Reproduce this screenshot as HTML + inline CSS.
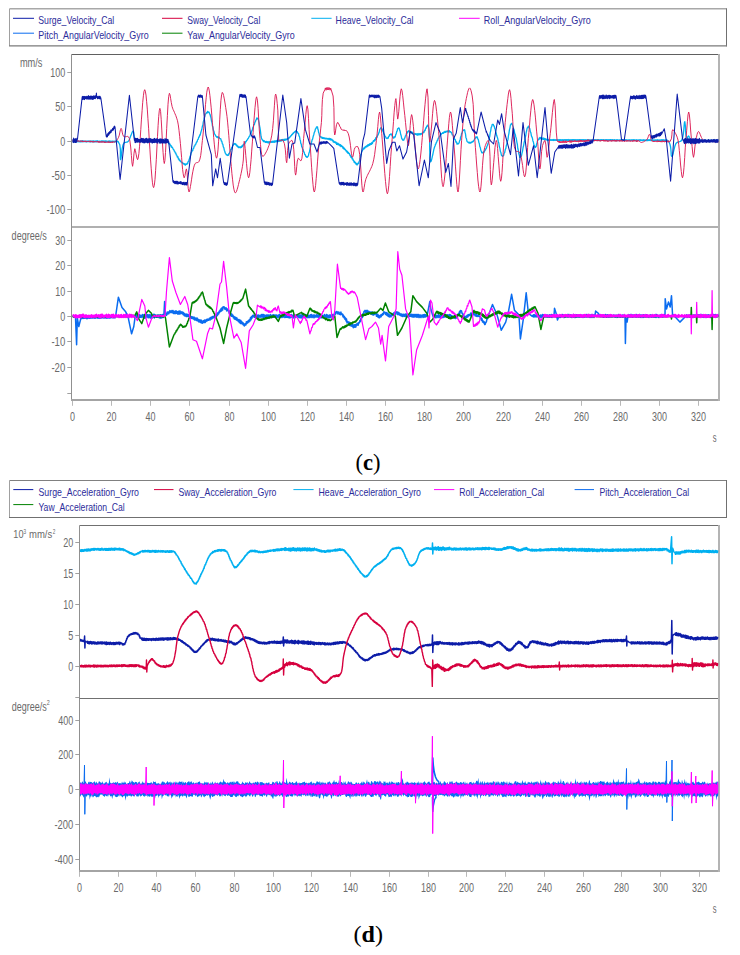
<!DOCTYPE html>
<html><head><meta charset="utf-8"><style>
html,body{margin:0;padding:0;background:#fff;width:740px;height:955px;overflow:hidden}
svg{display:block;font-family:"Liberation Sans", sans-serif}
</style></head><body>
<svg width="740" height="955" viewBox="0 0 740 955">
<line x1="9.5" y1="8.8" x2="726.5" y2="8.8" stroke="#a8a8a8" stroke-width="1.4"/>
<line x1="9.5" y1="8.8" x2="9.5" y2="45.8" stroke="#a0a0a0" stroke-width="1"/>
<line x1="726.5" y1="8.3" x2="726.5" y2="46.3" stroke="#707070" stroke-width="1"/>
<line x1="9.0" y1="45.8" x2="727.0" y2="45.8" stroke="#7a7a7a" stroke-width="1.3"/>
<line x1="13" y1="18.3" x2="34" y2="18.3" stroke="#0c1ca8" stroke-width="1"/>
<text x="38.3" y="24.3" font-size="11.5" text-anchor="start" fill="#2b2b9a" textLength="76" lengthAdjust="spacingAndGlyphs">Surge_Velocity_Cal</text>
<line x1="13" y1="33.2" x2="34" y2="33.2" stroke="#0a6cf0" stroke-width="1"/>
<text x="38.3" y="39.2" font-size="11.5" text-anchor="start" fill="#2b2b9a" textLength="110.3" lengthAdjust="spacingAndGlyphs">Pitch_AngularVelocity_Gyro</text>
<line x1="162" y1="18.3" x2="182.5" y2="18.3" stroke="#d6003e" stroke-width="1"/>
<text x="187.3" y="24.3" font-size="11.5" text-anchor="start" fill="#2b2b9a" textLength="73" lengthAdjust="spacingAndGlyphs">Sway_Velocity_Cal</text>
<line x1="162" y1="33.2" x2="182.5" y2="33.2" stroke="#008200" stroke-width="1"/>
<text x="187.3" y="39.2" font-size="11.5" text-anchor="start" fill="#2b2b9a" textLength="107.4" lengthAdjust="spacingAndGlyphs">Yaw_AngularVelocity_Gyro</text>
<line x1="311.3" y1="18.3" x2="331.6" y2="18.3" stroke="#00b0f0" stroke-width="1"/>
<text x="335.6" y="24.3" font-size="11.5" text-anchor="start" fill="#2b2b9a" textLength="77.9" lengthAdjust="spacingAndGlyphs">Heave_Velocity_Cal</text>
<line x1="459" y1="18.3" x2="479.7" y2="18.3" stroke="#ff00ff" stroke-width="1"/>
<text x="483.8" y="24.3" font-size="11.5" text-anchor="start" fill="#2b2b9a" textLength="107" lengthAdjust="spacingAndGlyphs">Roll_AngularVelocity_Gyro</text>
<line x1="9.5" y1="480.5" x2="726.5" y2="480.5" stroke="#808080" stroke-width="1"/>
<line x1="9.5" y1="480.5" x2="9.5" y2="517.5" stroke="#a0a0a0" stroke-width="1"/>
<line x1="726.5" y1="480.0" x2="726.5" y2="518.0" stroke="#707070" stroke-width="1"/>
<line x1="9.0" y1="517.5" x2="727.0" y2="517.5" stroke="#707070" stroke-width="1"/>
<line x1="13.3" y1="489.6" x2="33.3" y2="489.6" stroke="#0c1ca8" stroke-width="1"/>
<text x="38.5" y="495.6" font-size="11.5" text-anchor="start" fill="#2b2b9a" textLength="100.5" lengthAdjust="spacingAndGlyphs">Surge_Acceleration_Gyro</text>
<line x1="13.3" y1="504.6" x2="33.3" y2="504.6" stroke="#008200" stroke-width="1"/>
<text x="38.5" y="510.6" font-size="11.5" text-anchor="start" fill="#2b2b9a" textLength="86.3" lengthAdjust="spacingAndGlyphs">Yaw_Acceleration_Cal</text>
<line x1="154" y1="489.6" x2="173.5" y2="489.6" stroke="#d6003e" stroke-width="1"/>
<text x="178.4" y="495.6" font-size="11.5" text-anchor="start" fill="#2b2b9a" textLength="98" lengthAdjust="spacingAndGlyphs">Sway_Acceleration_Gyro</text>
<line x1="293.4" y1="489.6" x2="313.6" y2="489.6" stroke="#00b0f0" stroke-width="1"/>
<text x="318.5" y="495.6" font-size="11.5" text-anchor="start" fill="#2b2b9a" textLength="102.5" lengthAdjust="spacingAndGlyphs">Heave_Acceleration_Gyro</text>
<line x1="434" y1="489.6" x2="454.3" y2="489.6" stroke="#ff00ff" stroke-width="1"/>
<text x="459.2" y="495.6" font-size="11.5" text-anchor="start" fill="#2b2b9a" textLength="85.1" lengthAdjust="spacingAndGlyphs">Roll_Acceleration_Cal</text>
<line x1="574.6" y1="489.6" x2="594" y2="489.6" stroke="#0a6cf0" stroke-width="1"/>
<text x="599.5" y="495.6" font-size="11.5" text-anchor="start" fill="#2b2b9a" textLength="89.7" lengthAdjust="spacingAndGlyphs">Pitch_Acceleration_Cal</text>
<line x1="71.5" y1="54.5" x2="718" y2="54.5" stroke="#606060" stroke-width="1"/>
<line x1="719" y1="54.0" x2="719" y2="401" stroke="#b4b4b4" stroke-width="2"/>
<line x1="71.5" y1="54.5" x2="71.5" y2="400" stroke="#909090" stroke-width="1"/>
<line x1="71.0" y1="400" x2="718" y2="400" stroke="#a4a4a4" stroke-width="2"/>
<line x1="71.5" y1="227" x2="718" y2="227" stroke="#969696" stroke-width="1.5"/>
<line x1="67.3" y1="72.5" x2="71.0" y2="72.5" stroke="#a0a0a0" stroke-width="1"/>
<text x="65.2" y="77.0" font-size="12.3" text-anchor="end" fill="#6a6a6a" textLength="15.0" lengthAdjust="spacingAndGlyphs">100</text>
<line x1="67.3" y1="106.5" x2="71.0" y2="106.5" stroke="#a0a0a0" stroke-width="1"/>
<text x="65.2" y="111.0" font-size="12.3" text-anchor="end" fill="#6a6a6a" textLength="10.0" lengthAdjust="spacingAndGlyphs">50</text>
<line x1="67.3" y1="141.5" x2="71.0" y2="141.5" stroke="#a0a0a0" stroke-width="1"/>
<text x="65.2" y="146.0" font-size="12.3" text-anchor="end" fill="#6a6a6a" textLength="5.0" lengthAdjust="spacingAndGlyphs">0</text>
<line x1="67.3" y1="175.5" x2="71.0" y2="175.5" stroke="#a0a0a0" stroke-width="1"/>
<text x="65.2" y="180.0" font-size="12.3" text-anchor="end" fill="#6a6a6a" textLength="13.8" lengthAdjust="spacingAndGlyphs">-50</text>
<line x1="67.3" y1="209.5" x2="71.0" y2="209.5" stroke="#a0a0a0" stroke-width="1"/>
<text x="65.2" y="214.0" font-size="12.3" text-anchor="end" fill="#6a6a6a" textLength="18.8" lengthAdjust="spacingAndGlyphs">-100</text>
<line x1="67.3" y1="240.5" x2="71.0" y2="240.5" stroke="#a0a0a0" stroke-width="1"/>
<text x="65.2" y="245.0" font-size="12.3" text-anchor="end" fill="#6a6a6a" textLength="10.0" lengthAdjust="spacingAndGlyphs">30</text>
<line x1="67.3" y1="265.5" x2="71.0" y2="265.5" stroke="#a0a0a0" stroke-width="1"/>
<text x="65.2" y="270.0" font-size="12.3" text-anchor="end" fill="#6a6a6a" textLength="10.0" lengthAdjust="spacingAndGlyphs">20</text>
<line x1="67.3" y1="291.5" x2="71.0" y2="291.5" stroke="#a0a0a0" stroke-width="1"/>
<text x="65.2" y="296.0" font-size="12.3" text-anchor="end" fill="#6a6a6a" textLength="10.0" lengthAdjust="spacingAndGlyphs">10</text>
<line x1="67.3" y1="316.5" x2="71.0" y2="316.5" stroke="#a0a0a0" stroke-width="1"/>
<text x="65.2" y="321.0" font-size="12.3" text-anchor="end" fill="#6a6a6a" textLength="5.0" lengthAdjust="spacingAndGlyphs">0</text>
<line x1="67.3" y1="341.5" x2="71.0" y2="341.5" stroke="#a0a0a0" stroke-width="1"/>
<text x="65.2" y="346.0" font-size="12.3" text-anchor="end" fill="#6a6a6a" textLength="13.8" lengthAdjust="spacingAndGlyphs">-10</text>
<line x1="67.3" y1="367.5" x2="71.0" y2="367.5" stroke="#a0a0a0" stroke-width="1"/>
<text x="65.2" y="372.0" font-size="12.3" text-anchor="end" fill="#6a6a6a" textLength="13.8" lengthAdjust="spacingAndGlyphs">-20</text>
<line x1="67.3" y1="393.5" x2="71.0" y2="393.5" stroke="#a0a0a0" stroke-width="1"/>
<line x1="72.5" y1="401" x2="72.5" y2="405.8" stroke="#b8b8b8" stroke-width="1"/>
<text x="72.5" y="420.5" font-size="12.3" text-anchor="middle" fill="#6a6a6a" textLength="5.0" lengthAdjust="spacingAndGlyphs">0</text>
<line x1="111.5" y1="401" x2="111.5" y2="405.8" stroke="#b8b8b8" stroke-width="1"/>
<text x="111.5" y="420.5" font-size="12.3" text-anchor="middle" fill="#6a6a6a" textLength="10.0" lengthAdjust="spacingAndGlyphs">20</text>
<line x1="150.5" y1="401" x2="150.5" y2="405.8" stroke="#b8b8b8" stroke-width="1"/>
<text x="150.5" y="420.5" font-size="12.3" text-anchor="middle" fill="#6a6a6a" textLength="10.0" lengthAdjust="spacingAndGlyphs">40</text>
<line x1="189.5" y1="401" x2="189.5" y2="405.8" stroke="#b8b8b8" stroke-width="1"/>
<text x="189.5" y="420.5" font-size="12.3" text-anchor="middle" fill="#6a6a6a" textLength="10.0" lengthAdjust="spacingAndGlyphs">60</text>
<line x1="229.5" y1="401" x2="229.5" y2="405.8" stroke="#b8b8b8" stroke-width="1"/>
<text x="229.5" y="420.5" font-size="12.3" text-anchor="middle" fill="#6a6a6a" textLength="10.0" lengthAdjust="spacingAndGlyphs">80</text>
<line x1="268.5" y1="401" x2="268.5" y2="405.8" stroke="#b8b8b8" stroke-width="1"/>
<text x="268.5" y="420.5" font-size="12.3" text-anchor="middle" fill="#6a6a6a" textLength="15.0" lengthAdjust="spacingAndGlyphs">100</text>
<line x1="307.5" y1="401" x2="307.5" y2="405.8" stroke="#b8b8b8" stroke-width="1"/>
<text x="307.5" y="420.5" font-size="12.3" text-anchor="middle" fill="#6a6a6a" textLength="15.0" lengthAdjust="spacingAndGlyphs">120</text>
<line x1="346.5" y1="401" x2="346.5" y2="405.8" stroke="#b8b8b8" stroke-width="1"/>
<text x="346.5" y="420.5" font-size="12.3" text-anchor="middle" fill="#6a6a6a" textLength="15.0" lengthAdjust="spacingAndGlyphs">140</text>
<line x1="385.5" y1="401" x2="385.5" y2="405.8" stroke="#b8b8b8" stroke-width="1"/>
<text x="385.5" y="420.5" font-size="12.3" text-anchor="middle" fill="#6a6a6a" textLength="15.0" lengthAdjust="spacingAndGlyphs">160</text>
<line x1="424.5" y1="401" x2="424.5" y2="405.8" stroke="#b8b8b8" stroke-width="1"/>
<text x="424.5" y="420.5" font-size="12.3" text-anchor="middle" fill="#6a6a6a" textLength="15.0" lengthAdjust="spacingAndGlyphs">180</text>
<line x1="463.5" y1="401" x2="463.5" y2="405.8" stroke="#b8b8b8" stroke-width="1"/>
<text x="463.5" y="420.5" font-size="12.3" text-anchor="middle" fill="#6a6a6a" textLength="15.0" lengthAdjust="spacingAndGlyphs">200</text>
<line x1="503.5" y1="401" x2="503.5" y2="405.8" stroke="#b8b8b8" stroke-width="1"/>
<text x="503.5" y="420.5" font-size="12.3" text-anchor="middle" fill="#6a6a6a" textLength="15.0" lengthAdjust="spacingAndGlyphs">220</text>
<line x1="542.5" y1="401" x2="542.5" y2="405.8" stroke="#b8b8b8" stroke-width="1"/>
<text x="542.5" y="420.5" font-size="12.3" text-anchor="middle" fill="#6a6a6a" textLength="15.0" lengthAdjust="spacingAndGlyphs">240</text>
<line x1="581.5" y1="401" x2="581.5" y2="405.8" stroke="#b8b8b8" stroke-width="1"/>
<text x="581.5" y="420.5" font-size="12.3" text-anchor="middle" fill="#6a6a6a" textLength="15.0" lengthAdjust="spacingAndGlyphs">260</text>
<line x1="620.5" y1="401" x2="620.5" y2="405.8" stroke="#b8b8b8" stroke-width="1"/>
<text x="620.5" y="420.5" font-size="12.3" text-anchor="middle" fill="#6a6a6a" textLength="15.0" lengthAdjust="spacingAndGlyphs">280</text>
<line x1="659.5" y1="401" x2="659.5" y2="405.8" stroke="#b8b8b8" stroke-width="1"/>
<text x="659.5" y="420.5" font-size="12.3" text-anchor="middle" fill="#6a6a6a" textLength="15.0" lengthAdjust="spacingAndGlyphs">300</text>
<line x1="698.5" y1="401" x2="698.5" y2="405.8" stroke="#b8b8b8" stroke-width="1"/>
<text x="698.5" y="420.5" font-size="12.3" text-anchor="middle" fill="#6a6a6a" textLength="15.0" lengthAdjust="spacingAndGlyphs">320</text>
<text x="19.9" y="67" font-size="12" text-anchor="start" fill="#6a6a6a" textLength="22.6" lengthAdjust="spacingAndGlyphs">mm/s</text>
<text x="11.6" y="239.6" font-size="12" text-anchor="start" fill="#6a6a6a" textLength="35.2" lengthAdjust="spacingAndGlyphs">degree/s</text>
<text x="712.7" y="441.8" font-size="12.5" text-anchor="start" fill="#6a6a6a" textLength="3.8" lengthAdjust="spacingAndGlyphs">s</text>
<line x1="79.5" y1="525.5" x2="718" y2="525.5" stroke="#707070" stroke-width="1"/>
<line x1="719" y1="525.0" x2="719" y2="872" stroke="#b4b4b4" stroke-width="2"/>
<line x1="79.5" y1="525.5" x2="79.5" y2="871" stroke="#909090" stroke-width="1"/>
<line x1="79.0" y1="871" x2="718" y2="871" stroke="#a4a4a4" stroke-width="2"/>
<line x1="79.5" y1="698.5" x2="718" y2="698.5" stroke="#707070" stroke-width="1"/>
<line x1="75.3" y1="542.5" x2="79.0" y2="542.5" stroke="#a0a0a0" stroke-width="1"/>
<text x="73.2" y="547.0" font-size="12.3" text-anchor="end" fill="#6a6a6a" textLength="10.0" lengthAdjust="spacingAndGlyphs">20</text>
<line x1="75.3" y1="573.5" x2="79.0" y2="573.5" stroke="#a0a0a0" stroke-width="1"/>
<text x="73.2" y="578.0" font-size="12.3" text-anchor="end" fill="#6a6a6a" textLength="10.0" lengthAdjust="spacingAndGlyphs">15</text>
<line x1="75.3" y1="604.5" x2="79.0" y2="604.5" stroke="#a0a0a0" stroke-width="1"/>
<text x="73.2" y="609.0" font-size="12.3" text-anchor="end" fill="#6a6a6a" textLength="10.0" lengthAdjust="spacingAndGlyphs">10</text>
<line x1="75.3" y1="635.5" x2="79.0" y2="635.5" stroke="#a0a0a0" stroke-width="1"/>
<text x="73.2" y="640.0" font-size="12.3" text-anchor="end" fill="#6a6a6a" textLength="5.0" lengthAdjust="spacingAndGlyphs">5</text>
<line x1="75.3" y1="666.5" x2="79.0" y2="666.5" stroke="#a0a0a0" stroke-width="1"/>
<text x="73.2" y="671.0" font-size="12.3" text-anchor="end" fill="#6a6a6a" textLength="5.0" lengthAdjust="spacingAndGlyphs">0</text>
<line x1="75.3" y1="697.5" x2="79.0" y2="697.5" stroke="#a0a0a0" stroke-width="1"/>
<line x1="75.3" y1="720.5" x2="79.0" y2="720.5" stroke="#a0a0a0" stroke-width="1"/>
<text x="73.2" y="725.0" font-size="12.3" text-anchor="end" fill="#6a6a6a" textLength="15.0" lengthAdjust="spacingAndGlyphs">400</text>
<line x1="75.3" y1="754.5" x2="79.0" y2="754.5" stroke="#a0a0a0" stroke-width="1"/>
<text x="73.2" y="759.0" font-size="12.3" text-anchor="end" fill="#6a6a6a" textLength="15.0" lengthAdjust="spacingAndGlyphs">200</text>
<line x1="75.3" y1="789.5" x2="79.0" y2="789.5" stroke="#a0a0a0" stroke-width="1"/>
<text x="73.2" y="794.0" font-size="12.3" text-anchor="end" fill="#6a6a6a" textLength="5.0" lengthAdjust="spacingAndGlyphs">0</text>
<line x1="75.3" y1="824.5" x2="79.0" y2="824.5" stroke="#a0a0a0" stroke-width="1"/>
<text x="73.2" y="829.0" font-size="12.3" text-anchor="end" fill="#6a6a6a" textLength="18.8" lengthAdjust="spacingAndGlyphs">-200</text>
<line x1="75.3" y1="859.5" x2="79.0" y2="859.5" stroke="#a0a0a0" stroke-width="1"/>
<text x="73.2" y="864.0" font-size="12.3" text-anchor="end" fill="#6a6a6a" textLength="18.8" lengthAdjust="spacingAndGlyphs">-400</text>
<line x1="79.5" y1="872" x2="79.5" y2="876.8" stroke="#b8b8b8" stroke-width="1"/>
<text x="79.5" y="892.2" font-size="12.3" text-anchor="middle" fill="#6a6a6a" textLength="5.0" lengthAdjust="spacingAndGlyphs">0</text>
<line x1="118.5" y1="872" x2="118.5" y2="876.8" stroke="#b8b8b8" stroke-width="1"/>
<text x="118.5" y="892.2" font-size="12.3" text-anchor="middle" fill="#6a6a6a" textLength="10.0" lengthAdjust="spacingAndGlyphs">20</text>
<line x1="156.5" y1="872" x2="156.5" y2="876.8" stroke="#b8b8b8" stroke-width="1"/>
<text x="156.5" y="892.2" font-size="12.3" text-anchor="middle" fill="#6a6a6a" textLength="10.0" lengthAdjust="spacingAndGlyphs">40</text>
<line x1="195.5" y1="872" x2="195.5" y2="876.8" stroke="#b8b8b8" stroke-width="1"/>
<text x="195.5" y="892.2" font-size="12.3" text-anchor="middle" fill="#6a6a6a" textLength="10.0" lengthAdjust="spacingAndGlyphs">60</text>
<line x1="234.5" y1="872" x2="234.5" y2="876.8" stroke="#b8b8b8" stroke-width="1"/>
<text x="234.5" y="892.2" font-size="12.3" text-anchor="middle" fill="#6a6a6a" textLength="10.0" lengthAdjust="spacingAndGlyphs">80</text>
<line x1="273.5" y1="872" x2="273.5" y2="876.8" stroke="#b8b8b8" stroke-width="1"/>
<text x="273.5" y="892.2" font-size="12.3" text-anchor="middle" fill="#6a6a6a" textLength="15.0" lengthAdjust="spacingAndGlyphs">100</text>
<line x1="311.5" y1="872" x2="311.5" y2="876.8" stroke="#b8b8b8" stroke-width="1"/>
<text x="311.5" y="892.2" font-size="12.3" text-anchor="middle" fill="#6a6a6a" textLength="15.0" lengthAdjust="spacingAndGlyphs">120</text>
<line x1="350.5" y1="872" x2="350.5" y2="876.8" stroke="#b8b8b8" stroke-width="1"/>
<text x="350.5" y="892.2" font-size="12.3" text-anchor="middle" fill="#6a6a6a" textLength="15.0" lengthAdjust="spacingAndGlyphs">140</text>
<line x1="389.5" y1="872" x2="389.5" y2="876.8" stroke="#b8b8b8" stroke-width="1"/>
<text x="389.5" y="892.2" font-size="12.3" text-anchor="middle" fill="#6a6a6a" textLength="15.0" lengthAdjust="spacingAndGlyphs">160</text>
<line x1="428.5" y1="872" x2="428.5" y2="876.8" stroke="#b8b8b8" stroke-width="1"/>
<text x="428.5" y="892.2" font-size="12.3" text-anchor="middle" fill="#6a6a6a" textLength="15.0" lengthAdjust="spacingAndGlyphs">180</text>
<line x1="466.5" y1="872" x2="466.5" y2="876.8" stroke="#b8b8b8" stroke-width="1"/>
<text x="466.5" y="892.2" font-size="12.3" text-anchor="middle" fill="#6a6a6a" textLength="15.0" lengthAdjust="spacingAndGlyphs">200</text>
<line x1="505.5" y1="872" x2="505.5" y2="876.8" stroke="#b8b8b8" stroke-width="1"/>
<text x="505.5" y="892.2" font-size="12.3" text-anchor="middle" fill="#6a6a6a" textLength="15.0" lengthAdjust="spacingAndGlyphs">220</text>
<line x1="544.5" y1="872" x2="544.5" y2="876.8" stroke="#b8b8b8" stroke-width="1"/>
<text x="544.5" y="892.2" font-size="12.3" text-anchor="middle" fill="#6a6a6a" textLength="15.0" lengthAdjust="spacingAndGlyphs">240</text>
<line x1="583.5" y1="872" x2="583.5" y2="876.8" stroke="#b8b8b8" stroke-width="1"/>
<text x="583.5" y="892.2" font-size="12.3" text-anchor="middle" fill="#6a6a6a" textLength="15.0" lengthAdjust="spacingAndGlyphs">260</text>
<line x1="621.5" y1="872" x2="621.5" y2="876.8" stroke="#b8b8b8" stroke-width="1"/>
<text x="621.5" y="892.2" font-size="12.3" text-anchor="middle" fill="#6a6a6a" textLength="15.0" lengthAdjust="spacingAndGlyphs">280</text>
<line x1="660.5" y1="872" x2="660.5" y2="876.8" stroke="#b8b8b8" stroke-width="1"/>
<text x="660.5" y="892.2" font-size="12.3" text-anchor="middle" fill="#6a6a6a" textLength="15.0" lengthAdjust="spacingAndGlyphs">300</text>
<line x1="699.5" y1="872" x2="699.5" y2="876.8" stroke="#b8b8b8" stroke-width="1"/>
<text x="699.5" y="892.2" font-size="12.3" text-anchor="middle" fill="#6a6a6a" textLength="15.0" lengthAdjust="spacingAndGlyphs">320</text>
<text x="13.3" y="538.2" font-size="11.5" text-anchor="start" fill="#6a6a6a" textLength="10.2" lengthAdjust="spacingAndGlyphs">10</text>
<text x="23.5" y="534" font-size="7" text-anchor="start" fill="#6a6a6a" textLength="2.6" lengthAdjust="spacingAndGlyphs">3</text>
<text x="29" y="538.2" font-size="11.5" text-anchor="start" fill="#6a6a6a" textLength="23.2" lengthAdjust="spacingAndGlyphs">mm/s</text>
<text x="52.7" y="534" font-size="7" text-anchor="start" fill="#6a6a6a" textLength="2.6" lengthAdjust="spacingAndGlyphs">2</text>
<text x="11.7" y="710.8" font-size="12" text-anchor="start" fill="#6a6a6a" textLength="35" lengthAdjust="spacingAndGlyphs">degree/s</text>
<text x="46.8" y="705.3" font-size="7" text-anchor="start" fill="#6a6a6a" textLength="3" lengthAdjust="spacingAndGlyphs">2</text>
<text x="712.7" y="913" font-size="12.5" text-anchor="start" fill="#6a6a6a" textLength="3.8" lengthAdjust="spacingAndGlyphs">s</text>
<defs><clipPath id="c1"><rect x="72.5" y="55" width="646" height="344"/></clipPath><clipPath id="c2"><rect x="80" y="526.5" width="638.5" height="344.5"/></clipPath></defs>
<g clip-path="url(#c1)">
<polyline points="72.0,141.4 72.5,141.1 73.0,141.7 73.5,141.0 74.0,141.6 74.5,141.0 75.0,141.7 75.5,141.2 76.0,141.8 76.5,141.2 77.0,141.8 77.5,141.2 78.0,141.6 78.5,141.0 79.0,141.9 79.5,141.2 80.0,141.7 80.5,141.0 81.0,141.9 81.5,141.0 82.0,141.7 82.5,140.8 83.0,141.6 83.5,140.9 84.0,141.7 84.5,141.2 85.0,141.6 85.5,141.1 86.0,141.9 86.5,141.1 87.0,141.8 87.5,141.0 88.0,141.7 88.5,141.0 89.0,141.6 89.5,141.2 90.0,141.7 90.5,141.0 91.0,141.8 91.5,141.1 92.0,141.8 92.5,141.0 93.0,141.7 93.5,140.9 94.0,141.9 94.5,141.1 95.0,141.8 95.5,141.0 96.0,141.9 96.5,140.9 97.0,141.7 97.5,140.8 98.0,141.6 98.5,141.1 99.0,141.9 99.5,141.1 100.0,141.8 100.5,141.2 101.0,141.8 101.5,140.9 102.0,141.8 102.5,140.9 103.0,141.7 103.5,141.0 104.0,141.8 104.5,141.0 105.0,141.8 105.5,140.9 106.0,141.9 106.5,141.0 107.0,141.8 107.5,141.2 108.0,141.9 108.5,141.0 109.0,142.0 109.5,140.9 110.0,141.7 110.5,141.1 111.0,141.8 111.5,141.2 112.0,141.8 112.5,141.1 113.0,141.6 113.5,141.2 114.0,141.9 114.5,141.2 115.0,141.7 115.5,141.1 116.0,141.9 116.5,141.2 117.0,141.8 117.5,141.0 118.0,141.4 119.8,144.7 120.4,149.4 120.4,154.3 120.3,158.1 120.5,159.7 120.9,158.7 121.3,156.0 121.7,152.4 122.2,148.6 122.9,145.3 123.8,143.2 124.2,142.8 124.7,142.5 125.3,142.4 125.8,142.3 126.4,142.2 127.0,142.1 127.5,141.9 128.0,141.5 128.6,140.8 129.2,139.7 129.8,138.4 130.3,137.0 130.9,135.6 131.4,134.2 131.9,133.0 132.3,132.0 132.8,131.4 133.2,131.2 133.7,132.0 133.9,134.0 134.2,136.4 134.7,138.8 135.9,140.5 136.4,140.0 136.9,141.0 137.4,140.0 137.9,140.8 138.4,140.2 138.9,140.8 139.4,140.0 139.9,141.0 140.4,140.2 140.9,140.8 141.4,140.2 141.9,140.8 142.4,140.1 142.9,140.9 143.4,140.2 143.9,140.7 144.4,140.2 144.9,140.8 145.4,140.1 145.9,141.0 146.4,140.1 146.9,140.9 147.4,140.1 147.9,140.9 148.4,140.3 148.9,141.0 149.4,140.0 149.9,141.0 150.4,140.0 151.0,140.8 151.5,140.2 152.0,140.7 152.5,140.1 153.0,140.7 153.5,140.3 154.0,140.8 154.5,140.2 155.0,140.8 155.5,140.3 156.0,140.7 156.5,140.2 157.0,140.7 157.5,140.2 158.0,140.7 158.5,140.0 159.0,140.9 159.5,140.2 160.0,140.8 160.5,140.2 161.0,140.8 161.5,140.3 162.0,141.0 162.5,139.9 163.0,140.9 163.5,140.1 164.0,140.7 164.5,140.3 165.0,140.5 165.7,140.4 166.4,141.6 167.0,141.0 167.6,142.3 168.1,142.2 168.6,143.6 169.0,143.0 169.5,144.3 169.9,144.0 170.3,145.4 170.7,145.2 171.2,147.0 171.6,146.2 172.1,147.5 172.6,147.6 173.2,149.4 173.7,149.4 174.2,151.0 174.7,151.1 175.3,153.1 175.8,153.0 176.3,155.0 176.8,155.2 177.3,157.1 177.9,156.7 178.4,159.0 178.9,158.6 179.4,160.6 179.9,160.1 180.5,161.6 181.0,161.8 181.5,161.8 182.1,163.1 182.7,162.9 183.2,163.8 183.8,163.5 184.3,164.6 184.9,163.8 185.4,165.2 185.9,164.1 186.4,164.4 187.1,163.3 187.6,163.9 188.2,161.5 188.7,161.4 189.2,159.2 189.6,158.4 190.1,156.2 190.6,155.3 191.1,152.9 191.7,152.0 192.2,150.3 192.7,150.6 193.2,148.5 193.7,148.4 194.2,146.2 194.8,146.0 195.4,144.1 195.9,144.2 196.5,141.8 197.1,141.8 197.6,139.7 198.2,139.3 198.7,137.2 199.2,137.1 199.7,135.0 200.2,135.1 200.6,133.3 201.3,130.9 201.8,129.5 202.4,126.1 202.9,125.1 203.3,121.9 203.8,120.3 204.3,117.7 204.8,116.9 205.3,114.2 205.9,113.7 206.4,112.7 207.0,113.1 207.5,111.4 208.1,112.5 208.6,112.0 209.1,112.1 209.6,113.9 210.1,114.5 210.6,116.8 211.0,117.8 211.5,121.2 212.0,122.4 212.4,125.9 212.9,127.1 213.4,130.4 213.9,131.1 214.5,133.9 215.1,134.6 215.7,136.0 216.2,136.1 216.7,137.2 217.2,136.6 217.7,137.6 218.2,137.0 218.7,137.9 219.2,137.2 219.7,138.6 220.2,138.6 220.8,138.9 221.3,141.0 221.8,141.1 222.3,143.7 222.8,144.2 223.3,146.9 223.8,147.6 224.3,150.2 224.7,151.0 225.2,153.0 225.7,153.4 226.2,154.9 226.8,154.7 227.3,155.5 227.8,155.0 228.3,155.4 228.7,153.7 229.2,153.9 229.7,152.0 230.2,151.7 230.7,149.5 231.3,149.4 231.8,147.3 232.3,147.1 232.8,145.2 233.3,145.2 233.9,143.7 234.4,144.0 234.9,143.5 235.4,144.7 235.9,144.0 236.5,145.8 237.0,145.3 237.5,146.8 238.0,146.3 238.6,147.7 239.1,146.9 239.7,147.5 240.2,146.9 240.7,147.7 241.2,146.4 241.7,147.2 242.3,145.5 242.8,146.2 243.3,144.3 243.9,144.7 244.4,143.2 245.0,143.6 245.5,141.6 246.1,141.8 246.6,140.4 247.1,140.4 247.6,138.9 248.1,138.8 248.6,137.7 249.2,136.4 249.8,136.1 250.4,133.6 251.0,133.5 251.6,131.0 252.2,130.4 252.8,127.7 253.3,127.0 253.9,124.6 254.4,124.5 254.9,122.1 255.4,121.9 255.9,119.8 256.3,119.8 256.8,118.0 257.1,118.9 257.5,118.2 258.2,118.6 258.7,121.1 259.1,122.6 259.6,126.1 260.0,128.0 260.4,130.6 260.7,133.4 261.0,136.2 261.6,138.6 262.7,140.4 263.1,140.3 263.4,141.5 263.8,140.5 264.3,141.7 264.7,141.0 265.2,142.3 265.7,141.6 266.2,142.4 266.7,141.4 267.3,142.6 267.8,141.8 268.4,143.0 269.0,141.4 269.5,143.0 270.1,141.8 270.7,142.2 271.2,141.7 271.7,142.3 272.2,141.2 272.7,142.3 273.2,141.4 273.7,142.2 274.2,140.8 274.7,142.3 275.2,141.0 275.7,141.7 276.2,140.5 276.7,141.8 277.2,140.4 277.7,141.4 278.2,140.6 278.7,141.5 279.2,140.2 279.7,141.0 280.2,139.8 280.7,141.2 281.2,139.7 281.7,140.7 282.2,139.5 282.7,140.5 283.2,139.3 283.7,140.5 284.2,139.4 284.7,140.4 285.2,139.0 285.7,140.1 286.2,139.2 286.7,139.5 287.3,138.7 287.9,139.1 288.5,138.0 289.1,138.1 289.7,137.0 290.2,137.0 290.8,135.7 291.3,135.8 291.9,134.3 292.4,134.6 292.9,133.2 293.4,133.5 293.9,132.3 294.3,132.5 294.8,131.6 295.2,131.9 295.7,130.9 296.1,131.9 296.5,131.5 297.2,131.6 297.9,133.3 298.5,133.3 299.0,135.8 299.5,136.5 300.0,139.4 300.4,140.4 300.8,143.4 301.3,144.2 301.7,146.9 302.2,147.4 302.7,149.3 303.2,149.7 303.7,152.0 304.2,152.2 304.7,154.6 305.3,154.6 305.8,156.5 306.3,156.3 306.7,157.4 307.2,157.3 307.8,156.5 308.4,155.8 308.9,153.2 309.4,151.9 310.0,148.8 310.5,146.9 311.0,143.7 311.6,142.2 312.1,139.9 312.6,139.2 313.2,136.3 313.7,135.0 314.3,132.3 314.9,131.3 315.4,129.0 316.0,128.5 316.5,126.9 317.0,127.0 317.5,126.8 317.9,129.3 318.2,129.7 318.6,132.5 319.0,133.3 319.6,136.1 320.5,136.9 320.9,136.7 321.3,137.7 321.7,137.2 322.2,138.4 322.7,137.4 323.2,138.5 323.8,137.7 324.3,138.7 324.9,138.0 325.5,138.9 326.1,138.1 326.7,139.0 327.3,138.4 327.8,139.2 328.4,138.4 328.9,139.5 329.5,138.4 329.9,139.8 330.4,138.6 330.8,140.0 331.2,139.5 331.8,139.1 332.3,140.7 332.8,140.1 333.2,141.8 333.7,141.0 334.1,142.5 334.7,142.2 335.1,141.7 335.6,143.1 336.1,142.2 336.6,144.3 337.1,142.9 337.6,144.7 338.2,143.4 338.7,145.0 339.3,144.2 339.8,145.8 340.4,144.6 340.9,146.7 341.4,145.4 341.9,146.6 342.4,146.3 343.0,148.4 343.5,147.2 344.0,149.2 344.5,148.4 345.0,149.8 345.5,149.5 346.0,151.0 346.5,150.6 347.0,152.4 347.5,151.4 348.0,153.4 348.5,152.5 349.0,153.8 349.5,153.6 350.0,155.7 350.5,155.5 351.0,157.4 351.6,156.6 352.1,158.9 352.6,158.4 353.2,160.7 353.7,160.3 354.2,162.3 354.7,161.6 355.2,163.2 355.7,162.8 356.2,164.5 356.6,163.5 357.1,165.0 357.5,164.2 358.1,163.0 358.7,163.6 359.1,161.4 359.5,161.0 359.9,158.2 360.3,157.8 360.7,154.7 361.2,154.2 361.7,151.6 362.3,150.9 363.0,149.3 363.4,148.3 363.9,149.1 364.3,147.3 364.8,148.2 365.3,146.7 365.9,147.1 366.4,145.8 367.0,146.8 367.6,144.9 368.1,146.1 368.7,144.5 369.3,145.4 369.8,143.7 370.4,144.7 370.9,143.3 371.4,144.3 371.9,142.5 372.4,143.6 372.8,142.2 373.5,140.6 374.1,141.2 374.7,139.5 375.2,140.3 375.8,137.7 376.3,138.6 376.8,136.7 377.2,137.0 377.7,134.8 378.1,135.0 378.7,133.1 379.2,132.1 379.7,129.5 380.2,129.0 380.8,128.0 381.2,127.5 381.7,129.0 382.2,129.0 382.7,131.1 383.2,131.2 383.8,133.8 384.3,134.2 384.9,136.4 385.5,136.4 386.0,138.0 386.5,138.1 387.0,138.6 387.5,137.9 388.1,138.2 388.6,136.5 389.1,136.3 389.6,134.7 390.1,134.9 390.6,134.2 391.1,133.8 391.6,135.1 392.1,135.0 392.6,137.0 393.1,136.8 393.6,138.2 394.1,137.7 394.6,136.7 395.2,137.0 395.7,134.7 396.2,133.9 396.7,131.5 397.2,131.1 397.6,128.7 398.1,128.7 398.6,128.0 399.2,128.1 399.7,130.3 400.2,131.6 400.7,134.5 401.2,135.8 401.8,138.8 402.4,139.1 403.0,140.4 403.5,139.9 403.9,140.0 404.4,138.2 404.9,137.9 405.4,135.9 405.9,135.7 406.5,133.2 407.1,133.4 407.7,131.4 408.4,131.5 408.8,130.6 409.3,132.2 409.8,130.9 410.3,132.4 410.8,131.6 411.3,132.9 411.8,131.9 412.3,133.5 412.9,132.5 413.4,133.9 413.9,133.4 414.5,134.7 415.0,133.7 415.5,134.2 416.0,133.7 416.5,134.8 417.0,133.9 417.6,135.1 418.1,133.5 418.6,134.8 419.2,133.7 419.7,134.7 420.2,133.6 420.7,134.6 421.2,133.5 421.7,134.1 422.2,133.1 422.6,133.3 423.3,131.9 423.9,132.5 424.5,130.5 425.1,130.6 425.7,127.8 426.2,128.1 426.7,126.2 427.1,126.3 427.6,125.1 428.0,125.3 429.1,129.3 429.6,138.4 429.7,149.1 429.9,158.0 430.6,161.8 431.0,161.4 431.4,160.4 431.8,158.8 432.3,156.7 432.8,154.5 433.3,152.1 433.8,149.7 434.4,147.5 435.1,145.7 435.5,144.3 435.9,144.0 436.4,142.3 436.8,142.0 437.3,140.1 437.7,140.3 438.2,138.1 438.7,138.1 439.3,136.4 439.8,136.4 440.4,134.7 441.0,134.8 441.6,133.6 442.2,133.3 442.7,132.6 443.2,133.4 443.7,132.1 444.3,132.6 444.8,131.4 445.4,132.4 446.0,131.3 446.6,131.8 447.1,131.0 447.7,131.7 448.2,130.8 448.7,132.0 449.2,130.7 449.6,132.0 450.0,131.5 450.7,131.7 451.2,132.8 451.7,132.7 452.2,134.8 452.7,135.0 453.2,135.3 453.7,137.3 454.2,137.7 454.8,139.6 455.3,139.7 455.9,142.2 456.5,141.9 457.0,144.0 457.5,143.5 458.0,144.0 458.6,143.3 459.1,142.9 459.6,140.7 460.2,140.0 460.6,136.9 461.1,136.3 461.6,133.4 462.0,133.1 462.5,131.5 463.1,130.1 463.6,130.4 464.2,129.7 464.7,130.1 465.1,132.6 465.5,133.9 465.9,137.4 466.4,138.6 467.0,141.4 467.8,142.2 468.3,142.2 468.8,143.0 469.4,142.2 469.9,143.3 470.5,142.4 471.1,142.9 471.7,141.9 472.2,142.2 472.8,141.3 473.3,141.6 473.8,140.1 474.3,140.1 474.8,138.5 475.3,138.4 475.8,136.9 476.2,137.7 476.7,136.9 477.3,136.8 477.8,139.1 478.3,139.5 478.8,142.2 479.3,143.5 479.8,146.7 480.3,147.5 480.8,150.3 481.3,151.2 481.8,152.9 482.4,152.9 482.9,152.3 483.4,153.0 483.9,151.7 484.4,151.9 484.9,149.9 485.5,150.0 486.0,148.4 486.5,148.1 486.9,146.3 487.4,145.7 488.1,143.3 488.7,141.9 489.2,138.3 489.7,136.6 490.2,132.7 490.7,130.8 491.2,127.4 491.7,126.6 492.2,124.3 492.7,124.4 493.2,124.3 493.7,125.8 494.2,126.0 494.7,128.4 495.2,129.1 495.7,132.0 496.2,133.1 496.7,135.6 497.2,136.9 497.7,138.4 498.3,141.7 498.8,143.0 499.3,146.5 499.9,148.4 500.4,151.5 500.9,152.6 501.4,155.2 502.0,155.7 502.5,156.4 503.0,155.8 503.6,155.6 504.2,153.1 504.7,152.6 505.3,149.4 505.8,148.6 506.4,145.2 506.9,144.0 507.4,141.3 508.0,139.4 508.5,135.4 508.9,133.6 509.4,129.9 509.9,128.1 510.4,125.0 510.9,124.4 511.4,123.5 511.9,123.5 512.5,125.2 513.0,126.2 513.6,128.7 514.2,130.1 514.7,133.4 515.3,134.6 515.8,136.9 516.3,138.5 516.9,142.3 517.4,144.5 517.8,148.5 518.3,150.2 518.8,153.8 519.3,155.1 519.8,157.3 520.3,157.3 520.8,156.4 521.4,156.1 522.0,153.1 522.5,151.3 523.1,147.5 523.6,145.6 524.2,142.2 524.7,140.4 525.2,137.4 525.7,136.0 526.2,132.5 526.7,130.5 527.2,127.9 527.8,127.4 528.3,126.2 528.8,126.2 529.3,128.3 529.8,128.6 530.3,131.6 530.9,132.8 531.4,135.9 531.9,136.9 532.4,138.1 532.9,140.9 533.4,142.0 533.9,144.8 534.4,145.6 534.9,147.3 535.4,147.5 535.8,146.5 536.2,146.6 536.6,143.9 537.0,143.3 537.5,140.7 538.2,139.9 539.0,138.6 539.3,137.9 539.7,139.1 540.0,137.4 540.4,138.7 540.8,137.7 541.2,138.7 541.6,137.7 542.0,139.2 542.4,138.1 542.9,139.3 543.4,138.0 543.9,139.6 544.4,138.3 545.0,139.8 545.5,138.8 546.1,139.9 546.8,139.1 547.4,140.5 548.1,139.5 548.8,140.3 549.6,140.0 550.1,139.6 550.6,140.3 551.1,139.8 551.6,140.2 552.1,139.7 552.6,140.3 553.1,139.5 553.6,140.5 554.1,139.5 554.6,140.3 555.1,139.8 555.6,140.2 556.1,139.7 556.6,140.4 557.1,139.7 557.6,140.3 558.1,139.7 558.6,140.4 559.1,139.6 559.6,140.4 560.1,139.6 560.6,140.4 561.1,139.8 561.6,140.5 562.1,139.8 562.6,140.4 563.1,139.7 563.6,140.4 564.1,139.8 564.6,140.3 565.1,139.8 565.6,140.2 566.1,139.6 566.6,140.4 567.1,139.8 567.6,140.3 568.1,139.5 568.6,140.4 569.1,139.8 569.7,140.5 570.2,139.7 570.7,140.5 571.2,139.8 571.7,140.4 572.2,139.6 572.7,140.5 573.2,139.6 573.7,140.2 574.2,139.8 574.7,140.3 575.2,139.8 575.7,140.5 576.2,139.7 576.7,140.5 577.2,139.8 577.7,140.5 578.2,139.7 578.7,140.3 579.2,139.6 579.7,140.5 580.2,139.8 580.7,140.4 581.2,139.7 581.7,140.3 582.2,139.8 582.7,140.3 583.2,139.8 583.7,140.3 584.2,139.7 584.7,140.4 585.2,139.8 585.7,140.2 586.2,139.8 586.7,140.5 587.2,139.8 587.7,140.3 588.2,139.8 588.7,140.5 589.2,139.7 589.7,140.3 590.2,139.9 590.7,140.4 591.2,139.7 591.7,140.4 592.2,139.9 592.7,140.3 593.2,139.7 593.7,140.4 594.2,139.8 594.7,140.3 595.2,139.6 595.7,140.3 596.2,139.7 596.7,140.4 597.2,139.8 597.7,140.5 598.2,139.6 598.7,140.4 599.2,139.8 599.7,140.5 600.2,139.8 600.7,140.3 601.2,139.6 601.7,140.4 602.2,139.7 602.7,140.4 603.2,139.6 603.7,140.4 604.2,139.9 604.7,140.3 605.2,139.7 605.7,140.5 606.2,139.6 606.7,140.3 607.2,139.7 607.7,140.4 608.2,139.8 608.8,140.3 609.3,139.8 609.8,140.4 610.3,139.6 610.8,140.3 611.3,139.8 611.8,140.5 612.3,139.6 612.8,140.3 613.3,139.9 613.8,140.6 614.3,139.6 614.8,140.4 615.3,139.9 615.8,140.6 616.3,139.8 616.8,140.6 617.3,139.7 617.8,140.5 618.3,139.9 618.8,140.5 619.3,139.9 619.8,140.4 620.3,139.7 620.8,140.6 621.3,139.9 621.8,140.4 622.3,139.8 622.8,140.5 623.3,139.8 623.8,140.3 624.3,139.9 624.8,140.5 625.3,139.7 625.8,140.3 626.3,139.8 626.8,140.5 627.3,139.9 627.8,140.6 628.3,139.9 628.8,140.5 629.3,139.8 629.8,140.5 630.3,139.9 630.8,140.4 631.3,139.8 631.8,140.4 632.3,139.8 632.8,140.5 633.3,139.8 633.8,140.3 634.3,139.8 634.8,140.5 635.3,139.9 635.8,140.6 636.3,139.7 636.8,140.5 637.3,139.9 637.8,140.5 638.3,139.9 638.8,140.4 639.3,139.8 639.8,140.4 640.3,139.8 640.8,140.5 641.3,140.0 641.8,140.5 642.3,140.0 642.8,140.6 643.3,139.7 643.8,140.5 644.3,140.0 644.8,140.5 645.3,139.9 645.8,140.6 646.3,139.9 646.8,140.6 647.3,139.7 647.9,140.6 648.4,139.7 648.9,140.4 649.4,139.7 649.9,140.5 650.4,139.7 650.9,140.6 651.4,139.9 651.9,140.6 652.4,139.7 652.9,140.4 653.4,139.9 653.9,140.6 654.4,140.0 654.9,140.6 655.4,139.9 655.9,140.6 656.4,140.0 656.9,140.5 657.4,139.7 657.9,140.4 658.4,139.9 658.9,140.5 659.4,139.9 659.9,140.4 660.4,140.0 660.9,140.4 661.4,139.7 661.9,140.6 662.4,139.7 662.9,140.4 663.4,139.8 663.9,140.4 664.4,139.9 664.9,140.6 665.4,139.9 665.9,140.6 666.4,139.8 666.9,140.6 667.4,140.2 669.0,142.0 670.0,144.4 670.6,147.0 670.9,149.8 671.1,152.3 671.2,154.4 671.4,155.9 671.8,156.4 672.3,156.0 672.7,155.0 673.1,153.5 673.5,151.7 674.0,149.7 674.5,147.7 675.0,145.8 675.6,144.2 676.3,143.1 676.8,142.7 677.3,142.3 677.8,142.1 678.4,141.9 679.0,141.8 679.6,141.7 680.1,141.5 680.7,141.2 681.2,140.9 681.6,140.4 682.6,137.9 683.3,134.1 683.8,129.8 684.1,125.8 684.4,122.8 684.8,121.7 685.4,126.0 685.8,134.1 686.6,138.6 687.2,138.0 687.8,136.7 688.5,136.0 689.0,136.4 689.3,137.3 689.8,138.5 690.4,139.7 691.4,140.6 691.9,140.1 692.4,140.8 692.9,140.1 693.4,141.0 693.9,140.3 694.4,141.0 694.9,140.3 695.4,141.1 695.9,140.2 696.4,140.9 696.9,140.2 697.4,140.9 697.9,140.4 698.4,141.0 698.9,140.4 699.4,141.0 699.9,140.3 700.4,141.0 700.9,140.1 701.4,141.0 701.9,140.2 702.4,140.9 702.9,140.4 703.4,140.8 703.9,140.4 704.4,141.0 704.9,140.3 705.5,140.9 706.0,140.1 706.5,140.8 707.0,140.4 707.5,141.0 708.0,140.4 708.5,140.8 709.0,140.3 709.5,140.8 710.0,140.3 710.5,140.8 711.0,140.2 711.5,141.0 712.0,140.4 712.5,141.0 713.0,140.3 713.5,140.8 714.0,140.1 714.5,140.8 715.0,140.4 715.5,140.8 716.0,140.2 716.5,141.0 717.0,140.2 717.5,140.9 718.0,140.3 718.5,140.8 719.0,140.6" fill="none" stroke="#00b0f0" stroke-width="1.3" stroke-linejoin="round"/>
<polyline points="72.0,141.0 72.6,140.4 73.2,141.6 73.8,140.6 74.4,141.7 75.0,140.6 75.6,141.9 76.2,140.5 76.8,141.6 77.4,140.4 78.0,141.5 78.6,140.6 79.2,141.7 79.8,140.8 80.4,141.6 81.0,140.6 81.6,141.6 82.2,140.7 82.8,142.1 83.4,141.0 84.0,141.8 84.6,140.8 85.2,142.0 85.8,140.8 86.4,142.1 87.0,141.1 87.6,141.9 88.2,141.1 88.8,141.8 89.4,140.8 90.0,142.2 90.6,140.9 91.2,141.9 91.8,140.9 92.4,142.3 93.0,141.1 93.6,142.3 94.2,141.2 94.8,142.1 95.4,141.4 96.0,142.1 96.6,141.5 97.2,142.2 97.8,141.1 98.4,142.5 99.0,141.1 99.6,142.5 100.2,141.5 100.8,142.5 101.4,141.4 102.0,142.6 102.6,141.4 103.2,142.4 103.8,141.4 104.4,142.8 105.0,141.6 105.6,142.8 106.2,141.8 106.8,142.5 107.4,141.7 108.0,142.8 108.6,141.4 109.2,142.8 109.8,141.7 110.4,142.9 111.0,141.8 111.6,142.6 112.2,141.5 112.8,142.9 113.4,141.6 114.0,142.3 115.0,141.8 115.8,141.3 116.5,140.7 117.0,140.0 117.5,139.3 117.9,138.5 118.4,137.7 119.3,135.2 119.9,132.1 120.5,129.5 121.1,128.4 121.7,129.5 122.2,132.1 122.8,134.8 123.8,136.6 124.3,136.8 125.0,136.8 125.7,136.7 126.4,136.6 127.1,136.4 127.7,136.4 128.2,136.6 129.3,138.3 129.9,141.0 130.7,147.0 131.4,155.5 132.0,163.0 132.6,166.3 133.3,161.8 134.0,153.3 134.8,148.7 135.4,150.4 136.1,154.2 136.9,158.0 137.6,159.7 138.2,158.0 138.9,153.5 139.5,146.8 140.2,138.6 140.8,129.4 141.4,119.9 142.1,110.7 142.7,102.4 143.4,95.8 144.0,91.3 144.7,89.7 145.3,91.1 146.0,95.1 146.6,101.3 147.3,109.1 147.9,118.3 148.6,128.2 149.2,138.7 149.9,149.1 150.5,159.1 151.2,168.2 151.8,176.0 152.4,182.2 153.0,186.2 153.6,187.6 154.3,185.4 155.0,179.4 155.6,170.5 156.3,159.7 156.9,148.0 157.5,136.3 158.1,125.5 158.7,116.6 159.3,110.6 159.9,108.4 160.6,111.5 161.2,119.3 161.8,130.1 162.4,141.8 163.1,152.6 163.7,160.4 164.3,163.5 164.9,160.5 165.5,152.5 166.1,141.3 166.7,128.4 167.4,115.6 168.0,104.3 168.7,96.4 169.4,93.3 170.0,94.7 170.6,98.3 171.3,102.6 172.1,106.6 172.6,108.1 173.1,109.5 173.8,110.9 174.4,112.3 175.0,113.8 175.7,115.3 176.3,117.0 176.9,118.8 177.5,120.8 178.3,124.9 179.0,130.3 179.7,136.6 180.4,143.4 181.0,150.5 181.6,157.4 182.1,163.8 182.6,169.4 183.2,173.8 183.7,176.7 184.2,177.8 185.0,175.5 185.7,171.2 186.4,168.9 187.1,172.5 187.6,180.5 188.2,188.4 189.0,192.0 189.5,191.3 189.9,189.4 190.4,186.6 191.0,183.1 191.6,179.2 192.2,175.1 192.9,171.3 193.6,167.9 194.4,165.2 195.2,163.5 195.8,163.0 196.4,162.7 197.0,162.6 197.7,162.5 198.3,162.3 198.8,161.8 199.9,159.2 200.7,155.5 201.3,150.8 201.8,145.7 202.4,140.4 203.0,134.9 203.7,128.1 204.3,120.4 204.9,112.5 205.5,104.7 206.2,97.8 206.8,92.2 207.5,88.4 208.2,87.0 208.7,88.0 209.3,90.9 209.9,95.4 210.5,101.1 211.2,107.8 211.8,115.0 212.4,122.6 213.1,130.2 213.7,137.5 214.3,144.1 214.9,149.8 215.5,154.3 216.1,157.2 216.6,158.2 217.3,155.9 218.0,149.9 218.6,141.2 219.2,130.8 219.7,119.9 220.3,109.5 220.9,100.8 221.6,94.7 222.3,92.4 222.9,93.2 223.6,95.5 224.3,98.9 225.0,103.0 225.7,107.5 226.4,112.0 227.0,116.5 227.6,122.1 228.2,128.6 228.8,135.7 229.4,143.4 230.0,151.2 230.6,159.0 231.3,166.5 231.9,173.5 232.6,179.8 233.2,185.1 233.9,189.2 234.6,191.9 235.3,192.9 235.9,192.5 236.6,191.2 237.2,189.3 237.9,186.9 238.5,184.4 239.1,181.9 239.7,179.6 240.4,176.6 241.1,173.4 241.8,170.0 242.4,166.7 242.9,163.3 243.3,160.0 244.2,141.3 244.6,143.3 245.2,148.5 245.8,155.7 246.5,163.4 247.2,170.6 247.9,175.8 248.6,177.8 249.2,176.4 249.8,172.6 250.4,166.8 251.1,159.5 251.7,151.1 252.4,141.9 253.1,132.6 253.7,123.5 254.4,115.1 255.0,107.7 255.6,102.0 256.1,98.2 256.6,96.8 257.4,100.1 258.1,108.4 258.7,119.1 259.3,130.0 260.0,138.6 260.5,144.4 261.0,150.1 261.6,154.5 262.7,156.4 263.2,156.3 263.7,155.9 264.3,155.2 264.9,154.3 265.6,153.1 266.3,151.8 267.0,150.4 267.7,148.8 268.3,147.1 269.0,145.4 269.6,143.7 270.2,142.0 270.7,140.4 271.8,135.2 272.7,128.4 273.4,120.8 273.9,113.0 274.4,105.8 274.8,99.8 275.2,95.6 275.7,94.1 276.5,96.9 277.2,103.3 277.8,110.2 278.7,140.4 279.2,140.7 279.8,140.7 280.5,140.5 281.2,140.3 281.9,140.1 282.5,140.1 283.1,140.4 284.4,143.6 285.3,149.2 285.8,155.5 286.2,160.6 286.7,162.7 287.2,158.7 287.5,150.5 288.5,144.0 289.1,142.9 289.8,141.8 290.6,141.0 291.3,140.5 292.0,140.4 293.1,143.3 293.8,149.8 294.3,158.1 294.7,166.3 295.1,172.6 295.6,175.1 296.2,172.5 296.7,166.8 297.3,161.0 298.3,158.2 298.9,158.6 299.6,159.6 300.3,160.5 300.9,160.9 301.9,158.3 302.6,152.6 303.0,145.4 303.6,138.6 304.3,131.4 305.1,122.7 305.8,114.4 306.5,108.2 307.2,105.7 307.9,109.3 308.5,118.3 309.1,129.6 309.8,140.4 310.4,148.1 311.0,157.4 311.6,167.2 312.3,176.6 313.0,184.5 313.6,190.0 314.3,192.0 314.9,190.2 315.6,185.4 316.2,178.5 316.9,170.3 317.5,161.9 318.1,154.0 318.7,147.5 319.4,140.9 320.1,134.8 320.7,128.9 321.4,122.6 321.8,115.5 322.0,107.5 322.4,99.6 323.2,93.2 324.9,89.5 325.4,87.9 326.0,90.3 326.7,87.6 327.3,89.9 328.0,87.3 328.7,89.9 329.4,87.7 330.1,90.2 330.7,88.2 331.2,89.7 333.1,96.0 333.9,107.4 334.1,120.2 334.2,130.7 334.7,135.0 335.3,133.1 335.8,128.9 336.5,124.7 337.4,122.6 337.9,122.4 338.5,124.1 339.1,124.2 339.7,126.5 340.4,126.9 341.1,129.2 341.9,129.7 342.5,129.8 343.2,130.6 343.9,129.6 344.6,130.9 345.3,130.2 346.0,131.0 346.6,130.7 347.2,131.5 348.3,133.6 349.2,137.0 349.9,141.2 350.5,145.7 351.0,150.1 351.5,153.8 352.0,156.3 352.5,157.3 353.1,156.0 353.6,153.0 354.2,149.7 355.0,147.5 355.6,147.0 356.3,146.6 357.0,146.4 357.7,146.6 358.8,149.1 359.7,154.6 360.3,161.8 360.9,170.0 361.4,178.1 361.9,185.2 362.4,190.1 363.0,192.0 363.6,190.7 364.2,187.4 364.8,183.4 365.7,179.6 366.2,178.2 366.8,176.8 367.4,175.4 368.1,174.0 368.8,172.6 369.6,171.2 370.3,169.7 371.0,168.2 371.7,166.7 372.3,165.1 372.8,163.5 373.8,159.2 374.6,154.7 375.2,150.1 375.8,145.3 376.4,140.4 377.1,134.0 377.8,126.5 378.4,119.4 379.0,114.1 379.6,112.0 380.3,115.5 381.0,123.8 381.7,133.3 382.2,139.3 382.8,147.0 383.4,155.7 384.1,164.7 384.8,173.5 385.5,181.5 386.2,187.9 386.8,192.2 387.4,193.8 388.1,191.5 388.8,185.3 389.5,176.5 390.2,166.5 390.8,156.4 391.5,147.5 392.1,139.7 392.8,130.8 393.5,121.5 394.1,112.8 394.8,105.5 395.4,100.5 395.9,98.6 396.5,103.9 397.1,113.8 397.7,119.1 398.2,116.9 398.8,111.3 399.4,104.0 400.0,96.7 400.7,91.0 401.3,88.8 402.0,90.7 402.7,95.6 403.4,102.1 404.1,109.2 404.8,115.5 405.5,122.4 406.3,130.3 407.0,137.9 407.7,143.5 408.4,145.7 409.0,142.5 409.6,134.8 410.2,125.5 410.9,117.8 411.6,114.6 412.1,116.1 412.7,120.2 413.4,126.3 414.0,133.7 414.7,141.7 415.4,149.8 416.1,157.2 416.8,163.3 417.5,167.4 418.2,168.9 418.8,167.7 419.5,164.5 420.2,159.4 420.9,153.0 421.6,145.5 422.3,137.3 423.0,128.8 423.7,120.3 424.3,112.1 425.0,104.7 425.6,98.2 426.2,93.2 426.7,90.0 427.1,88.8 428.0,97.2 428.5,115.5 428.9,133.8 429.7,142.2 430.2,140.4 430.7,135.7 431.3,129.0 432.0,121.3 432.6,113.6 433.2,106.9 433.9,102.2 434.5,100.4 435.2,101.9 435.9,105.8 436.6,111.5 437.3,118.2 438.0,125.1 438.6,131.5 439.3,139.5 439.9,149.3 440.5,159.8 441.1,169.9 441.7,178.5 442.4,184.5 443.1,186.7 443.6,185.2 444.2,181.2 444.9,175.0 445.5,167.3 446.2,158.6 446.8,149.4 447.5,140.1 448.2,131.4 448.8,123.7 449.4,117.5 450.0,113.5 450.5,112.0 451.2,113.9 451.8,118.9 452.4,125.7 453.0,133.3 453.6,140.4 454.2,147.9 454.9,157.0 455.5,166.9 456.2,176.3 456.8,184.3 457.4,189.9 458.0,192.0 458.6,189.3 459.2,182.1 459.8,172.0 460.4,160.7 461.0,149.6 461.6,140.4 462.2,132.6 462.8,125.0 463.4,117.8 464.2,111.0 465.1,104.8 465.7,101.7 466.3,98.5 467.0,95.3 467.6,92.4 468.3,90.1 469.0,88.5 469.6,87.9 470.3,88.6 471.0,90.5 471.6,93.0 472.2,95.9 473.2,104.4 473.7,115.7 474.2,128.2 474.9,140.4 475.4,147.4 476.0,155.5 476.6,164.0 477.3,172.4 477.9,180.0 478.6,186.3 479.3,190.5 479.9,192.0 480.5,190.4 481.0,186.2 481.5,180.1 482.0,172.9 482.5,165.3 483.1,158.0 483.8,151.8 484.7,147.5 485.3,145.7 485.9,144.1 486.5,142.6 487.2,141.4 487.8,140.6 488.3,140.4 489.4,145.2 490.0,156.3 490.3,169.4 490.7,180.3 491.3,184.9 491.8,183.0 492.4,178.0 493.0,170.8 493.7,162.7 494.4,154.5 495.0,147.4 495.7,142.3 496.3,140.4 497.0,142.7 497.6,148.5 498.2,156.5 498.9,165.2 499.5,173.2 500.1,179.0 500.7,181.3 501.4,178.9 502.0,172.6 502.6,163.5 503.2,152.7 503.8,141.6 504.5,131.1 505.2,122.6 505.8,116.8 506.4,110.6 507.1,104.4 507.8,98.7 508.4,94.0 509.0,90.9 509.6,89.7 510.3,92.2 511.0,98.4 511.6,106.2 512.3,113.7 512.8,121.5 513.1,130.5 513.5,139.4 514.3,146.7 515.8,151.0 516.3,151.4 516.9,151.5 517.6,151.5 518.2,151.5 518.8,151.6 519.4,152.0 520.4,153.9 521.2,157.1 521.9,161.2 522.6,165.6 523.1,169.8 523.7,173.5 524.2,176.0 524.7,176.9 525.6,174.1 526.3,167.1 527.0,157.6 527.6,147.5 528.3,138.6 528.9,132.3 529.5,125.2 530.1,117.8 530.8,110.8 531.4,105.0 532.1,101.0 532.7,99.5 533.3,100.9 534.0,104.8 534.7,110.4 535.4,117.1 536.0,124.2 536.6,131.1 537.2,136.9 538.0,146.6 538.6,157.0 539.2,165.5 539.9,168.9 540.5,166.0 541.0,159.2 541.6,151.4 542.5,145.7 543.1,143.8 543.8,142.1 544.4,140.8 545.0,140.4 545.9,144.9 546.5,153.0 547.1,157.3 547.7,155.6 548.3,151.4 549.0,145.5 549.6,139.1 550.3,133.3 551.0,127.2 551.7,120.0 552.4,112.5 553.1,106.0 553.7,101.3 554.3,99.5 555.1,105.3 555.7,118.3 556.3,132.1 557.1,140.4 558.0,142.0 558.6,141.0 559.2,142.9 559.8,141.0 560.4,142.9 561.0,141.4 561.6,142.7 562.2,141.1 562.8,142.9 563.4,140.7 564.0,142.9 564.6,141.3 565.2,142.8 565.8,140.6 566.4,142.8 567.1,141.1 567.7,142.2 568.3,141.1 568.9,142.0 569.5,140.5 570.1,142.6 570.7,140.6 571.3,142.5 571.9,140.5 572.5,142.1 573.1,140.9 573.7,141.9 574.3,140.3 574.9,141.9 575.5,140.6 576.1,142.0 576.7,140.8 577.3,141.8 577.9,140.6 578.5,142.2 579.1,140.4 579.7,141.8 580.3,139.9 580.9,141.9 581.5,140.0 582.1,141.9 582.7,140.6 583.3,141.7 583.9,140.2 584.6,142.0 585.2,140.2 585.8,141.9 586.4,140.0 587.0,141.4 587.6,139.7 588.2,141.3 588.8,139.7 589.4,141.3 590.0,140.3 590.6,141.3 591.2,139.7 591.8,141.8 592.4,140.2 593.0,140.6 593.6,140.0 594.2,141.2 594.8,139.8 595.4,141.0 596.0,140.0 596.6,141.1 597.2,139.8 597.8,141.1 598.4,139.8 599.1,141.1 599.7,140.2 600.3,141.4 600.9,140.1 601.5,141.1 602.1,140.0 602.7,141.0 603.3,139.9 603.9,141.4 604.5,139.9 605.1,141.4 605.7,140.2 606.3,141.3 606.9,140.2 607.5,141.6 608.1,140.4 608.7,141.6 609.3,140.4 609.9,141.2 610.6,140.3 611.2,141.6 611.8,140.2 612.4,141.3 613.0,139.9 613.6,141.2 614.2,140.2 614.8,141.4 615.4,140.0 616.0,141.6 616.6,140.1 617.2,141.3 617.8,140.3 618.4,141.2 619.0,140.0 619.6,141.5 620.2,140.1 620.8,141.3 621.4,140.3 622.1,141.6 622.7,140.2 623.3,141.3 623.9,140.3 624.5,141.7 625.1,140.4 625.7,141.3 626.3,140.4 626.9,141.6 627.5,140.1 628.1,141.3 628.7,140.5 629.3,141.4 629.9,140.4 630.5,141.5 631.1,140.5 631.7,141.4 632.3,140.5 632.9,141.8 633.6,140.2 634.2,141.3 634.8,140.1 635.4,141.3 636.0,140.4 636.6,141.9 637.2,140.2 637.8,141.7 638.4,140.4 639.0,141.0 639.9,141.6 640.4,142.2 641.0,142.5 641.5,142.5 642.2,142.3 642.8,142.1 643.6,141.8 644.3,141.4 645.0,140.9 645.7,140.5 646.4,140.0 646.9,139.5 647.8,138.1 648.4,136.3 649.0,134.8 649.6,134.2 650.1,135.1 650.5,137.2 651.1,139.6 652.2,141.3 652.8,140.9 653.4,142.0 654.0,140.9 654.7,141.8 655.3,140.8 655.9,141.7 656.5,140.8 657.1,142.1 657.7,140.6 658.3,142.0 659.0,140.7 659.6,142.0 660.2,141.0 660.8,142.1 661.4,140.9 662.0,142.2 662.6,140.6 663.2,142.0 663.9,140.8 664.5,142.2 665.1,140.9 665.7,141.9 666.3,140.7 666.9,142.3 667.5,140.7 668.2,142.2 668.8,140.7 669.4,142.2 670.0,141.5 671.4,138.8 671.9,134.9 672.1,131.3 672.7,129.7 673.4,130.0 674.1,131.0 674.9,132.3 675.7,133.7 676.3,135.0 677.2,137.2 678.0,140.0 678.7,144.2 679.3,150.4 680.0,157.7 680.6,165.0 681.3,171.5 681.9,176.1 682.5,177.8 683.3,174.8 684.0,167.4 684.7,157.5 685.3,147.2 686.0,138.6 686.7,130.3 687.4,121.7 688.0,114.8 688.7,112.0 689.4,115.0 690.1,122.3 690.7,131.0 691.4,138.6 692.1,146.5 692.8,154.0 693.5,157.3 694.2,154.0 694.9,146.9 695.8,140.4 696.4,137.6 697.0,134.7 697.7,132.4 698.5,131.5 699.0,131.9 699.6,132.9 700.2,134.4 700.8,136.0 701.5,137.5 702.1,138.6 702.7,139.4 703.2,140.2 703.8,140.8 704.7,141.3 705.3,140.6 705.9,141.9 706.6,140.8 707.2,142.0 707.8,140.9 708.4,141.9 709.1,140.5 709.7,142.0 710.3,140.6 710.9,141.8 711.5,140.7 712.2,141.9 712.8,140.6 713.4,141.9 714.0,140.6 714.6,142.2 715.3,140.9 715.9,142.0 716.5,140.5 717.1,141.8 717.8,140.7 718.4,142.2 719.0,141.3" fill="none" stroke="#dc1c55" stroke-width="0.95" stroke-linejoin="round"/>
<polyline points="72.0,140.5 72.3,139.6 72.6,142.3 73.0,139.4 73.3,142.6 73.6,138.1 73.9,142.2 74.2,139.5 74.6,142.3 74.9,138.7 75.2,142.5 75.5,138.8 75.8,142.4 76.2,138.3 76.5,142.2 76.8,140.5 77.5,139.0 82.1,97.6 82.4,96.4 82.7,99.5 83.0,96.6 83.3,99.2 83.6,96.4 83.9,99.3 84.2,96.7 84.5,99.6 84.8,96.4 85.1,98.4 85.4,96.5 85.7,98.8 86.0,96.9 86.3,98.8 86.6,96.3 86.9,99.2 87.2,96.4 87.5,98.6 87.8,96.6 88.1,99.2 88.4,95.6 88.7,98.9 89.0,96.6 89.4,99.3 89.7,96.3 90.0,98.5 90.3,96.7 90.6,99.2 90.9,95.8 91.2,99.1 91.5,96.2 91.8,99.0 92.1,96.5 92.4,99.5 92.7,96.4 93.0,99.1 93.3,95.8 93.6,99.3 93.9,96.2 94.2,98.6 94.5,96.1 94.8,98.4 95.1,95.7 95.4,98.7 95.7,95.7 96.0,97.5 96.4,93.0 96.8,97.5 97.1,96.5 97.4,98.7 97.7,96.5 98.0,98.8 98.3,96.7 98.6,98.3 99.0,96.0 99.3,98.8 99.6,96.7 99.9,98.8 100.2,96.4 100.5,99.0 100.8,97.8 106.3,136.6 106.6,135.1 106.9,137.1 107.2,134.7 107.5,136.7 107.8,133.6 108.1,135.2 108.4,132.9 108.7,135.3 109.0,132.3 109.3,133.9 109.6,131.5 109.9,133.7 110.2,131.7 110.5,132.4 110.8,130.1 111.1,132.4 111.4,130.1 111.7,131.1 112.0,129.5 112.3,130.6 112.6,128.2 112.9,130.0 113.2,128.2 113.5,129.9 113.8,126.9 114.1,128.5 114.4,126.1 114.7,128.3 115.0,126.8 116.2,140.0 120.1,179.5 129.4,95.2 134.4,140.5 134.7,138.4 135.0,142.5 135.3,138.2 135.6,142.7 135.9,138.3 136.2,141.7 136.5,138.5 136.8,142.3 137.1,138.5 137.4,142.1 137.7,138.2 138.0,142.3 138.3,139.3 138.6,141.8 138.9,139.5 139.2,142.2 139.5,139.6 139.8,142.2 140.2,139.5 140.5,142.3 140.8,138.9 141.1,142.3 141.4,138.3 141.7,141.5 142.0,138.4 142.3,142.3 142.6,138.8 142.9,142.6 143.2,138.4 143.5,142.1 143.8,139.1 144.1,143.1 144.4,139.6 144.7,142.6 145.0,138.7 145.3,141.6 145.6,138.8 145.9,142.7 146.2,138.3 146.5,142.1 146.8,138.2 147.1,142.4 147.4,139.0 147.7,143.0 148.0,139.8 148.3,142.7 148.6,138.8 148.9,142.1 149.2,138.4 149.5,142.2 149.8,139.1 150.1,142.5 150.4,138.6 150.7,142.0 151.0,139.2 151.3,142.3 151.7,139.0 152.0,143.0 152.3,139.4 152.6,143.0 152.9,139.2 153.2,142.5 153.5,139.5 153.8,142.5 154.1,138.3 154.4,142.7 154.7,138.6 155.0,142.2 155.3,139.4 155.6,142.2 155.9,139.0 156.2,142.7 156.5,138.7 156.8,141.8 157.1,138.8 157.4,143.2 157.7,139.1 158.0,141.8 158.3,139.5 158.6,141.7 158.9,139.7 159.2,143.2 159.5,139.0 159.8,142.8 160.1,138.7 160.4,143.2 160.7,139.0 161.0,142.8 161.3,139.0 161.6,142.9 161.9,139.1 162.2,142.9 162.5,139.7 162.8,142.9 163.2,139.3 163.5,143.0 163.8,139.9 164.1,142.1 164.4,140.0 164.7,143.1 165.0,138.6 165.3,142.9 165.6,139.5 165.9,143.2 166.2,138.8 166.5,142.8 166.8,139.7 167.1,142.3 167.4,139.4 167.7,142.4 168.0,139.4 168.3,142.9 168.6,141.0 173.0,182.0 173.3,180.6 173.6,182.7 173.9,181.0 174.2,182.7 174.5,181.6 174.8,183.6 175.1,181.2 175.4,183.8 175.7,181.4 176.0,183.0 176.3,181.6 176.6,183.6 176.9,181.1 177.2,184.1 177.5,181.6 177.8,183.6 178.1,182.1 178.4,183.9 178.7,182.1 179.0,183.5 179.3,182.4 179.6,183.5 179.9,181.8 180.3,183.7 180.6,181.6 180.9,183.7 181.2,181.8 181.5,183.8 181.8,182.7 182.1,184.5 182.4,182.6 182.7,184.6 183.0,182.7 183.3,184.0 183.6,182.2 183.9,184.8 184.2,182.2 184.5,184.9 184.8,183.1 185.1,184.8 185.4,182.5 185.7,184.8 186.0,182.4 186.3,184.6 186.6,182.4 186.9,185.2 187.2,184.0 197.9,96.0 198.0,96.0 198.3,95.5 198.6,96.6 198.9,94.9 199.3,97.5 199.6,95.6 199.9,97.0 200.2,95.0 200.5,97.0 200.8,95.0 201.1,97.4 201.5,95.8 201.8,97.3 202.1,95.4 202.4,96.5 205.9,135.0 211.3,154.6 212.7,185.8 215.7,168.9 217.5,177.8 220.2,158.2 223.7,183.0 224.0,182.2 224.3,184.4 224.6,182.7 224.9,184.8 225.2,182.7 225.5,184.9 225.8,182.7 226.1,184.9 226.4,183.2 226.7,185.5 227.0,182.9 227.3,184.5 239.7,95.5 240.0,94.3 240.3,96.7 240.6,94.8 240.9,96.3 241.2,94.3 241.5,97.0 241.8,94.5 242.1,96.7 242.4,94.8 242.7,97.5 243.0,94.7 243.3,97.2 243.6,95.3 243.9,97.1 244.2,94.8 244.5,97.2 244.8,95.1 245.1,97.5 245.4,95.0 245.7,97.8 246.0,96.5 250.4,133.3 252.2,136.9 252.5,136.2 252.8,137.4 253.1,136.3 253.4,137.7 253.8,136.0 254.1,138.1 254.4,135.8 254.7,137.5 255.0,137.0 257.5,147.5 260.0,147.5 264.4,183.0 264.7,181.7 265.0,184.4 265.3,181.8 265.6,184.3 265.9,182.5 266.2,184.7 266.5,182.1 266.8,184.6 267.1,182.1 267.4,184.4 267.7,183.0 268.0,184.7 268.3,182.4 268.6,184.5 268.9,182.6 269.2,185.3 269.5,183.2 269.8,185.1 270.1,182.9 270.4,185.1 270.7,183.4 271.0,185.0 271.3,183.0 271.6,185.6 271.9,183.4 272.2,185.1 272.5,184.5 282.8,95.0 286.7,122.6 289.4,158.2 292.0,144.0 294.7,143.1 300.9,98.6 305.4,129.7 309.8,144.0 314.0,144.0 317.0,152.0 319.6,143.1 319.9,142.0 320.2,144.1 320.5,142.4 320.8,143.9 321.1,141.8 321.4,144.0 321.8,142.0 322.1,143.6 322.4,141.9 322.7,143.3 323.0,142.1 323.3,143.3 323.6,141.6 323.9,143.3 324.2,141.7 324.5,143.3 324.8,141.7 325.1,143.0 325.4,142.0 325.8,143.7 326.1,141.6 326.4,142.9 326.7,141.4 327.0,143.3 327.3,141.7 327.6,142.2 331.2,145.7 333.8,148.4 339.2,183.5 339.5,182.4 339.8,184.4 340.1,182.5 340.4,184.1 340.7,183.0 341.0,185.1 341.3,182.2 341.6,184.6 341.9,182.6 342.2,184.4 342.5,182.4 342.8,184.6 343.1,182.3 343.4,185.0 343.7,182.4 344.1,185.2 344.4,183.0 344.7,184.4 345.0,183.1 345.3,184.5 345.6,183.2 345.9,184.4 346.2,182.8 346.5,185.3 346.8,182.9 347.1,185.4 347.4,182.5 347.7,184.5 348.0,182.9 348.3,184.9 348.6,183.4 348.9,185.5 349.2,183.3 349.5,185.1 349.8,182.9 350.1,185.5 350.4,182.9 350.7,185.0 351.0,183.2 351.3,184.8 351.6,182.7 351.9,185.7 352.2,183.5 352.5,184.8 352.8,183.5 353.2,185.1 353.5,182.9 353.8,185.7 354.1,183.0 354.4,184.9 354.7,183.0 355.0,185.6 355.3,183.2 355.6,185.9 355.9,183.8 356.2,185.1 356.5,183.2 356.8,185.9 357.1,183.3 357.4,185.3 357.7,184.5 363.0,140.4 364.8,133.3 369.2,96.0 369.5,94.9 369.8,97.3 370.1,95.4 370.4,96.9 370.7,95.3 371.0,96.7 371.3,95.1 371.6,96.8 372.0,95.4 372.3,96.8 372.6,95.0 372.9,96.7 373.2,95.0 373.5,96.9 373.8,95.7 374.1,97.7 374.4,95.5 374.7,97.7 375.0,94.9 375.3,97.7 375.6,95.6 375.9,97.3 376.2,95.7 376.5,97.8 376.8,95.0 377.1,97.5 377.5,95.4 377.8,97.3 378.1,95.1 378.4,97.4 378.7,95.3 379.0,97.1 379.3,95.7 379.6,97.1 379.9,96.5 381.7,108.4 384.4,138.6 386.7,163.5 388.8,151.0 392.4,142.2 395.0,142.2 396.8,151.0 399.5,145.7 403.0,159.1 406.6,152.0 410.2,131.5 413.7,135.0 419.1,185.8 424.4,160.0 428.3,177.8 431.5,141.3 436.0,122.6 440.4,133.3 445.7,172.4 448.4,163.5 451.0,186.5 453.6,138.6 456.2,133.3 460.3,107.5 462.5,122.6 465.5,108.4 465.8,108.6 466.1,111.0 466.4,110.9 466.7,113.2 467.0,112.7 467.3,114.8 467.6,114.7 467.9,116.7 468.2,116.2 468.5,118.6 468.9,118.6 469.2,120.7 469.5,120.4 469.8,122.9 470.1,122.5 470.4,124.9 470.7,124.5 471.0,126.8 471.3,126.0 471.6,128.3 471.9,128.1 472.2,129.7 472.5,129.4 472.8,130.7 473.1,129.9 473.4,131.2 473.7,129.9 474.0,132.1 474.3,130.4 474.6,132.0 474.9,131.3 475.2,133.0 475.5,132.0 475.8,133.4 476.1,132.3 476.4,134.0 476.7,133.3 481.1,112.0 485.6,129.7 485.9,130.1 486.2,132.1 486.5,131.4 486.9,133.2 487.2,133.2 487.5,135.2 487.8,134.4 488.1,136.3 488.4,135.9 488.7,138.3 489.1,137.6 489.4,139.6 489.7,139.2 490.0,140.4 493.6,144.0 497.7,120.0 499.5,124.4 501.6,113.7 504.3,131.5 510.5,154.6 513.2,128.0 518.5,176.0 523.0,122.6 528.3,165.3 533.6,145.7 537.2,177.8 545.0,107.5 547.7,138.6 551.2,173.3 554.8,152.0 558.3,147.0 558.6,146.0 558.9,148.8 559.2,145.2 559.5,147.9 559.8,146.1 560.1,147.8 560.4,145.3 560.7,148.3 561.0,145.7 561.3,147.8 561.6,145.2 561.9,148.5 562.2,144.9 562.6,148.3 562.9,145.7 563.2,147.5 563.5,144.9 563.8,148.0 564.1,144.9 564.4,147.5 564.7,144.8 565.0,147.8 565.3,144.7 565.6,148.5 565.9,145.1 566.2,147.3 566.5,144.5 566.8,147.9 567.1,144.5 567.4,147.6 567.7,145.4 568.0,148.3 568.3,145.1 568.6,147.4 568.9,145.1 569.2,147.9 569.5,145.6 569.8,147.8 570.1,144.9 570.4,147.7 570.7,145.3 571.1,148.0 571.4,144.3 571.7,148.1 572.0,145.0 572.3,147.9 572.6,144.9 572.9,147.9 573.2,145.3 573.5,148.0 573.8,144.0 574.1,147.5 574.4,144.6 574.7,147.5 575.0,146.0 575.3,144.6 575.6,146.6 575.9,144.0 576.2,146.7 576.5,144.8 576.8,146.4 577.1,144.6 577.4,147.2 577.7,144.8 578.0,146.2 578.3,143.8 578.6,146.2 578.9,144.5 579.2,146.6 579.5,143.7 579.8,146.3 580.1,143.5 580.4,145.7 580.7,143.2 581.0,146.3 581.4,144.0 581.7,145.5 582.0,143.4 582.3,145.8 582.6,143.5 582.9,145.3 583.2,143.2 583.5,145.2 583.8,142.9 584.1,145.9 584.4,143.3 584.7,145.4 585.0,142.5 585.3,144.8 585.6,142.3 585.9,145.7 586.2,142.7 586.5,144.9 586.8,142.0 587.1,144.9 587.4,142.4 587.7,143.5 588.0,141.9 588.3,144.5 588.6,142.3 588.9,143.7 589.3,142.0 589.6,143.7 589.9,141.1 590.2,143.8 590.5,140.9 590.8,143.5 591.1,140.7 591.4,142.5 591.8,140.8 592.1,143.1 592.4,140.1 592.7,142.2 593.0,141.3 599.3,96.8 599.6,95.6 599.9,98.3 600.2,95.6 600.5,98.2 600.8,96.0 601.1,98.1 601.4,95.4 601.7,97.5 602.0,95.9 602.3,98.8 602.6,95.1 602.9,98.7 603.2,95.3 603.5,98.6 603.8,95.0 604.1,98.7 604.4,96.1 604.7,98.3 605.0,95.8 605.3,98.4 605.6,95.7 605.9,98.2 606.2,94.9 606.5,98.3 606.8,95.8 607.1,98.2 607.4,95.5 607.8,98.7 608.1,95.7 608.4,97.9 608.7,95.3 609.0,97.7 609.3,95.3 609.6,98.7 609.9,95.4 610.2,97.8 610.5,95.5 610.8,98.2 611.1,95.9 611.4,97.7 611.7,95.9 612.0,97.9 612.3,95.6 612.6,97.9 612.9,95.8 613.2,97.6 613.5,95.4 613.8,98.6 614.1,95.3 614.4,98.2 614.7,95.3 615.0,97.8 615.3,95.2 615.6,98.1 615.9,95.4 616.2,96.8 621.5,139.5 624.2,140.4 630.4,97.5 630.7,96.0 631.0,98.8 631.3,96.4 631.6,98.5 631.9,96.4 632.2,98.8 632.5,96.2 632.8,98.9 633.1,96.7 633.4,98.5 633.7,95.5 634.0,98.3 634.3,95.9 634.6,98.7 634.9,96.2 635.2,99.3 635.5,96.2 635.8,99.0 636.1,96.3 636.4,98.0 636.7,95.4 637.0,98.5 637.3,96.4 637.6,98.4 637.9,95.9 638.2,98.8 638.5,96.3 638.8,98.1 639.1,95.2 639.4,98.8 639.7,96.2 640.0,98.2 640.3,95.9 640.6,98.6 640.9,95.5 641.2,98.8 641.5,95.2 641.8,98.4 642.1,95.3 642.4,98.6 642.7,95.3 643.0,98.3 643.3,95.2 643.6,98.5 643.9,95.0 644.2,97.7 644.5,95.0 644.8,97.6 645.1,95.1 645.4,98.3 645.7,95.5 646.0,96.8 651.4,137.7 651.7,135.9 652.0,138.7 652.3,136.2 652.6,138.7 652.9,135.5 653.2,138.2 653.5,135.8 653.8,137.8 654.1,135.4 654.4,137.9 654.7,135.4 655.0,137.2 655.3,134.8 655.6,137.0 655.9,134.8 656.2,137.2 656.5,134.0 656.9,136.6 657.2,134.2 657.5,136.0 657.8,134.1 658.1,135.7 658.4,133.5 658.7,136.0 659.0,133.8 659.3,136.1 659.6,133.3 659.9,135.8 660.2,132.5 660.5,135.6 660.8,133.0 661.1,134.8 661.4,131.9 661.7,134.1 662.0,133.3 664.3,128.8 666.5,141.3 670.6,181.3 677.2,94.1 682.5,138.6 683.4,141.0 683.7,140.0 684.0,143.0 684.3,139.1 684.6,143.6 684.9,138.7 685.2,142.9 685.5,138.3 685.8,142.9 686.1,139.1 686.4,143.2 686.7,139.3 687.0,142.6 687.3,139.0 687.6,142.6 687.9,138.3 688.2,143.2 688.5,139.1 688.8,142.1 689.1,139.4 689.4,142.7 689.7,139.0 690.0,143.0 690.3,138.5 690.6,143.7 690.9,139.2 691.2,142.7 691.5,138.9 691.9,143.7 692.2,139.4 692.5,142.9 692.8,138.6 693.1,142.3 693.4,139.5 693.7,143.7 694.0,138.6 694.3,142.9 694.6,139.8 694.9,143.6 695.2,138.8 695.5,143.4 695.8,138.3 696.1,143.6 696.4,139.3 696.7,142.2 697.0,139.5 697.3,142.9 697.6,139.1 697.9,142.3 698.2,139.7 698.5,143.1 698.8,139.0 699.1,142.6 699.4,138.3 699.7,143.1 700.0,141.0 700.3,140.4 700.6,142.0 700.9,139.6 701.2,141.9 701.5,139.7 701.8,141.6 702.1,140.1 702.4,142.5 702.7,139.8 703.0,142.3 703.3,140.2 703.6,142.1 703.9,139.8 704.2,141.8 704.5,139.7 704.8,142.1 705.1,139.4 705.4,142.2 705.7,140.0 706.0,141.7 706.3,140.3 706.6,142.4 706.9,140.3 707.2,141.7 707.5,140.3 707.8,142.1 708.1,139.6 708.4,142.2 708.7,139.6 709.0,141.6 709.3,140.4 709.7,142.4 710.0,140.1 710.3,142.3 710.6,140.1 710.9,141.7 711.2,140.1 711.5,141.7 711.8,139.5 712.1,142.2 712.4,140.1 712.7,142.0 713.0,140.0 713.3,141.6 713.6,139.5 713.9,142.2 714.2,139.4 714.5,142.0 714.8,139.8 715.1,141.8 715.4,140.4 715.7,142.6 716.0,139.5 716.3,141.9 716.6,139.5 716.9,142.4 717.2,140.1 717.5,142.2 717.8,139.4 718.1,142.1 718.4,139.4 718.7,141.8 719.0,141.0" fill="none" stroke="#0c1ca8" stroke-width="1.05" stroke-linejoin="round"/>
<polyline points="72.0,316.2 75.5,317.5 76.6,344.8 77.3,318.0 78.8,326.5 81.0,317.7 81.5,317.0 82.0,318.6 82.5,317.1 83.0,318.3 83.5,316.6 84.0,318.4 84.5,316.7 85.0,318.2 85.5,317.1 86.0,318.2 86.5,317.1 87.0,318.7 87.5,317.0 88.0,318.3 88.5,317.1 89.0,318.3 89.5,316.9 90.0,318.2 90.5,317.1 91.0,318.0 91.5,316.5 92.0,318.1 92.5,316.9 93.0,318.0 93.5,316.9 94.0,318.0 94.5,317.0 95.0,318.3 95.5,316.8 96.0,317.9 96.5,316.5 97.0,317.8 97.5,316.8 98.0,318.3 98.5,316.9 99.0,318.0 99.5,316.3 100.0,318.3 100.5,316.8 101.0,317.9 101.5,316.4 102.0,317.9 102.5,316.2 103.0,317.8 103.5,316.2 104.0,318.0 104.5,316.7 105.0,317.9 105.5,316.7 106.0,318.1 106.5,316.6 107.0,318.2 107.5,316.4 108.0,317.8 108.5,316.6 109.0,318.0 109.5,316.6 110.0,318.1 110.5,316.6 111.0,317.8 111.5,316.3 112.0,317.6 112.5,316.1 113.0,317.7 113.5,316.2 114.0,317.8 114.5,316.4 115.0,317.7 115.5,317.0 118.4,297.2 122.0,307.4 125.7,311.8 127.9,316.2 131.6,333.8 133.8,326.5 135.2,316.2 135.7,315.4 136.2,317.2 136.7,314.3 137.2,317.4 137.7,314.6 138.2,317.1 138.7,314.7 139.2,317.4 139.7,314.8 140.2,317.3 140.7,315.4 141.2,317.4 141.7,315.2 142.2,317.1 142.7,314.5 143.2,317.3 143.7,314.9 144.2,318.2 144.7,314.4 145.2,318.1 145.7,314.3 146.2,317.1 146.7,315.1 147.2,317.0 147.7,314.5 148.2,317.8 148.7,315.0 149.2,317.5 149.8,314.6 150.3,317.9 150.8,315.1 151.3,318.1 151.8,315.0 152.3,317.8 152.8,315.2 153.3,317.1 153.8,314.2 154.3,317.9 154.8,314.5 155.3,317.0 155.8,315.4 156.3,317.2 156.8,315.2 157.3,317.3 157.8,315.0 158.3,317.0 158.8,315.0 159.3,317.8 159.8,315.2 160.3,318.1 160.8,314.7 161.3,317.9 161.8,315.1 162.3,317.5 162.8,314.5 163.3,317.4 163.8,316.2 164.6,301.6 165.5,314.8 166.1,313.8 166.6,315.4 167.2,312.1 167.7,314.0 168.3,312.0 168.8,313.7 169.4,311.8 169.9,310.6 170.4,312.5 170.9,311.1 171.4,312.6 171.9,310.5 172.5,312.8 173.0,310.5 173.5,313.5 174.0,311.4 174.5,313.5 175.0,311.2 175.5,313.6 176.0,310.8 176.5,313.2 177.0,311.6 177.5,313.9 178.0,311.4 178.6,314.0 179.1,311.1 179.6,313.9 180.1,311.1 180.6,313.8 181.1,312.6 181.6,311.8 182.2,313.8 182.7,312.0 183.2,314.7 183.7,312.8 184.3,315.7 184.8,313.7 185.3,316.1 185.9,314.3 186.4,316.5 186.9,314.0 187.4,316.5 188.0,314.8 188.5,316.2 189.0,314.8 189.5,317.9 190.0,315.6 190.5,317.9 191.0,316.6 191.5,318.4 192.0,316.6 192.5,318.6 193.0,317.1 193.5,319.0 194.0,317.1 194.5,319.9 195.0,318.0 195.5,319.9 196.1,318.1 196.6,320.5 197.1,318.1 197.6,320.8 198.1,319.2 198.6,321.8 199.1,319.7 199.6,321.9 200.1,319.9 200.6,322.5 201.1,320.1 201.6,322.9 202.1,320.9 202.6,323.2 203.1,322.1 203.6,320.6 204.2,322.6 204.7,319.9 205.2,322.5 205.8,320.1 206.3,321.4 206.9,319.3 207.4,320.8 207.9,319.1 208.5,320.3 209.0,319.2 209.5,318.2 210.0,320.1 210.5,317.4 211.0,319.0 211.5,317.1 212.0,318.9 212.6,316.6 213.1,318.1 213.6,316.5 214.1,317.5 214.6,315.0 215.1,317.8 215.6,316.2 216.1,315.0 216.6,316.4 217.1,312.9 217.6,315.2 218.1,312.8 218.6,314.0 219.1,311.3 219.6,312.6 220.1,310.1 220.6,311.3 221.1,308.6 221.6,310.9 222.1,307.8 222.6,310.1 223.1,306.7 223.6,307.4 224.2,306.9 224.7,309.0 225.2,307.8 225.8,309.5 226.3,307.9 226.9,311.1 227.4,309.1 228.0,310.4 228.6,310.3 229.1,313.1 229.7,311.1 230.2,314.9 230.8,313.3 231.3,316.2 231.8,314.0 232.4,316.2 232.9,315.2 233.4,317.8 233.9,316.5 234.4,319.1 234.9,317.0 235.4,319.3 235.9,317.5 236.4,320.0 236.9,317.9 237.4,320.6 237.9,319.5 238.4,321.6 238.9,319.5 239.4,322.6 239.9,320.1 240.4,323.4 240.9,320.6 241.4,323.6 241.9,321.8 242.4,324.0 242.9,322.7 243.4,325.1 243.9,323.6 244.4,326.0 244.9,325.0 245.4,323.7 245.9,325.0 246.4,321.7 246.9,323.5 247.4,321.6 247.9,322.7 248.4,320.4 248.9,322.0 249.5,319.5 250.0,321.0 250.5,317.5 251.0,319.8 251.5,316.8 252.0,318.2 252.5,315.5 253.0,316.2 253.5,315.1 254.0,317.2 254.5,315.3 255.0,317.2 255.5,314.9 256.0,317.7 256.5,314.7 257.0,317.0 257.5,315.3 258.0,317.3 258.5,315.0 259.0,317.2 259.5,315.4 260.0,316.9 260.5,315.3 261.0,317.3 261.5,314.6 262.0,316.2 262.5,314.5 263.0,317.8 263.5,314.5 264.0,317.9 264.5,314.9 265.0,317.7 265.5,315.5 266.0,317.6 266.5,314.9 267.0,317.2 267.5,314.9 268.0,317.9 268.5,315.0 269.0,317.6 269.5,315.2 270.0,317.2 270.5,314.6 271.0,316.8 271.5,315.4 272.0,317.6 272.5,315.1 273.0,316.9 273.5,314.8 274.0,317.2 274.5,314.9 275.0,317.3 275.5,315.0 276.0,317.5 276.5,315.1 277.0,316.9 277.5,315.4 278.0,317.8 278.5,315.0 279.0,316.9 279.5,314.6 280.0,317.1 280.5,315.5 281.0,317.4 281.5,315.3 282.0,317.4 282.5,315.0 283.0,317.1 283.5,314.9 284.0,316.9 284.5,315.0 285.0,317.5 285.5,315.5 286.0,317.3 286.5,315.5 287.0,317.3 287.5,314.6 288.0,317.4 288.5,314.8 289.0,317.7 289.5,315.5 290.0,317.9 290.5,314.8 291.0,316.9 291.5,314.6 292.0,317.3 292.5,315.4 293.0,317.9 293.5,314.9 294.0,317.7 294.5,315.4 295.0,317.7 295.5,315.5 296.0,317.1 296.5,315.2 297.0,316.8 297.5,314.9 298.0,317.1 298.5,315.2 299.0,317.6 299.5,315.1 300.0,317.8 300.5,314.9 301.0,317.8 301.5,314.9 302.0,317.9 302.5,314.6 303.0,317.0 303.5,314.7 304.0,317.2 304.5,314.7 305.0,317.6 305.5,314.6 306.0,317.0 306.5,315.2 307.0,317.7 307.5,314.5 308.0,317.6 308.5,315.5 309.0,317.5 309.5,315.5 310.0,317.4 310.5,314.7 311.0,316.9 311.5,314.5 312.0,317.6 312.5,315.3 313.0,317.0 313.5,315.1 314.0,317.8 314.5,314.9 315.0,316.9 315.5,315.6 316.0,316.9 316.5,314.7 317.0,317.0 317.5,314.9 318.0,317.1 318.5,314.8 319.0,317.3 319.5,315.4 320.0,317.8 320.5,315.0 321.0,317.6 321.5,314.7 322.0,317.9 322.5,315.6 323.0,317.2 323.5,315.4 324.0,317.4 324.5,314.6 325.0,317.7 325.5,315.5 326.0,317.0 326.5,314.6 327.0,317.6 327.5,315.1 328.0,317.4 328.5,315.4 329.0,317.8 329.5,315.1 330.0,317.8 330.5,314.9 331.0,316.9 331.5,315.2 332.0,317.1 332.5,314.6 333.0,316.2 333.5,314.4 334.1,315.6 334.6,313.6 335.1,314.8 335.7,312.1 336.2,312.6 336.7,311.5 337.3,313.8 337.8,312.0 338.3,313.7 338.8,312.0 339.4,314.3 339.9,312.9 340.4,314.7 340.9,312.1 341.5,314.5 342.0,314.0 342.5,314.0 343.0,316.8 343.5,315.3 344.0,317.8 344.5,316.6 345.0,319.3 345.5,317.9 346.0,321.0 346.5,319.0 347.0,323.0 347.5,321.5 348.0,322.8 348.5,322.0 349.1,324.9 349.6,322.3 350.1,325.6 350.6,323.2 351.2,326.1 351.7,324.2 352.2,326.4 352.7,324.4 353.3,327.7 353.8,326.5 354.3,324.7 354.9,327.3 355.4,324.8 355.9,326.9 356.5,323.9 357.0,325.0 357.6,323.3 358.2,325.2 358.8,322.4 359.4,322.8 359.9,320.5 360.4,321.5 360.9,318.6 361.4,319.1 361.9,316.0 362.5,317.4 363.0,313.5 363.5,314.4 364.0,311.4 364.5,311.1 365.0,310.4 365.5,312.3 366.0,310.8 366.5,312.2 367.0,310.2 367.5,313.0 368.0,311.0 368.5,313.3 369.0,311.4 369.5,313.2 370.0,311.9 370.5,313.6 371.0,311.9 371.5,314.3 372.0,311.9 372.5,314.8 373.0,312.4 373.5,315.0 374.0,312.4 374.5,314.4 375.0,313.1 375.5,314.0 376.0,313.1 376.5,316.3 377.0,314.0 377.5,316.7 378.0,314.6 378.5,317.5 379.0,315.7 379.5,317.8 380.0,317.0 380.5,314.9 381.1,316.8 381.6,314.5 382.1,315.4 382.7,313.5 383.2,314.6 383.8,311.8 384.3,312.6 384.8,312.1 385.3,314.2 385.9,312.7 386.4,315.1 386.9,312.6 387.4,315.7 387.9,314.0 388.4,316.4 389.0,313.8 389.5,316.9 390.0,316.0 390.5,315.1 391.0,316.9 391.5,313.6 392.0,315.8 392.5,313.9 393.1,315.1 393.6,312.9 394.1,315.2 394.6,312.2 395.1,314.7 395.6,312.1 396.1,312.6 396.6,311.9 397.2,314.4 397.7,312.0 398.2,314.5 398.8,312.4 399.3,314.9 399.8,313.5 400.3,315.4 400.9,314.0 401.4,316.1 401.9,314.1 402.5,316.4 403.0,315.5 403.5,314.3 404.0,316.4 404.5,314.5 405.0,316.2 405.5,314.0 406.0,316.8 406.5,314.0 407.0,316.3 407.5,314.4 408.0,317.0 408.5,314.7 409.0,316.4 409.5,314.9 410.0,316.4 410.5,314.3 411.0,316.4 411.5,314.3 412.0,316.8 412.5,314.6 413.0,317.0 413.5,314.6 414.0,317.1 414.5,314.6 415.0,316.8 415.5,314.5 416.0,316.7 416.5,314.6 417.0,317.3 417.5,314.5 418.0,316.8 418.5,314.5 419.0,317.6 419.5,314.9 420.0,316.9 420.5,314.9 421.0,317.6 421.5,315.3 422.0,316.6 422.5,315.0 423.0,317.4 423.5,314.7 424.0,317.1 424.5,314.5 425.0,317.0 425.5,314.8 426.0,316.8 426.5,315.6 427.0,316.2 429.8,301.6 431.0,310.0 433.0,316.2 433.5,315.5 434.0,316.8 434.5,315.1 435.0,317.4 435.5,315.4 436.0,317.8 436.5,315.2 437.0,316.9 437.5,315.4 438.0,317.6 438.5,314.6 439.0,317.0 439.5,315.6 440.0,317.6 440.5,315.4 441.0,317.8 441.5,315.1 442.0,317.5 442.5,315.3 443.0,317.6 443.5,315.1 444.0,317.1 444.5,314.7 445.0,316.9 445.5,314.8 446.0,316.8 446.5,314.9 447.0,317.2 447.5,314.7 448.0,316.8 448.5,315.0 449.0,317.2 449.5,314.6 450.0,316.2 450.5,314.7 451.1,317.7 451.6,315.7 452.1,317.5 452.7,315.9 453.2,318.0 453.8,316.2 454.3,317.9 454.8,315.9 455.4,318.6 455.9,317.5 456.4,316.0 456.9,317.9 457.4,314.8 457.9,316.1 458.4,313.6 459.0,315.2 459.5,311.5 460.0,313.2 460.5,310.4 461.0,311.1 461.5,310.9 462.1,313.7 462.6,313.2 463.1,315.8 463.6,314.6 464.2,317.4 464.7,317.7 465.2,316.4 465.8,318.1 466.4,316.0 466.9,317.6 467.4,315.1 468.0,316.7 468.6,314.6 469.1,315.5 469.7,314.3 470.3,315.8 470.8,313.0 471.4,314.4 472.0,313.3 472.5,312.3 473.0,315.0 473.6,313.2 474.1,314.6 474.6,313.8 475.1,315.8 475.6,314.3 476.2,316.2 476.7,314.6 477.2,316.5 477.7,315.0 478.3,316.4 478.8,314.9 479.3,316.2 479.8,316.4 480.4,318.4 480.9,317.2 481.4,320.2 482.0,318.7 482.5,321.9 483.1,320.9 483.6,322.8 484.1,321.7 484.7,324.6 485.2,324.3 485.8,322.2 486.4,322.0 486.9,318.8 487.5,318.7 488.1,316.2 492.5,304.5 497.0,314.8 501.3,330.2 505.7,322.1 508.7,310.4 511.6,294.3 514.5,310.4 518.9,314.8 520.4,339.0 523.3,319.2 526.2,292.8 528.4,313.3 532.0,316.2 532.5,315.6 533.0,316.7 533.5,314.7 534.0,317.0 534.5,314.8 535.0,316.8 535.5,315.1 536.0,316.8 536.5,315.2 537.0,316.9 537.5,314.9 538.0,316.8 538.5,314.9 539.0,317.2 539.5,315.5 540.0,317.0 540.5,315.1 541.0,317.6 541.5,315.2 542.0,316.9 542.5,314.6 543.0,317.5 543.5,314.8 544.0,316.9 544.5,315.4 545.0,316.9 545.5,315.5 546.0,316.7 546.5,315.0 547.0,317.0 547.5,315.0 548.0,317.0 548.5,315.5 549.0,317.3 549.5,314.8 550.0,317.1 550.5,314.9 551.0,317.3 551.5,314.5 552.0,317.4 552.5,314.8 553.0,316.9 553.5,315.1 554.0,316.0 554.5,308.2 556.0,313.0 557.5,320.0 559.0,316.0 559.5,315.0 560.0,317.5 560.5,315.1 561.0,316.9 561.5,315.1 562.0,316.7 562.5,314.5 563.0,316.5 563.5,314.9 564.0,317.5 564.5,315.2 565.0,317.2 565.5,315.1 566.0,316.8 566.5,315.3 567.0,316.7 567.5,314.6 568.0,317.3 568.5,314.6 569.0,316.6 569.5,314.8 570.0,316.9 570.5,314.8 571.0,317.1 571.5,315.1 572.0,317.5 572.5,315.5 573.0,317.3 573.5,314.6 574.0,317.0 574.5,314.9 575.0,317.5 575.5,315.2 576.0,317.2 576.5,314.7 577.0,316.9 577.5,314.7 578.0,316.9 578.5,314.9 579.0,317.2 579.5,314.8 580.0,316.9 580.5,314.8 581.0,317.1 581.5,315.2 582.0,317.2 582.5,315.2 583.0,317.4 583.5,315.0 584.0,317.3 584.5,314.9 585.0,317.0 585.5,315.2 586.0,316.7 586.5,314.5 587.0,317.1 587.5,314.9 588.0,317.1 588.5,314.6 589.0,316.8 589.5,315.3 590.0,317.4 590.5,315.0 591.0,317.2 591.5,314.6 592.0,317.4 592.5,314.6 593.0,316.6 593.5,315.1 594.0,317.4 594.5,314.6 595.0,316.0 595.6,311.1 598.0,313.0 600.0,316.0 600.5,315.3 601.0,316.7 601.5,315.2 602.0,316.6 602.5,315.1 603.0,317.3 603.5,314.9 604.0,317.0 604.5,315.4 605.0,316.9 605.5,314.5 606.0,317.2 606.5,315.0 607.0,317.0 607.5,314.7 608.0,317.3 608.5,315.3 609.0,317.2 609.5,315.1 610.0,317.1 610.5,315.2 611.0,316.9 611.5,315.1 612.0,316.9 612.5,315.4 613.0,316.7 613.5,314.9 614.0,316.6 614.5,315.3 615.0,317.3 615.5,315.2 616.0,316.9 616.5,315.2 617.0,317.4 617.5,315.4 618.0,317.2 618.5,314.6 619.0,316.7 619.5,315.0 620.0,317.3 620.5,314.8 621.0,316.9 621.5,315.4 622.0,317.0 622.5,315.1 623.0,317.3 623.5,315.2 624.0,316.9 624.5,314.8 625.0,316.0 625.4,343.4 626.0,318.0 627.1,322.1 628.0,316.0 628.5,314.6 629.0,316.9 629.5,315.1 630.0,317.1 630.5,314.5 631.0,316.7 631.5,314.5 632.0,317.3 632.5,315.1 633.0,317.2 633.5,315.1 634.0,316.6 634.5,314.7 635.0,316.9 635.5,314.9 636.0,317.0 636.5,314.6 637.0,317.3 637.5,315.4 638.0,317.1 638.5,315.0 639.0,317.0 639.5,314.6 640.0,317.0 640.5,315.0 641.0,317.4 641.5,315.0 642.0,317.0 642.5,314.9 643.0,317.4 643.5,314.8 644.0,317.3 644.5,315.1 645.0,316.6 645.5,314.8 646.0,317.1 646.5,314.7 647.0,317.3 647.5,315.3 648.0,316.8 648.5,315.4 649.0,317.4 649.5,315.4 650.0,316.6 650.5,314.7 651.0,317.1 651.5,315.4 652.0,317.2 652.5,314.7 653.0,317.0 653.5,315.4 654.0,317.2 654.5,315.0 655.0,317.1 655.5,314.5 656.0,317.4 656.5,314.6 657.0,316.7 657.5,315.1 658.0,317.1 658.5,315.5 659.0,317.5 659.5,315.2 660.0,316.8 660.5,315.1 661.0,316.8 661.5,314.6 662.0,317.1 662.5,314.9 663.0,317.0 663.5,315.4 664.0,316.8 664.5,314.6 665.0,316.0 665.2,298.7 666.5,309.0 668.5,302.0 670.2,307.0 671.5,295.7 672.5,314.0 679.9,322.1 686.0,316.0 686.5,314.7 687.0,317.4 687.5,315.2 688.0,316.7 688.5,315.4 689.0,317.1 689.5,315.1 690.0,317.0 690.5,315.0 691.0,317.1 691.5,315.1 692.0,317.3 692.5,315.3 693.0,317.5 693.5,314.9 694.0,316.6 694.5,315.1 695.0,317.1 695.5,315.1 696.0,317.1 696.5,315.1 697.0,316.8 697.5,314.7 698.0,316.8 698.5,314.7 699.0,317.3 699.5,314.9 700.0,317.0 700.5,314.5 701.0,317.0 701.5,314.6 702.0,316.6 702.5,315.0 703.0,317.2 703.5,315.4 704.0,317.4 704.5,315.4 705.0,317.1 705.5,315.3 706.0,317.5 706.5,314.9 707.0,317.3 707.5,315.0 708.0,317.2 708.5,314.8 709.0,316.8 709.5,315.2 710.0,317.4 710.5,315.3 711.0,317.5 711.5,315.3 712.0,316.6 712.5,315.4 713.0,317.3 713.5,314.5 714.0,317.0 714.5,314.8 715.0,316.8 715.5,314.6 716.0,317.2 716.5,315.3 717.0,316.6 717.5,314.8 718.0,316.6 718.5,314.6 719.0,316.0" fill="none" stroke="#0a6cf0" stroke-width="1.5" stroke-linejoin="round"/>
<polyline points="72.0,316.5 72.5,316.1 73.0,316.9 73.5,315.9 74.0,316.9 74.5,315.9 75.0,316.8 75.5,315.7 76.0,316.9 76.5,315.7 77.0,316.8 77.5,315.8 78.0,317.2 78.5,316.0 79.0,316.7 79.5,316.0 80.0,317.0 80.5,316.0 81.0,317.0 81.5,316.1 82.0,316.9 82.5,315.8 83.0,316.9 83.5,315.8 84.0,316.7 84.5,315.7 85.0,316.7 85.5,315.6 86.0,317.2 86.5,315.6 87.0,316.9 87.5,315.9 88.0,316.8 88.5,315.7 89.0,316.9 89.5,315.6 90.0,316.7 90.5,315.8 91.0,317.1 91.5,315.8 92.0,316.9 92.5,316.0 93.0,316.7 93.5,315.9 94.0,317.1 94.5,315.6 95.0,316.7 95.5,315.6 96.0,316.6 96.5,315.7 97.0,317.1 97.5,315.8 98.0,317.1 98.5,315.7 99.0,316.6 99.5,315.8 100.0,316.8 100.5,315.9 101.0,316.9 101.5,315.9 102.0,316.9 102.5,315.8 103.0,316.6 103.5,315.7 104.0,316.6 104.5,315.7 105.0,316.9 105.5,315.6 106.0,316.7 106.5,315.9 107.0,316.8 107.5,315.9 108.0,316.8 108.5,315.9 109.0,316.8 109.5,315.7 110.0,316.7 110.5,315.6 111.0,316.6 111.5,315.8 112.0,316.9 112.5,315.7 113.0,316.9 113.5,315.4 114.0,316.7 114.5,315.8 115.0,316.5 115.5,315.4 116.0,316.5 116.5,315.6 117.0,316.7 117.5,315.8 118.0,316.7 118.5,315.8 119.0,316.7 119.5,315.6 120.0,316.6 120.5,315.7 121.0,316.6 121.5,315.7 122.0,316.4 122.5,315.7 123.0,316.8 123.5,315.5 124.0,316.8 124.5,315.8 125.0,316.8 125.5,315.5 126.0,316.8 126.5,315.5 127.0,316.7 127.5,315.7 128.0,316.7 128.5,315.7 129.0,316.5 129.5,315.7 130.0,316.5 130.5,315.5 131.0,316.5 131.5,315.3 132.0,316.3 132.5,315.4 133.0,316.4 133.5,315.4 134.0,316.7 134.5,316.0 136.7,311.8 138.9,319.2 141.8,323.6 144.8,314.8 148.4,310.4 151.4,313.3 152.5,316.2 153.0,315.6 153.5,316.5 154.0,315.8 154.6,316.8 155.1,315.4 155.6,316.5 156.1,315.6 156.6,316.8 157.1,315.5 157.6,316.7 158.1,315.5 158.7,316.7 159.2,315.4 159.7,316.5 160.2,315.4 160.7,316.7 161.2,315.7 161.7,316.5 162.2,315.8 162.8,316.9 163.3,315.6 163.8,316.6 164.3,315.7 164.8,316.2 165.5,318.0 169.4,347.0 173.8,335.3 174.3,334.2 174.8,333.9 175.3,332.5 175.8,332.3 176.3,330.5 176.8,330.8 177.4,328.9 177.9,328.9 178.4,327.3 178.9,327.4 179.4,325.4 179.9,325.6 180.4,324.3 181.0,324.4 181.6,325.7 182.1,325.6 182.7,327.2 183.3,327.2 183.8,326.4 184.3,327.0 184.8,326.0 185.3,326.6 185.8,325.8 186.3,325.8 186.8,323.8 187.3,323.5 187.8,321.2 188.4,320.6 188.9,318.4 189.4,318.1 189.9,316.2 192.1,303.0 192.7,302.2 193.2,303.0 193.8,301.7 194.3,302.5 194.8,301.2 195.4,301.8 195.9,300.6 196.5,300.9 197.0,299.6 197.6,299.8 198.1,298.1 198.6,298.2 199.2,296.4 199.7,296.6 200.3,295.0 200.8,295.0 201.3,293.1 201.9,293.1 202.4,292.0 202.9,293.2 203.4,295.9 203.9,297.1 204.5,299.5 205.0,300.6 205.5,303.1 206.0,304.5 206.5,304.3 207.1,305.8 207.6,305.2 208.1,306.5 208.7,306.0 209.2,307.4 209.8,306.8 210.3,308.3 210.8,307.6 211.4,308.9 211.9,308.9 212.4,309.7 213.0,311.5 213.5,311.5 214.0,313.4 214.5,313.7 215.1,315.7 215.6,316.2 220.0,328.0 223.6,343.4 226.6,328.0 229.5,316.2 233.2,303.0 233.7,302.5 234.2,303.2 234.7,302.6 235.2,303.2 235.8,302.7 236.3,303.5 236.8,302.6 237.3,303.4 237.8,302.6 238.3,303.0 238.9,302.1 239.4,302.2 239.9,301.0 240.5,301.4 241.1,299.9 241.6,300.1 242.1,299.0 242.7,298.7 245.6,289.1 248.6,306.0 249.1,306.3 249.7,307.8 250.2,307.6 250.7,309.1 251.2,308.8 251.8,310.2 252.3,310.2 252.8,311.5 253.3,311.4 253.9,312.9 254.4,313.3 255.0,314.2 255.6,316.2 256.2,316.5 256.8,318.3 257.4,319.2 257.9,318.6 258.4,320.1 259.0,318.9 259.5,320.2 260.0,319.9 260.5,319.2 261.0,320.4 261.5,319.0 262.0,320.2 262.5,318.9 263.0,319.8 263.5,318.6 264.1,319.4 264.6,318.5 265.1,319.0 265.6,317.7 266.1,318.9 266.6,317.5 267.1,318.5 267.6,317.5 268.1,318.2 268.6,317.2 269.1,318.3 269.6,316.9 270.1,317.8 270.6,316.5 271.2,317.8 271.7,316.3 272.2,317.2 272.7,316.1 273.2,317.1 273.7,315.7 274.2,316.8 274.7,316.2 278.3,321.4 280.5,316.2 281.0,315.3 281.5,316.3 282.0,315.0 282.5,315.8 283.0,314.4 283.5,315.6 284.0,314.0 284.5,314.8 285.0,313.3 285.5,314.2 286.0,312.9 286.5,314.1 287.0,312.6 287.5,313.5 288.0,312.0 288.5,313.2 289.0,311.6 289.5,312.7 290.0,311.5 290.5,312.0 291.0,311.0 291.5,311.9 292.0,310.1 292.5,311.0 293.0,310.4 294.5,316.2 301.0,312.6 301.5,312.3 302.1,313.8 302.6,313.3 303.1,314.4 303.7,313.6 304.2,315.2 304.8,314.5 305.3,315.9 305.8,315.1 306.4,316.4 306.9,316.2 309.9,308.2 310.5,308.3 311.1,310.1 311.6,309.3 312.2,311.2 312.8,311.1 313.3,310.7 313.9,312.0 314.4,310.9 314.9,312.5 315.5,311.5 316.0,312.7 316.6,312.1 317.1,313.3 317.6,312.2 318.2,313.8 318.7,313.3 319.2,313.3 319.8,314.6 320.3,314.1 320.8,315.9 321.3,315.3 321.9,316.7 322.4,316.2 322.9,317.5 323.4,317.2 324.0,318.4 324.5,318.4 325.0,318.1 325.6,319.6 326.1,318.2 326.6,319.6 327.2,319.0 327.7,320.4 328.3,319.4 328.8,320.4 329.3,319.7 329.9,320.7 330.4,320.6 334.8,316.2 337.0,337.5 339.9,329.4 340.4,328.6 341.0,329.2 341.6,327.9 342.1,328.0 342.6,326.9 343.2,327.9 343.7,326.8 344.2,327.7 344.8,326.1 345.3,327.1 345.9,325.5 346.4,326.5 346.9,325.1 347.5,325.6 348.0,325.0 348.5,324.1 349.1,325.0 349.6,323.6 350.1,324.6 350.6,323.0 351.2,323.8 351.7,322.7 352.2,323.6 352.7,322.1 353.3,322.8 353.8,322.1 354.4,321.5 355.0,322.1 355.5,321.1 356.0,321.6 356.5,320.0 357.0,320.4 357.5,318.6 358.0,319.0 358.5,317.2 359.0,317.8 359.5,316.4 360.0,316.2 360.5,315.7 361.1,316.3 361.6,315.5 362.1,314.7 362.6,315.9 363.1,314.6 363.6,315.7 364.1,314.5 364.6,315.1 365.1,313.9 365.6,315.2 366.2,313.7 366.7,314.8 367.2,313.3 367.7,314.3 368.2,312.9 368.7,314.2 369.2,313.0 369.7,313.3 370.2,312.8 370.7,313.9 371.3,312.7 371.8,313.5 372.3,312.3 372.8,313.6 373.4,312.4 373.9,313.5 374.4,312.1 374.9,313.1 375.4,312.3 376.0,313.0 376.5,312.2 377.0,312.6 380.7,308.2 382.9,310.4 385.4,303.0 388.7,311.8 395.3,316.2 397.5,335.3 401.9,328.0 407.1,316.2 410.8,311.8 412.9,295.7 416.6,301.6 422.4,307.4 426.8,313.3 429.8,322.1 432.7,319.2 436.4,311.8 436.9,311.3 437.4,313.1 437.9,311.6 438.4,313.3 438.9,312.1 439.4,313.6 439.9,312.6 440.4,314.2 440.9,312.6 441.4,314.6 441.9,313.4 442.4,314.8 442.9,313.4 443.4,315.1 443.9,313.7 444.4,314.8 444.9,314.2 445.4,316.3 445.9,314.9 446.4,316.9 446.9,315.5 447.5,317.2 448.0,316.3 448.5,318.2 449.0,317.0 449.5,318.6 450.0,318.4 450.5,317.7 451.0,318.9 451.6,316.7 452.1,318.2 452.6,316.8 453.1,317.7 453.6,316.4 454.1,317.7 454.7,315.3 455.2,317.3 455.7,315.4 456.2,316.8 456.7,315.2 457.2,316.5 457.8,314.5 458.3,315.4 458.8,314.8 459.3,314.3 459.8,316.1 460.3,315.3 460.9,316.7 461.4,315.9 461.9,317.8 462.4,316.3 462.9,318.2 463.4,317.0 464.0,319.0 464.5,318.2 465.0,320.1 465.5,318.9 466.0,320.6 466.5,319.4 467.0,321.2 467.6,320.0 468.1,322.0 468.6,320.7 469.1,322.1 473.5,311.1 474.0,310.3 474.5,312.4 475.1,311.3 475.6,313.0 476.1,311.7 476.6,313.2 477.1,311.8 477.7,313.2 478.2,312.1 478.7,314.2 479.2,312.5 479.8,314.3 480.3,313.0 480.8,314.0 481.3,313.5 481.9,315.3 482.4,313.9 482.9,316.5 483.5,314.6 484.0,317.2 484.6,315.7 485.1,317.9 485.6,316.6 486.2,318.2 486.7,317.7 487.2,316.9 487.7,318.0 488.2,316.0 488.7,317.6 489.2,315.6 489.8,316.8 490.3,315.3 490.8,316.4 491.3,314.8 491.8,315.7 492.3,313.9 492.8,315.4 493.3,313.6 493.8,314.7 494.3,312.9 494.8,314.2 495.3,312.7 495.9,313.9 496.4,311.9 496.9,313.7 497.4,311.3 497.9,313.2 498.4,311.8 498.9,311.0 499.5,313.5 500.0,311.8 500.5,313.6 501.1,312.9 501.6,314.2 502.2,313.1 502.7,315.5 503.2,313.9 503.8,315.8 504.3,315.5 504.8,314.9 505.3,316.2 505.8,314.8 506.3,317.0 506.8,315.2 507.4,316.3 507.9,315.4 508.4,316.7 508.9,315.0 509.4,317.2 509.9,315.4 510.4,316.8 510.9,315.8 511.4,317.0 511.9,315.5 512.4,317.3 512.9,315.4 513.5,317.8 514.0,315.7 514.5,317.6 515.0,315.8 515.5,317.5 516.0,317.0 516.5,316.3 517.0,317.5 517.6,315.7 518.1,317.0 518.6,315.6 519.1,316.5 519.6,314.8 520.2,316.7 520.7,314.4 521.2,316.6 521.7,314.5 522.3,316.1 522.8,314.2 523.3,314.8 523.8,313.6 524.3,315.0 524.8,313.3 525.3,313.7 525.8,312.6 526.4,313.4 526.9,311.7 527.4,312.3 527.9,310.7 528.4,312.1 528.9,310.3 529.4,311.0 529.9,309.3 530.4,310.6 530.9,309.1 531.4,309.7 531.9,308.1 532.5,309.4 533.0,307.4 533.5,308.5 534.0,306.9 534.5,307.6 535.0,306.7 538.0,313.3 540.9,329.4 543.8,316.2 544.3,315.6 544.8,316.6 545.3,315.9 545.8,316.6 546.3,315.9 546.8,316.5 547.3,315.8 547.8,316.6 548.3,315.7 548.8,316.7 549.3,315.8 549.8,316.4 550.3,315.7 550.8,316.4 551.3,315.8 551.8,316.6 552.3,315.7 552.8,316.7 553.3,315.9 553.8,316.7 554.3,315.7 554.8,316.6 555.3,315.9 555.8,316.8 556.3,315.8 556.8,316.4 557.3,315.9 557.8,316.8 558.3,315.9 558.8,316.6 559.3,315.7 559.8,316.7 560.3,315.7 560.8,316.7 561.3,316.0 561.8,316.4 562.3,315.6 562.8,316.7 563.3,316.0 563.8,316.4 564.3,315.9 564.8,316.8 565.3,315.9 565.8,316.7 566.3,315.6 566.8,316.7 567.3,315.6 567.8,316.5 568.3,315.9 568.8,316.4 569.3,315.7 569.8,316.5 570.3,315.6 570.8,316.7 571.3,315.9 571.8,316.7 572.3,315.9 572.8,316.6 573.3,315.9 573.8,316.7 574.3,315.6 574.8,316.8 575.3,316.0 575.9,316.7 576.4,315.8 576.9,316.7 577.4,315.8 577.9,316.7 578.4,315.8 578.9,316.7 579.4,316.0 579.9,316.4 580.4,315.8 580.9,316.5 581.4,315.8 581.9,316.4 582.4,315.7 582.9,316.4 583.4,315.7 583.9,316.7 584.4,315.8 584.9,316.5 585.4,315.7 585.9,316.5 586.4,315.8 586.9,316.5 587.4,315.6 587.9,316.6 588.4,315.9 588.9,316.4 589.4,315.7 589.9,316.7 590.4,315.7 590.9,316.4 591.4,315.8 591.9,316.5 592.4,315.7 592.9,316.5 593.4,315.8 593.9,316.8 594.4,315.7 594.9,316.4 595.4,316.0 595.9,316.5 596.4,315.7 596.9,316.6 597.4,315.8 597.9,316.6 598.4,315.8 598.9,316.6 599.4,315.7 599.9,316.8 600.4,315.7 600.9,316.7 601.4,315.6 601.9,316.7 602.4,315.7 602.9,316.4 603.4,315.7 603.9,316.7 604.4,315.8 604.9,316.8 605.4,315.9 605.9,316.8 606.4,315.8 606.9,316.7 607.4,315.9 607.9,316.5 608.4,315.9 608.9,316.5 609.4,316.0 609.9,316.6 610.4,315.6 610.9,316.7 611.4,315.6 611.9,316.7 612.4,315.7 612.9,316.8 613.4,315.7 613.9,316.5 614.4,315.9 614.9,316.6 615.4,316.0 615.9,316.5 616.4,315.6 616.9,316.8 617.4,315.9 617.9,316.7 618.4,315.7 618.9,316.8 619.4,315.7 619.9,316.6 620.4,315.9 620.9,316.7 621.4,315.9 621.9,316.7 622.4,315.8 622.9,316.6 623.4,315.6 623.9,316.5 624.4,315.8 624.9,316.7 625.4,315.8 625.9,316.8 626.4,315.8 626.9,316.8 627.4,315.7 627.9,316.8 628.4,316.0 628.9,316.5 629.4,315.9 629.9,316.8 630.4,316.0 630.9,316.5 631.4,315.7 631.9,316.8 632.4,315.9 632.9,316.6 633.4,315.7 633.9,316.7 634.4,315.7 634.9,316.7 635.4,315.9 635.9,316.5 636.4,316.0 636.9,316.7 637.4,315.9 637.9,316.5 638.4,315.6 638.9,316.7 639.5,315.8 640.0,316.7 640.5,315.8 641.0,316.7 641.5,315.9 642.0,316.4 642.5,316.0 643.0,316.4 643.5,315.8 644.0,316.5 644.5,315.9 645.0,316.6 645.5,315.6 646.0,316.7 646.5,315.9 647.0,316.7 647.5,315.9 648.0,316.4 648.5,315.9 649.0,316.6 649.5,315.7 650.0,316.6 650.5,315.7 651.0,316.4 651.5,315.6 652.0,316.5 652.5,315.7 653.0,316.4 653.5,315.7 654.0,316.5 654.5,315.7 655.0,316.7 655.5,315.7 656.0,316.5 656.5,316.0 657.0,316.5 657.5,315.6 658.0,316.5 658.5,315.7 659.0,316.6 659.5,315.7 660.0,316.5 660.5,315.9 661.0,316.4 661.5,315.6 662.0,316.6 662.5,315.7 663.0,316.6 663.5,315.9 664.0,316.4 664.5,316.0 665.0,316.7 665.5,315.9 666.0,316.8 666.5,315.8 667.0,316.7 667.5,315.9 668.0,316.7 668.5,315.9 669.0,316.6 669.5,315.8 670.0,316.5 670.5,315.9 671.0,316.2 671.5,319.0 672.0,316.0 672.5,315.5 673.0,316.3 673.5,315.7 674.0,316.5 674.5,315.7 675.0,316.3 675.5,315.7 676.0,316.4 676.5,315.7 677.0,316.5 677.5,315.7 678.0,316.6 678.5,315.8 679.0,316.5 679.5,315.5 680.0,316.4 680.5,315.9 681.0,316.5 681.5,315.8 682.0,316.5 682.5,315.6 683.0,316.4 683.5,315.9 684.0,316.5 684.5,315.9 685.0,316.4 685.5,315.8 686.0,316.4 686.5,315.9 687.0,316.5 687.5,315.8 688.0,316.7 688.5,315.7 689.0,316.4 689.5,315.9 690.0,316.7 690.5,315.8 691.0,316.2 691.3,307.4 691.6,316.2 692.1,315.7 692.7,316.8 693.2,315.7 693.7,316.5 694.3,315.6 694.8,316.6 695.3,315.9 695.9,316.5 696.4,316.2 696.7,322.8 697.0,316.2 697.5,315.7 698.0,316.5 698.5,316.0 699.0,316.5 699.6,315.6 700.1,316.6 700.6,315.7 701.1,316.4 701.6,315.8 702.1,316.5 702.6,315.9 703.1,316.7 703.6,315.8 704.1,316.5 704.7,315.6 705.2,316.6 705.7,315.9 706.2,316.4 706.7,315.7 707.2,316.6 707.7,316.0 708.2,316.6 708.7,315.7 709.2,316.6 709.8,315.9 710.3,316.6 710.8,315.8 711.3,316.7 711.8,316.2 712.1,329.4 712.4,316.2 712.9,315.9 713.4,316.7 713.9,315.6 714.4,316.7 714.9,315.7 715.4,316.6 716.0,315.6 716.5,316.5 717.0,315.9 717.5,316.6 718.0,315.6 718.5,316.4 719.0,316.2" fill="none" stroke="#008200" stroke-width="1.5" stroke-linejoin="round"/>
<polyline points="72.0,316.0 72.5,315.0 73.0,316.7 73.5,314.7 74.0,316.9 74.5,315.1 75.0,317.7 75.5,314.5 76.0,317.9 76.5,314.8 77.0,317.6 77.5,315.3 78.0,317.9 78.5,315.0 79.0,317.3 79.5,314.6 80.0,317.9 80.5,314.7 81.0,318.0 81.5,314.5 82.0,317.0 82.5,314.2 83.0,317.0 83.5,314.0 84.0,317.3 84.5,315.0 85.0,317.9 85.5,314.9 86.0,317.2 86.5,314.9 87.0,317.6 87.5,315.3 88.0,317.2 88.5,315.1 89.0,317.8 89.5,315.3 90.0,317.5 90.5,315.0 91.0,317.3 91.5,314.6 92.0,317.6 92.5,315.1 93.0,317.0 93.5,315.1 94.0,317.9 94.5,315.1 95.0,316.9 95.5,314.6 96.0,317.5 96.5,314.1 97.0,316.8 97.5,315.0 98.0,316.9 98.5,314.5 99.0,317.3 99.5,314.8 100.0,317.9 100.5,314.4 101.0,317.8 101.5,314.1 102.0,317.0 102.5,314.1 103.0,317.2 103.5,315.2 104.0,317.9 104.5,315.2 105.0,316.7 105.5,314.9 106.0,317.1 106.5,314.0 107.0,317.8 107.5,314.8 108.0,317.4 108.5,314.2 109.0,317.7 109.5,314.5 110.0,317.4 110.5,315.1 111.0,317.0 111.5,314.4 112.0,317.5 112.5,314.3 113.0,317.9 113.5,314.0 114.0,317.0 114.5,315.2 115.0,317.9 115.5,314.6 116.0,316.9 116.5,314.4 117.0,317.0 117.5,315.0 118.0,317.2 118.5,314.6 119.0,317.6 119.5,315.2 120.0,317.7 120.5,314.5 121.0,317.3 121.5,314.4 122.0,317.7 122.5,315.3 123.0,317.3 123.5,314.4 124.0,317.6 124.5,314.5 125.0,316.9 125.5,314.1 126.0,317.7 126.5,315.0 127.0,317.3 127.5,314.1 128.0,317.0 128.5,314.8 129.0,318.0 129.5,314.1 130.0,317.0 130.5,314.3 131.0,317.2 131.5,314.4 132.0,317.7 132.5,315.1 133.0,317.0 133.5,315.0 134.0,317.0 134.5,316.0 137.4,320.6 141.8,299.4 144.8,306.0 146.2,319.2 148.4,327.2 151.4,319.2 153.0,316.0 153.5,315.8 154.0,316.3 154.5,315.6 155.0,316.4 155.5,315.8 156.0,316.4 156.5,315.4 157.0,316.4 157.5,315.7 158.0,316.5 158.5,315.6 159.0,316.3 159.5,315.6 160.0,316.2 160.5,315.5 161.0,316.3 161.5,315.6 162.0,316.6 162.5,315.5 163.0,316.5 163.5,315.5 164.0,316.5 164.5,315.5 165.0,316.0 166.5,291.3 169.4,257.6 172.3,281.0 176.0,292.8 180.4,304.5 184.8,296.5 187.7,304.5 189.9,317.7 192.9,339.7 196.5,341.2 202.4,358.8 207.5,333.8 209.7,328.0 212.5,329.0 215.6,316.2 220.0,284.0 221.5,282.0 223.6,261.3 226.6,286.9 229.5,316.2 233.9,338.2 236.8,333.8 241.2,342.6 245.6,368.3 249.3,330.9 253.0,325.0 255.9,317.7 257.4,305.2 260.0,307.0 260.5,305.8 261.0,307.8 261.5,306.1 262.0,308.1 262.5,307.4 263.0,306.9 263.5,309.0 264.0,308.0 264.6,307.5 265.1,310.3 265.6,308.3 266.2,311.1 266.8,309.9 267.3,311.1 267.8,310.7 268.4,312.3 268.9,310.4 269.4,312.3 269.9,311.2 270.5,312.3 271.0,312.0 271.5,310.8 272.1,312.0 272.6,309.9 273.1,310.5 273.6,308.6 274.2,309.8 274.7,308.2 275.3,307.6 275.9,310.1 276.4,309.7 277.0,311.0 277.6,307.2 278.3,306.0 280.0,313.0 280.5,311.6 281.1,313.5 281.6,312.1 282.1,313.7 282.6,312.0 283.1,313.5 283.7,311.8 284.2,312.6 284.7,312.2 285.2,313.7 285.7,312.9 286.2,314.4 286.8,313.5 287.3,315.4 287.8,313.5 288.3,315.6 288.8,314.0 289.3,315.5 289.8,314.5 290.4,316.5 290.9,314.9 291.5,316.5 292.0,316.0 293.4,328.0 295.2,314.8 298.0,319.0 300.3,323.6 300.8,321.5 301.4,322.3 301.9,320.0 302.4,319.9 302.9,317.5 303.5,317.9 304.0,316.2 304.5,316.1 305.0,318.3 305.5,317.7 306.0,320.3 306.5,319.8 307.0,321.0 309.9,333.8 310.5,331.3 311.1,330.8 311.6,327.6 312.2,327.7 312.8,325.0 313.3,323.6 313.9,324.5 314.4,323.1 314.9,323.8 315.5,321.7 316.0,322.0 316.5,321.0 317.0,321.4 317.5,319.6 318.1,320.3 318.6,318.5 319.1,319.3 319.6,317.7 320.1,317.7 320.7,315.9 321.2,316.3 321.8,313.5 322.3,313.7 322.9,311.3 323.4,311.6 323.9,309.4 324.5,308.9 325.1,307.5 325.7,308.6 326.2,306.4 326.8,307.6 327.4,306.0 327.9,304.7 328.4,305.1 328.9,303.0 329.4,303.6 329.9,301.8 330.4,301.6 331.8,316.2 333.3,320.0 334.8,310.0 337.4,264.2 340.6,288.4 341.2,288.1 341.7,289.5 342.2,288.2 342.8,289.9 343.4,288.5 343.9,290.3 344.4,289.2 345.0,289.9 345.5,290.0 346.1,291.9 346.6,291.4 347.1,293.1 347.6,292.7 348.2,294.0 348.7,294.3 349.3,293.1 349.9,293.5 350.4,291.6 351.0,292.7 351.6,291.3 352.2,291.0 352.7,292.2 353.3,291.7 353.9,292.9 354.4,291.9 355.0,292.8 357.2,297.2 360.9,316.2 365.6,339.7 368.9,328.7 371.9,326.5 375.5,322.1 378.5,328.0 380.7,344.1 382.1,335.3 385.5,361.0 388.7,326.5 393.9,316.2 396.1,308.9 397.8,251.7 399.7,269.3 401.9,275.2 405.6,308.9 409.3,319.2 412.9,374.9 416.6,350.0 422.4,335.3 428.3,316.2 429.0,328.0 430.5,300.1 432.0,303.0 434.2,322.1 436.4,325.0 436.9,323.7 437.4,324.0 437.9,322.0 438.5,322.4 439.0,320.5 439.5,320.3 440.0,319.2 440.6,318.0 441.1,318.3 441.6,316.6 442.2,316.9 442.8,315.1 443.3,315.2 443.8,313.5 444.4,313.3 444.9,311.6 445.4,312.5 445.9,310.2 446.4,310.5 446.9,308.1 447.4,308.2 447.9,307.7 448.4,309.8 449.0,309.1 449.5,310.6 450.0,310.4 450.5,309.9 451.1,311.8 451.6,311.2 452.1,313.2 452.7,311.3 453.2,313.3 453.8,312.4 454.3,314.5 454.8,313.3 455.4,314.9 455.9,314.8 456.4,314.9 457.0,318.0 457.6,317.3 458.1,319.7 458.6,319.6 459.2,321.9 459.8,321.3 460.3,323.6 460.9,321.9 461.4,321.7 461.9,318.7 462.5,319.0 463.1,316.7 463.6,316.4 464.1,314.0 464.7,313.3 465.2,311.1 465.7,311.7 466.2,308.8 466.7,308.6 467.2,305.7 467.8,306.1 468.3,303.4 468.8,303.3 469.3,300.8 469.8,300.1 472.0,307.0 473.5,326.5 474.0,324.8 474.6,326.3 475.1,324.6 475.6,326.0 476.1,323.3 476.7,325.3 477.2,322.8 477.7,324.6 478.2,321.9 478.8,323.2 479.3,322.1 482.3,308.9 484.5,310.0 486.0,316.0 486.5,314.9 487.1,316.4 487.6,314.1 488.1,314.8 491.8,308.2 494.0,313.0 497.7,327.2 500.6,319.0 501.1,317.7 501.7,317.9 502.2,315.4 502.7,316.2 503.2,313.9 503.8,314.8 504.3,313.3 504.8,312.6 505.3,313.8 505.9,312.4 506.4,314.3 506.9,312.5 507.4,314.1 508.0,312.3 508.5,313.5 509.0,311.8 509.5,313.5 510.0,312.2 510.6,313.4 511.1,311.6 511.6,312.6 512.1,311.8 512.6,314.0 513.2,312.9 513.7,314.6 514.2,313.0 514.7,315.3 515.2,313.2 515.8,315.3 516.3,313.8 516.8,316.2 517.3,314.8 517.9,316.4 518.4,315.2 518.9,316.2 519.5,316.1 520.1,318.1 520.6,317.5 521.2,319.2 521.8,319.2 522.3,317.6 522.9,319.0 523.5,316.9 524.0,318.5 524.5,315.9 525.1,317.0 525.7,314.8 526.2,315.5 526.7,314.1 527.2,316.1 527.7,313.6 528.2,315.2 528.7,312.9 529.2,314.2 529.7,312.3 530.2,313.7 530.8,311.6 531.3,312.8 531.8,311.2 532.3,312.4 532.8,310.3 533.3,311.7 533.8,309.6 534.3,310.4 534.8,310.1 535.3,313.1 535.8,312.2 536.3,314.7 536.8,313.3 537.3,316.1 537.9,315.0 538.4,317.1 538.9,316.4 539.4,319.1 539.9,318.3 540.4,320.5 540.9,320.6 543.8,315.8 544.3,314.4 544.8,317.2 545.3,314.3 545.8,316.6 546.3,314.9 546.8,316.6 547.3,315.1 547.8,316.7 548.3,315.2 548.8,317.2 549.3,315.0 549.8,316.4 550.3,315.2 550.8,317.1 551.3,315.0 551.8,316.9 552.3,314.8 552.8,317.2 553.3,314.3 553.8,316.7 554.3,314.6 554.8,317.3 555.3,314.8 555.8,317.3 556.3,314.5 556.8,316.7 557.3,314.3 557.8,317.0 558.3,315.1 558.8,317.0 559.3,314.4 559.8,316.9 560.3,314.8 560.8,316.8 561.3,314.3 561.8,317.1 562.3,315.0 562.8,316.8 563.3,314.9 563.8,317.4 564.3,314.5 564.8,316.5 565.3,314.3 565.8,316.4 566.3,314.7 566.8,316.8 567.3,314.5 567.8,316.8 568.3,315.2 568.8,316.9 569.3,314.4 569.8,317.2 570.3,314.9 570.8,316.6 571.3,314.5 571.8,317.2 572.3,315.1 572.8,317.3 573.3,314.2 573.8,316.9 574.3,314.9 574.8,317.1 575.3,314.3 575.8,316.6 576.3,315.0 576.8,316.7 577.3,314.5 577.8,316.6 578.3,314.7 578.8,316.9 579.3,314.6 579.8,316.6 580.3,314.3 580.9,317.5 581.4,314.7 581.9,317.2 582.4,315.1 582.9,317.4 583.4,314.7 583.9,317.2 584.4,314.4 584.9,316.8 585.4,314.3 585.9,316.6 586.4,315.3 586.9,316.9 587.4,314.4 587.9,317.4 588.4,314.3 588.9,317.0 589.4,314.3 589.9,317.0 590.4,315.2 590.9,317.1 591.4,314.5 591.9,316.9 592.4,314.7 592.9,316.7 593.4,315.0 593.9,316.9 594.4,314.8 594.9,316.9 595.4,315.2 595.9,316.4 596.4,315.0 596.9,317.2 597.4,314.5 597.9,316.7 598.4,315.0 598.9,317.0 599.4,315.1 599.9,317.1 600.4,314.4 600.9,316.6 601.4,314.7 601.9,317.2 602.4,314.5 602.9,317.2 603.4,314.6 603.9,316.7 604.4,314.5 604.9,317.4 605.4,315.3 605.9,317.4 606.4,314.9 606.9,316.5 607.4,315.3 607.9,317.3 608.4,314.6 608.9,316.6 609.4,314.9 609.9,317.1 610.4,314.3 610.9,316.8 611.4,314.5 611.9,316.7 612.4,315.1 612.9,316.6 613.4,314.9 613.9,317.1 614.4,315.0 614.9,316.6 615.4,315.1 615.9,316.5 616.4,315.1 616.9,316.8 617.4,314.8 617.9,316.7 618.4,314.8 618.9,316.9 619.4,314.3 619.9,317.0 620.4,314.4 620.9,317.0 621.4,315.1 621.9,317.1 622.4,315.2 622.9,316.6 623.4,315.3 623.9,317.2 624.4,314.3 624.9,316.9 625.4,315.0 625.9,316.9 626.4,315.0 626.9,317.2 627.4,314.9 627.9,316.6 628.4,314.5 628.9,317.1 629.4,315.3 629.9,317.4 630.4,314.6 630.9,316.8 631.4,314.7 631.9,317.4 632.4,314.9 632.9,316.9 633.4,315.1 633.9,317.1 634.4,314.7 634.9,317.2 635.4,314.4 635.9,316.6 636.4,315.0 636.9,317.4 637.4,314.5 637.9,317.1 638.4,314.7 638.9,316.8 639.4,314.4 639.9,317.1 640.4,315.0 640.9,316.7 641.4,315.3 641.9,317.4 642.4,314.5 642.9,316.5 643.4,315.0 643.9,317.0 644.4,314.9 644.9,316.9 645.4,314.4 645.9,316.9 646.4,314.8 646.9,317.5 647.4,314.7 647.9,317.0 648.4,315.0 648.9,316.9 649.4,314.8 649.9,317.3 650.4,315.1 650.9,316.9 651.4,315.0 651.9,316.9 652.4,314.4 652.9,317.1 653.4,315.1 653.9,316.9 654.5,314.5 655.0,316.7 655.5,314.7 656.0,316.5 656.5,315.2 657.0,316.6 657.5,314.6 658.0,316.7 658.5,315.2 659.0,316.6 659.5,315.1 660.0,317.3 660.5,314.6 661.0,317.5 661.5,314.4 662.0,317.1 662.5,314.4 663.0,316.6 663.5,314.4 664.0,317.0 664.5,315.2 665.0,317.3 665.5,314.5 666.0,316.9 666.5,315.3 667.0,317.4 667.5,314.6 668.0,317.1 668.5,314.4 669.0,316.6 669.5,315.4 670.0,316.7 670.5,315.4 671.0,317.3 671.5,314.8 672.0,316.7 672.5,315.2 673.0,316.7 673.5,314.8 674.0,317.2 674.5,314.4 675.0,316.9 675.5,314.4 676.0,317.0 676.5,315.0 677.0,316.8 677.5,315.2 678.0,317.6 678.5,314.4 679.0,317.3 679.5,315.2 680.0,316.7 680.5,315.3 681.0,316.9 681.5,314.7 682.0,316.6 682.5,314.9 683.0,317.3 683.5,315.4 684.0,317.0 684.5,314.6 685.0,317.2 685.5,315.0 686.0,317.5 686.5,314.8 687.0,316.9 687.5,315.0 688.0,317.5 688.5,314.5 689.0,317.5 689.5,314.9 690.0,316.7 690.5,315.3 691.0,316.0 691.3,333.8 691.6,316.0 692.1,315.0 692.7,317.4 693.2,315.4 693.7,317.5 694.3,314.5 694.8,317.2 695.3,315.4 695.9,317.5 696.4,316.0 696.7,302.3 697.0,316.0 697.5,314.9 698.0,317.3 698.5,314.8 699.0,317.4 699.6,315.0 700.1,317.7 700.6,314.3 701.1,317.6 701.6,314.7 702.1,316.9 702.6,315.0 703.1,316.9 703.6,314.4 704.1,317.5 704.7,314.5 705.2,317.5 705.7,314.3 706.2,317.4 706.7,315.1 707.2,317.4 707.7,315.1 708.2,317.3 708.7,315.2 709.2,317.5 709.8,314.9 710.3,316.9 710.8,314.4 711.3,316.7 711.8,316.0 712.1,290.6 712.4,316.0 712.9,314.4 713.4,317.4 713.9,315.2 714.4,317.4 714.9,314.8 715.4,317.6 716.0,314.8 716.5,317.1 717.0,314.4 717.5,316.7 718.0,314.5 718.5,316.7 719.0,316.0" fill="none" stroke="#ff00ff" stroke-width="1.2" stroke-linejoin="round"/>
</g>
<g clip-path="url(#c2)">
<polyline points="79.8,550.9 80.2,550.3 80.6,551.2 81.0,549.8 81.4,551.4 81.8,549.8 82.2,551.2 82.6,549.7 83.0,551.3 83.4,550.1 83.8,551.1 84.3,549.5 84.7,550.9 85.2,550.3 85.5,549.5 85.9,550.8 86.3,549.6 86.6,551.1 87.0,549.1 87.3,551.1 87.7,549.4 88.1,550.8 88.5,549.1 88.9,550.8 89.3,549.2 89.7,550.8 90.1,549.2 90.5,550.8 90.9,549.1 91.3,550.2 91.8,548.8 92.2,550.1 92.7,548.8 93.1,550.0 93.6,548.5 94.1,550.2 94.5,548.6 95.0,549.9 95.5,548.6 96.0,549.4 96.4,548.8 96.8,549.9 97.2,548.5 97.6,549.8 98.0,548.7 98.4,549.8 98.8,548.4 99.2,550.3 99.6,549.0 100.0,550.0 100.4,548.7 100.8,550.2 101.2,548.5 101.6,549.9 102.0,548.3 102.4,549.8 102.8,548.9 103.2,550.2 103.6,548.9 104.0,549.8 104.4,548.6 104.8,549.9 105.2,548.8 105.6,550.3 106.0,548.6 106.4,550.2 106.8,548.7 107.2,550.2 107.6,548.7 108.0,550.2 108.4,548.5 108.8,550.3 109.2,548.4 109.6,550.0 110.0,548.5 110.4,550.2 110.8,548.6 111.2,549.6 111.6,548.2 112.0,550.1 112.4,548.4 112.8,550.1 113.2,548.7 113.6,549.9 114.0,548.3 114.4,550.2 114.8,548.2 115.2,549.6 115.6,548.3 116.0,549.9 116.4,548.5 116.8,549.6 117.2,548.7 117.6,549.8 118.0,548.4 118.4,549.7 118.8,548.5 119.2,549.9 119.6,548.2 120.0,549.9 120.4,548.6 120.8,550.1 121.2,549.1 121.8,548.7 122.3,550.1 122.8,548.7 123.2,549.9 123.6,549.2 123.9,550.7 124.3,549.6 124.8,550.3 125.2,550.0 125.6,551.0 126.0,550.6 126.4,551.4 126.9,551.0 127.3,551.9 127.7,551.3 128.2,552.4 128.6,551.6 129.0,552.9 129.5,552.2 129.9,553.5 130.3,553.0 130.7,552.7 131.1,553.8 131.6,553.0 132.0,554.3 132.4,553.5 132.8,554.6 133.2,553.9 133.6,555.0 134.0,554.1 134.4,555.1 134.8,554.5 135.2,554.2 135.6,554.6 136.1,553.8 136.5,554.4 136.9,553.5 137.3,554.0 137.8,552.9 138.2,553.8 138.6,552.6 138.9,553.5 139.3,552.7 139.8,551.8 140.1,552.7 140.5,551.4 140.9,551.9 141.4,551.2 142.0,551.2 142.4,550.6 142.8,552.1 143.2,550.7 143.6,551.9 144.0,550.9 144.4,551.8 144.8,550.4 145.2,551.9 145.6,550.4 146.0,551.6 146.4,550.8 146.8,551.7 147.2,550.4 147.7,551.6 148.1,550.4 148.5,551.7 148.9,550.4 149.3,551.9 149.7,550.8 150.1,552.2 150.5,550.7 150.9,552.0 151.3,550.9 151.7,552.1 152.1,550.4 152.5,551.7 152.9,550.5 153.3,551.8 153.7,550.9 154.1,551.8 154.5,550.6 154.9,552.2 155.3,550.4 155.7,552.2 156.1,550.6 156.5,552.0 156.9,550.9 157.3,552.1 157.8,550.7 158.2,551.9 158.6,550.5 159.0,551.8 159.4,551.0 159.8,551.8 160.2,551.0 160.6,552.0 161.0,550.6 161.4,551.8 161.8,550.8 162.2,552.1 162.6,550.7 163.0,552.0 163.4,550.8 163.8,551.7 164.2,551.1 164.6,552.0 165.0,551.0 165.4,552.2 165.8,551.0 166.2,552.2 166.6,551.0 167.0,551.8 167.4,550.8 167.8,552.0 168.2,550.9 168.7,552.2 169.1,551.0 169.5,552.2 169.9,550.7 170.3,552.1 170.7,550.9 171.1,552.3 171.5,550.8 171.9,551.9 172.3,551.1 172.7,551.9 173.1,551.0 173.5,551.5 174.2,551.6 174.7,552.7 175.1,552.2 175.5,553.5 175.8,553.2 176.2,554.8 176.6,554.8 176.9,555.0 177.3,556.1 177.7,556.1 178.1,557.4 178.4,557.1 178.8,558.9 179.2,558.7 179.6,560.2 180.0,560.4 180.5,561.7 180.9,561.6 181.3,563.5 181.7,563.4 182.1,565.0 182.6,565.0 183.0,566.4 183.4,566.3 183.8,567.4 184.2,567.8 184.6,569.3 185.1,568.9 185.5,570.6 185.9,570.5 186.4,572.0 186.8,571.8 187.2,573.3 187.7,573.2 188.1,574.8 188.5,574.6 189.0,575.7 189.4,575.6 189.8,576.9 190.2,576.9 190.6,578.3 191.0,578.3 191.4,578.3 191.9,579.9 192.3,579.9 192.7,581.4 193.1,581.2 193.5,582.5 193.9,582.2 194.3,583.5 194.7,583.2 195.1,583.9 195.5,583.7 195.9,583.1 196.3,584.0 196.7,582.3 197.1,582.6 197.5,581.3 197.9,581.4 198.4,579.9 198.8,579.8 199.2,578.0 199.6,578.0 200.0,576.1 200.5,576.2 200.9,574.0 201.4,574.1 201.8,572.8 202.2,571.8 202.6,571.7 202.9,570.2 203.3,570.1 203.7,568.2 204.1,568.3 204.4,566.3 204.8,566.2 205.2,564.5 205.6,564.6 206.0,562.8 206.4,562.5 206.8,560.9 207.2,560.7 207.6,558.8 208.0,558.8 208.5,557.0 208.9,557.1 209.4,555.5 209.8,555.6 210.3,554.0 210.7,554.4 211.2,553.2 211.7,553.0 212.1,552.4 212.5,553.1 212.8,551.4 213.2,552.5 213.6,551.4 214.0,552.2 214.5,550.7 214.9,551.5 215.3,550.6 215.7,551.6 216.1,550.6 216.5,551.0 217.0,550.2 217.4,551.3 217.8,549.7 218.2,550.9 218.6,549.7 219.0,551.0 219.4,549.6 219.8,550.3 220.2,549.7 220.7,551.0 221.2,549.6 221.6,550.9 222.1,549.6 222.5,550.5 223.0,549.7 223.4,550.7 223.8,549.8 224.3,550.8 224.7,549.9 225.1,551.2 225.5,550.4 225.8,551.4 226.2,551.2 226.8,551.3 227.2,552.8 227.7,552.7 228.1,554.4 228.5,554.5 228.8,556.2 229.2,556.3 229.5,558.1 229.9,558.0 230.3,560.0 230.7,560.2 231.1,560.5 231.5,562.1 231.9,562.0 232.3,563.9 232.7,563.9 233.1,565.4 233.5,565.4 233.9,566.9 234.3,566.3 234.7,567.7 235.2,567.4 235.6,566.8 236.0,567.6 236.3,566.6 236.7,567.1 237.1,565.9 237.5,566.2 237.9,564.8 238.4,565.3 238.8,563.9 239.2,564.0 239.7,562.5 240.1,563.0 240.6,562.0 241.0,561.1 241.3,561.7 241.7,560.2 242.1,560.6 242.4,559.5 242.8,559.7 243.2,558.5 243.6,558.8 244.0,557.2 244.4,557.6 244.8,555.9 245.2,556.6 245.6,555.2 246.0,555.4 246.5,554.2 246.9,554.6 247.3,553.0 247.8,553.5 248.2,552.3 248.7,552.6 249.1,551.5 249.6,552.2 250.0,550.8 250.5,551.2 250.9,550.4 251.2,551.7 251.6,550.4 252.0,551.3 252.4,550.4 252.8,551.6 253.1,550.5 253.5,551.2 253.9,550.5 254.3,551.7 254.7,550.3 255.1,551.5 255.5,550.5 255.9,552.0 256.4,550.9 256.8,551.8 257.2,550.9 257.6,552.1 258.0,551.4 258.4,552.5 258.8,551.4 259.2,552.4 259.7,551.4 260.1,552.5 260.5,551.8 260.9,552.6 261.3,552.1 261.7,551.6 262.1,552.3 262.5,551.6 262.9,552.6 263.3,551.5 263.7,552.5 264.1,551.3 264.5,552.2 264.9,551.4 265.3,552.3 265.7,551.0 266.1,551.9 266.5,551.1 267.0,552.1 267.4,550.5 267.8,551.6 268.2,550.6 268.6,551.6 269.0,550.5 269.4,551.2 269.8,550.4 270.2,551.3 270.6,550.1 271.0,551.1 271.4,550.2 271.8,550.8 272.2,550.0 272.6,550.8 273.0,550.3 273.4,549.6 273.8,551.2 274.2,549.7 274.6,551.1 275.0,549.5 275.3,551.0 275.7,549.5 276.1,550.7 276.5,549.3 276.8,550.3 277.2,548.9 277.6,550.7 277.9,549.2 278.3,550.6 278.7,549.0 279.1,550.7 279.5,549.2 279.9,550.2 280.3,549.1 280.7,550.3 281.1,548.6 281.6,550.4 282.0,548.7 282.5,550.1 283.0,548.5 283.5,549.4 283.9,548.7 284.3,550.3 284.7,548.0 285.1,550.5 285.5,547.7 285.9,550.1 286.3,548.3 286.7,550.2 287.1,548.8 287.5,550.1 287.9,548.7 288.3,550.4 288.7,548.3 289.1,550.5 289.5,548.5 289.9,550.8 290.3,548.2 290.7,551.1 291.1,548.6 291.5,550.6 291.9,548.3 292.3,550.4 292.7,547.9 293.1,550.2 293.5,547.8 293.9,550.4 294.3,548.4 294.7,550.7 295.1,548.2 295.5,550.3 295.9,548.7 296.3,551.0 296.7,548.4 297.1,550.1 297.5,548.1 297.9,550.6 298.3,548.4 298.7,550.4 299.1,547.9 299.6,550.4 300.0,548.3 300.4,551.0 300.8,548.4 301.2,550.4 301.6,548.6 302.0,550.7 302.4,548.1 302.8,550.5 303.2,548.4 303.6,550.2 304.0,547.9 304.4,550.5 304.8,547.9 305.2,550.4 305.6,548.0 306.0,550.0 306.4,548.6 306.8,551.0 307.2,548.1 307.6,550.7 308.0,548.3 308.4,550.5 308.8,548.6 309.2,550.2 309.6,548.1 310.0,550.8 310.4,548.5 310.8,550.7 311.2,548.7 311.6,550.7 312.0,548.6 312.4,550.6 312.8,548.5 313.2,550.6 313.6,548.7 314.0,550.5 314.4,548.1 314.8,549.4 315.3,549.1 315.8,550.1 316.3,548.9 316.8,550.4 317.2,549.2 317.6,550.8 318.0,549.4 318.4,550.7 318.8,549.8 319.1,551.3 319.5,549.9 319.9,551.5 320.2,550.3 320.6,551.6 321.0,550.2 321.3,552.0 321.7,550.6 322.1,551.8 322.5,550.8 323.0,551.9 323.4,550.7 323.9,551.6 324.3,550.7 324.7,552.3 325.1,551.0 325.5,552.2 325.9,550.9 326.3,552.1 326.7,550.6 327.1,551.5 327.5,550.3 327.9,551.7 328.3,550.3 328.7,551.7 329.1,550.3 329.5,551.7 329.9,550.4 330.3,551.7 330.7,550.2 331.1,551.1 331.5,550.2 331.9,551.0 332.3,550.2 332.7,551.2 333.1,550.1 333.5,550.8 333.9,549.9 334.3,550.8 334.7,549.4 335.1,551.1 335.5,549.3 335.9,551.0 336.3,549.5 336.7,550.8 337.1,549.5 337.5,550.8 337.9,549.1 338.3,550.6 338.7,549.3 339.1,550.1 339.5,548.8 339.9,550.3 340.3,548.9 340.7,550.4 341.1,549.1 341.5,550.2 341.9,549.4 342.5,549.2 343.0,550.4 343.4,549.7 343.9,550.7 344.3,550.1 344.7,551.4 345.1,550.8 345.4,552.4 345.8,551.8 346.1,553.1 346.5,552.6 346.9,553.8 347.3,553.9 347.7,554.0 348.1,555.5 348.6,555.0 349.0,556.4 349.4,556.0 349.8,557.3 350.3,557.1 350.7,558.8 351.1,558.3 351.5,559.9 352.0,559.8 352.4,561.1 352.8,560.8 353.2,562.5 353.7,562.2 354.1,563.7 354.5,563.8 354.9,564.1 355.4,565.6 355.8,565.2 356.2,566.7 356.6,566.3 357.1,567.9 357.5,567.7 357.9,569.2 358.4,568.9 358.8,570.3 359.2,570.3 359.7,571.8 360.1,571.4 360.5,572.7 360.9,572.4 361.3,573.6 361.7,573.7 362.1,573.7 362.5,574.8 362.9,574.5 363.3,575.8 363.7,575.2 364.1,576.6 364.5,575.9 364.9,577.1 365.4,576.4 365.8,576.7 366.2,576.1 366.5,576.8 366.9,575.6 367.3,576.4 367.7,575.0 368.0,575.6 368.4,574.2 368.8,574.6 369.2,572.9 369.6,573.2 370.1,572.0 370.5,572.1 370.9,570.7 371.3,570.8 371.7,569.6 372.1,569.9 372.6,568.4 373.0,568.6 373.4,567.5 373.8,567.4 374.2,566.5 374.6,567.0 375.1,565.9 375.5,566.4 375.9,565.2 376.4,565.7 376.8,564.4 377.2,564.9 377.7,563.8 378.1,564.4 378.5,563.5 379.0,564.0 379.4,562.7 379.8,563.4 380.2,562.3 380.6,562.9 381.0,562.0 381.4,561.3 381.9,561.9 382.3,560.7 382.8,561.1 383.2,559.8 383.6,560.4 384.0,559.3 384.4,559.6 384.8,558.5 385.2,559.2 385.6,558.0 386.0,558.4 386.4,557.5 386.8,556.4 387.2,556.6 387.6,555.1 388.0,555.6 388.4,554.0 388.7,553.9 389.1,552.6 389.5,552.5 389.9,551.2 390.3,551.3 390.8,549.9 391.3,550.1 391.8,549.4 392.1,548.8 392.5,549.4 392.9,548.3 393.3,549.2 393.7,548.3 394.1,548.7 394.5,548.1 395.0,548.6 395.4,547.8 395.9,548.5 396.3,547.4 396.8,548.6 397.2,547.6 397.7,548.1 398.1,547.3 398.5,548.3 398.9,547.3 399.4,548.4 399.7,547.7 400.1,548.5 400.5,547.7 400.8,548.5 401.4,548.4 401.9,549.8 402.4,549.6 402.8,551.3 403.2,551.0 403.6,552.8 404.0,553.0 404.4,554.6 404.7,554.5 405.1,556.4 405.4,556.3 405.8,558.1 406.2,558.4 406.6,558.7 407.0,560.4 407.4,560.4 407.8,562.1 408.2,561.8 408.6,563.5 409.0,563.5 409.4,565.1 409.8,564.4 410.2,565.6 410.7,565.6 411.1,565.2 411.5,566.1 411.9,564.9 412.3,565.8 412.8,564.8 413.2,565.2 413.7,563.9 414.1,564.6 414.5,563.4 414.9,563.8 415.3,562.9 415.8,561.8 416.2,562.0 416.6,560.4 417.0,560.1 417.4,558.3 417.8,558.1 418.1,556.1 418.5,555.7 418.9,553.9 419.3,553.8 419.7,552.0 420.2,552.2 420.7,551.2 421.1,550.4 421.4,551.1 421.8,550.0 422.2,550.5 422.6,549.5 423.1,550.1 423.5,549.1 423.9,549.7 424.3,548.6 424.8,549.2 425.2,548.3 425.7,549.0 426.1,548.5 426.5,547.9 426.9,548.7 427.4,547.9 427.8,548.9 428.3,547.8 428.8,549.1 429.2,548.2 429.7,549.1 430.2,548.0 430.6,549.3 431.0,548.3 431.3,549.5 431.7,548.3 432.0,549.3 432.2,548.5 432.5,543.0 432.8,554.0 433.2,548.5 433.6,547.5 434.0,549.3 434.4,547.8 434.8,549.7 435.2,546.9 435.6,549.4 436.0,547.4 436.4,550.1 436.8,547.6 437.2,549.4 437.6,547.3 438.0,549.7 438.4,546.8 438.8,550.3 439.2,547.7 439.6,549.9 440.0,547.5 440.4,549.3 440.8,547.5 441.2,550.4 441.6,547.7 442.0,550.0 442.4,547.2 442.8,549.4 443.2,546.9 443.6,549.5 444.0,547.7 444.4,550.2 444.8,548.0 445.2,549.8 445.6,547.9 446.0,549.9 446.4,548.1 446.8,549.6 447.2,547.8 447.6,549.5 448.0,548.0 448.4,549.6 448.8,547.5 449.2,549.6 449.6,547.2 450.0,548.8 450.4,548.1 450.8,549.4 451.3,548.2 451.7,549.9 452.1,548.4 452.5,549.8 452.9,548.4 453.3,550.0 453.6,548.2 454.0,549.8 454.4,547.9 454.8,549.4 455.2,548.5 455.5,549.9 455.9,548.1 456.3,549.9 456.7,548.4 457.1,549.8 457.5,548.5 457.8,549.8 458.2,548.4 458.6,549.9 459.0,548.4 459.5,549.7 459.9,548.2 460.3,549.6 460.7,548.1 461.2,549.9 461.6,548.5 462.1,549.6 462.5,548.3 463.0,549.1 463.4,548.4 463.8,549.9 464.2,548.5 464.6,549.7 465.0,548.1 465.4,549.6 465.8,548.0 466.2,550.0 466.6,548.0 467.0,550.0 467.4,548.5 467.8,549.9 468.2,548.2 468.6,549.5 469.0,547.9 469.4,549.8 469.9,548.0 470.3,549.7 470.7,548.5 471.1,549.9 471.5,548.4 471.9,549.4 472.3,548.1 472.7,549.4 473.1,548.2 473.5,549.7 473.9,548.4 474.3,549.7 474.7,548.4 475.1,549.5 475.5,548.0 475.9,549.6 476.3,548.4 476.7,549.3 477.1,547.8 477.5,549.4 477.9,548.1 478.3,549.4 478.7,547.9 479.1,549.6 479.5,547.9 479.9,549.4 480.3,548.0 480.7,549.4 481.1,548.2 481.5,549.7 481.9,547.7 482.3,549.6 482.7,547.6 483.1,549.3 483.5,547.7 484.0,549.2 484.4,547.8 484.8,549.5 485.2,547.6 485.6,549.5 486.0,547.6 486.4,549.1 486.8,547.7 487.2,549.3 487.6,548.0 488.0,549.2 488.4,547.6 488.8,549.5 489.2,547.6 489.6,549.3 490.0,548.0 490.4,548.5 490.9,548.1 491.4,549.3 491.9,548.1 492.3,549.3 492.8,548.3 493.2,549.3 493.6,548.1 494.0,549.5 494.4,548.1 494.8,549.7 495.2,548.3 495.5,549.9 495.9,548.8 496.3,550.1 496.6,549.1 497.0,550.2 497.4,549.0 497.8,550.0 498.2,548.7 498.6,550.3 499.0,549.3 499.4,549.7 499.8,548.7 500.2,550.2 500.6,549.0 501.0,549.9 501.4,549.0 501.8,550.2 502.2,548.5 502.6,549.8 503.0,548.4 503.4,549.4 503.8,547.7 504.2,549.2 504.7,547.4 505.1,549.3 505.5,547.7 505.9,549.0 506.3,547.5 506.7,548.7 507.1,546.8 507.5,548.4 507.9,546.8 508.3,548.4 508.7,546.9 509.1,548.1 509.5,546.8 509.9,547.9 510.3,547.3 510.7,546.8 511.2,548.2 511.6,546.7 512.0,548.5 512.4,547.0 512.9,548.7 513.3,547.1 513.7,549.2 514.1,547.7 514.5,549.2 515.0,547.8 515.4,549.7 515.8,548.8 516.2,550.0 516.6,548.7 517.0,550.7 517.4,549.1 517.8,550.8 518.2,549.1 518.5,551.1 518.9,549.6 519.3,550.3 519.8,549.6 520.2,551.1 520.6,549.5 521.1,550.4 521.5,549.1 521.9,550.6 522.3,549.0 522.8,550.1 523.2,548.2 523.6,549.4 524.0,548.3 524.4,549.4 524.8,548.0 525.2,549.5 525.6,548.5 526.0,547.5 526.4,549.3 526.8,547.8 527.2,549.6 527.5,548.5 527.9,550.2 528.2,548.9 528.6,550.0 529.0,549.1 529.5,550.3 529.9,549.4 530.4,550.8 531.0,550.3 531.4,549.3 531.8,550.9 532.2,549.3 532.6,551.1 533.0,549.5 533.4,550.7 533.8,549.6 534.2,550.9 534.6,549.5 535.0,551.0 535.4,549.4 535.8,550.7 536.2,549.4 536.6,551.1 537.0,549.6 537.4,550.7 537.9,549.7 538.3,550.5 538.7,549.6 539.1,550.7 539.5,549.1 539.9,550.8 540.3,549.0 540.7,550.9 541.1,549.2 541.5,550.7 541.9,549.6 542.3,550.5 542.7,549.4 543.1,550.7 543.5,549.5 543.9,550.6 544.3,549.2 544.7,550.5 545.1,549.2 545.5,550.2 545.9,548.9 546.3,550.7 546.7,549.0 547.1,550.2 547.5,549.0 547.9,550.7 548.3,548.7 548.7,550.6 549.1,549.3 549.5,550.6 549.9,548.9 550.3,550.2 550.7,548.7 551.1,550.6 551.6,548.6 552.0,550.1 552.4,548.8 552.8,550.2 553.2,549.0 553.6,550.4 554.0,548.8 554.4,550.1 554.8,548.8 555.2,550.5 555.6,548.7 556.0,550.4 556.4,548.7 556.8,550.5 557.2,549.0 557.6,550.1 558.0,549.4 558.4,548.4 558.8,550.6 559.2,548.0 559.6,550.5 560.0,548.5 560.4,550.5 560.8,548.5 561.2,550.6 561.6,548.1 562.0,550.0 562.4,548.7 562.8,550.8 563.2,548.9 563.6,550.7 564.0,549.0 564.4,550.6 564.8,548.3 565.2,550.3 565.7,548.7 566.1,550.3 566.5,548.4 566.9,550.6 567.3,548.5 567.7,550.4 568.1,548.6 568.5,551.0 568.9,548.4 569.3,551.0 569.7,548.9 570.1,550.6 570.5,548.8 570.9,550.5 571.3,548.4 571.7,550.3 572.1,548.7 572.5,550.9 572.9,548.3 573.3,550.2 573.7,549.0 574.1,550.7 574.5,548.4 574.9,550.4 575.3,548.5 575.7,550.6 576.1,548.7 576.5,551.1 576.9,549.2 577.3,550.6 577.7,549.1 578.1,550.4 578.5,549.0 578.9,551.0 579.3,548.8 579.7,550.4 580.1,548.6 580.5,550.8 581.0,549.2 581.4,551.1 581.8,548.6 582.2,550.6 582.6,548.5 583.0,551.1 583.4,549.2 583.8,550.4 584.2,548.6 584.6,551.2 585.0,549.3 585.4,551.2 585.8,548.7 586.2,551.0 586.6,548.7 587.0,551.4 587.4,549.2 587.8,551.3 588.2,548.6 588.6,550.8 589.0,548.9 589.4,551.2 589.8,548.7 590.2,551.1 590.6,549.3 591.0,550.8 591.4,549.1 591.8,550.7 592.2,548.8 592.6,551.4 593.0,549.4 593.4,551.2 593.8,549.0 594.2,550.7 594.6,548.9 595.0,551.3 595.4,549.4 595.8,550.7 596.3,549.4 596.7,551.4 597.1,549.2 597.5,551.4 597.9,549.5 598.3,550.8 598.7,549.4 599.1,551.5 599.5,549.6 599.9,550.8 600.3,549.0 600.7,550.8 601.1,549.1 601.5,550.8 601.9,549.5 602.3,551.4 602.7,549.0 603.1,551.2 603.5,550.3 603.9,549.5 604.3,550.7 604.7,549.6 605.1,550.9 605.5,549.3 605.9,551.2 606.3,549.3 606.7,551.1 607.1,549.3 607.5,550.7 607.9,549.5 608.3,550.9 608.7,549.6 609.1,551.2 609.5,549.6 609.9,550.9 610.3,549.6 610.7,551.3 611.1,549.3 611.5,551.0 611.9,549.5 612.3,551.3 612.7,549.0 613.1,550.9 613.5,549.3 613.9,551.2 614.3,549.5 614.7,550.7 615.1,549.6 615.5,550.9 615.9,549.1 616.3,550.6 616.7,549.4 617.1,551.3 617.5,549.3 617.9,550.8 618.3,549.0 618.7,551.2 619.1,549.4 619.5,550.6 619.9,549.2 620.3,551.0 620.7,548.9 621.1,551.0 621.5,549.4 621.9,550.8 622.3,549.4 622.7,550.8 623.1,549.3 623.5,551.1 623.9,548.9 624.3,551.1 624.7,549.2 625.1,551.1 625.5,549.5 625.9,551.1 626.3,549.1 626.7,551.0 627.1,549.2 627.5,551.1 627.9,549.5 628.3,551.0 628.7,548.9 629.1,550.6 629.5,548.9 629.9,550.5 630.3,548.9 630.7,550.7 631.1,549.2 631.5,550.5 631.9,548.9 632.3,550.8 632.7,549.4 633.1,551.0 633.5,549.3 633.9,550.6 634.3,549.1 634.8,550.7 635.2,548.8 635.6,551.0 636.0,548.9 636.4,550.5 636.8,549.3 637.2,550.3 637.6,549.0 638.0,550.7 638.4,549.0 638.8,550.9 639.2,549.1 639.6,550.5 640.0,549.0 640.4,550.3 640.8,548.6 641.2,550.6 641.6,548.9 642.0,550.5 642.4,549.1 642.8,550.4 643.2,548.9 643.6,550.5 644.0,548.6 644.4,550.5 644.8,549.1 645.2,550.2 645.6,549.2 646.0,550.4 646.4,548.7 646.8,550.8 647.2,549.1 647.6,550.7 648.0,548.9 648.4,550.5 648.8,548.8 649.2,550.1 649.6,549.2 650.0,550.5 650.4,548.7 650.8,550.3 651.2,548.5 651.6,550.6 652.0,549.0 652.4,550.1 652.8,548.8 653.2,550.5 653.6,549.0 654.0,550.0 654.4,548.8 654.8,550.0 655.2,548.6 655.6,550.4 656.0,548.9 656.4,550.3 656.8,548.9 657.2,550.1 657.6,549.0 658.0,550.5 658.4,548.8 658.8,550.5 659.2,548.8 659.6,550.5 660.0,548.6 660.4,550.4 660.8,548.8 661.2,550.3 661.6,548.9 662.0,550.6 662.4,548.5 662.8,550.3 663.2,548.5 663.6,549.9 664.0,548.8 664.4,550.0 664.8,548.4 665.2,549.8 665.6,548.7 666.0,549.4 666.6,548.6 667.2,550.7 667.7,549.2 668.2,550.9 668.6,550.1 669.0,551.7 669.3,550.5 669.6,552.1 669.9,550.7 670.2,552.2 670.5,551.2 671.6,536.8 672.0,563.8 672.4,548.0 672.7,548.3 673.0,549.1 673.3,550.1 673.7,551.3 674.3,552.3 675.0,553.0 675.2,552.2 675.5,554.3 675.8,552.0 676.1,554.1 676.4,552.0 676.7,553.8 677.0,552.1 677.4,553.8 677.7,552.3 678.1,554.0 678.5,552.0 678.9,553.8 679.3,552.3 679.7,554.0 680.1,551.8 680.6,553.7 681.0,551.7 681.4,552.9 681.9,551.2 682.4,552.8 682.8,551.2 683.3,552.4 683.8,551.2 684.2,552.7 684.7,550.5 685.2,552.5 685.7,550.6 686.2,552.4 686.7,550.3 687.2,551.9 687.7,551.2 688.1,550.4 688.5,552.1 688.9,550.3 689.3,551.8 689.7,550.6 690.1,551.9 690.5,550.8 690.9,551.9 691.3,550.3 691.7,552.1 692.1,550.7 692.5,552.2 692.9,550.8 693.3,552.3 693.7,550.8 694.1,551.8 694.5,550.7 694.9,552.1 695.4,550.7 695.8,552.4 696.2,550.2 696.6,551.9 697.0,550.3 697.4,552.3 697.8,550.5 698.2,551.9 698.6,550.2 699.0,552.5 699.4,550.9 699.8,552.0 700.2,550.7 700.6,551.9 701.0,550.6 701.4,552.5 701.8,551.0 702.2,552.4 702.6,550.8 703.0,551.8 703.4,550.3 703.8,552.0 704.2,550.8 704.6,551.9 705.0,550.7 705.4,551.9 705.8,550.9 706.2,552.0 706.6,550.6 707.0,552.2 707.4,550.8 707.8,552.3 708.2,550.5 708.6,552.4 709.0,550.8 709.4,552.6 709.8,550.5 710.2,552.3 710.6,550.7 711.1,552.2 711.5,551.0 711.9,552.6 712.3,550.6 712.7,552.0 713.1,550.4 713.5,552.6 713.9,551.1 714.3,552.5 714.7,551.0 715.1,552.4 715.5,550.5 715.9,552.2 716.3,550.8 716.7,552.5 717.1,551.0 717.5,552.5 717.9,550.9 718.3,551.6" fill="none" stroke="#00b0f0" stroke-width="1.5" stroke-linejoin="round"/>
<polyline points="79.8,640.4 80.2,639.4 80.7,641.0 81.1,639.7 81.6,641.0 82.1,640.2 82.5,641.2 83.0,640.3 83.4,641.5 83.7,640.3 84.0,641.6 84.3,640.5 84.6,636.0 84.9,648.0 85.2,641.0 85.5,641.1 85.9,641.4 86.4,641.8 87.0,642.2 87.2,641.8 87.5,643.2 87.7,641.3 88.0,643.0 88.3,641.9 88.7,643.6 89.0,641.8 89.3,643.8 89.7,642.0 90.1,643.4 90.5,641.6 90.9,643.4 91.3,641.7 91.7,643.9 92.1,642.3 92.6,643.7 93.0,641.8 93.5,643.4 93.9,641.9 94.4,643.9 94.9,642.0 95.3,643.8 95.8,642.5 96.3,644.1 96.8,642.5 97.2,644.0 97.7,642.1 98.2,643.7 98.7,642.1 99.1,643.8 99.6,643.1 100.0,642.1 100.4,643.6 100.8,642.0 101.2,643.8 101.6,642.1 102.0,643.9 102.4,642.1 102.8,643.8 103.2,642.3 103.6,643.6 104.0,642.4 104.4,643.7 104.8,642.1 105.2,644.1 105.6,642.5 106.0,644.4 106.4,642.1 106.8,644.4 107.2,642.8 107.6,644.2 108.0,642.3 108.4,644.1 108.8,642.8 109.2,644.4 109.6,642.5 110.0,644.2 110.4,642.3 110.8,643.9 111.2,642.9 111.6,644.4 112.0,642.7 112.4,643.8 112.8,642.8 113.2,644.5 113.6,642.4 114.0,643.9 114.4,642.9 114.8,644.5 115.2,642.5 115.6,644.2 116.0,642.9 116.4,644.1 116.8,642.3 117.2,643.8 117.6,642.7 118.0,643.9 118.4,642.3 118.8,643.9 119.2,642.3 119.6,644.5 120.0,642.5 120.4,643.9 120.8,642.6 121.2,643.5 121.8,643.1 122.4,644.6 122.8,643.8 123.2,645.1 123.6,643.8 124.0,644.5 124.4,643.9 124.8,644.4 125.2,642.5 125.6,642.5 125.9,640.8 126.3,640.7 126.7,638.6 127.1,638.7 127.5,636.6 128.0,637.0 128.5,635.9 128.9,635.1 129.2,636.1 129.6,634.6 130.1,635.0 130.5,634.1 130.9,634.7 131.4,633.7 131.8,634.4 132.3,633.4 132.7,634.3 133.2,632.9 133.6,634.1 134.0,632.6 134.4,633.9 134.8,633.2 135.3,632.5 135.7,633.7 136.1,632.7 136.6,633.8 137.0,633.1 137.4,634.4 137.8,633.3 138.2,634.6 138.5,634.5 139.0,634.6 139.4,636.5 139.7,635.9 140.0,638.1 140.5,637.7 141.1,638.6 141.4,638.2 141.7,639.4 142.0,638.0 142.3,640.1 142.6,638.3 143.0,640.3 143.3,638.5 143.7,640.2 144.1,638.3 144.5,640.3 144.9,638.5 145.3,640.3 145.8,638.7 146.2,640.5 146.7,638.6 147.1,640.0 147.6,638.7 148.1,640.2 148.6,638.7 149.1,640.3 149.6,638.8 150.1,639.5 150.5,638.8 150.9,640.2 151.3,638.8 151.7,640.6 152.1,639.0 152.5,639.8 152.9,638.4 153.3,640.1 153.7,638.6 154.1,640.2 154.5,638.7 154.9,639.9 155.3,638.9 155.7,640.4 156.1,638.2 156.5,639.9 156.9,638.5 157.3,639.9 157.7,638.8 158.1,640.3 158.5,638.2 158.9,639.8 159.3,638.6 159.7,640.1 160.1,638.1 160.5,639.9 160.9,638.4 161.3,639.7 161.7,638.1 162.1,640.1 162.5,638.0 162.9,639.5 163.3,638.2 163.7,640.2 164.1,638.0 164.5,639.7 164.9,638.5 165.3,639.4 165.7,638.0 166.1,639.4 166.5,637.9 166.9,639.8 167.3,638.1 167.7,640.0 168.1,637.7 168.5,639.7 168.9,638.3 169.3,639.7 169.7,638.1 170.1,639.4 170.5,637.7 170.9,639.7 171.3,638.2 171.7,639.3 172.1,638.0 172.5,639.5 172.9,638.0 173.3,639.4 173.7,637.6 174.1,639.2 174.5,637.7 174.9,639.3 175.3,638.6 175.8,637.9 176.3,639.6 176.8,638.5 177.2,639.6 177.6,638.8 177.9,639.8 178.3,638.8 178.6,640.2 179.0,639.3 179.4,640.3 179.8,639.8 180.2,640.4 180.6,640.0 180.9,641.2 181.3,640.6 181.7,641.9 182.1,640.8 182.5,642.3 183.0,641.7 183.4,642.9 183.8,642.3 184.2,643.6 184.7,642.9 185.1,644.0 185.5,643.4 186.0,645.0 186.4,644.2 186.8,645.2 187.2,644.8 187.6,645.9 188.1,645.4 188.4,646.6 188.8,645.8 189.2,646.7 189.7,646.6 190.1,648.0 190.6,647.5 191.0,649.1 191.4,648.2 191.8,649.9 192.2,649.1 192.7,650.7 193.1,650.0 193.5,651.7 193.9,650.9 194.3,652.2 194.7,651.5 195.1,652.4 195.5,652.1 195.9,651.3 196.3,652.3 196.8,651.0 197.2,651.8 197.6,650.3 198.0,650.8 198.4,649.6 198.8,649.9 199.2,648.3 199.7,648.9 200.1,647.5 200.5,647.9 200.9,646.2 201.4,646.5 201.8,645.8 202.2,645.0 202.6,645.4 203.0,643.9 203.4,644.7 203.8,643.3 204.2,643.7 204.6,642.4 205.0,642.8 205.4,641.5 205.8,642.3 206.2,640.5 206.7,641.5 207.1,639.8 207.5,640.8 208.0,639.6 208.5,640.0 209.0,639.5 209.3,638.9 209.7,639.9 210.1,638.5 210.4,640.1 210.8,638.4 211.2,639.8 211.6,638.6 212.0,640.2 212.4,638.3 212.8,639.8 213.2,638.9 213.6,640.3 214.0,638.8 214.4,640.4 214.8,639.1 215.2,640.4 215.7,639.1 216.1,640.7 216.5,639.3 216.9,640.3 217.3,639.5 217.8,641.0 218.2,639.1 218.6,641.0 219.0,639.5 219.4,640.9 219.8,640.4 220.2,639.9 220.6,640.9 221.0,639.5 221.5,641.0 221.9,639.9 222.3,641.3 222.7,640.3 223.2,641.5 223.6,639.9 224.1,641.5 224.5,640.5 224.9,641.9 225.3,640.3 225.8,641.9 226.2,640.8 226.6,642.3 227.0,641.0 227.4,642.0 227.8,641.0 228.2,642.3 228.6,641.0 229.0,642.5 229.4,641.0 229.7,642.9 230.0,641.3 230.4,642.5 230.7,642.2 231.2,641.4 231.6,642.9 232.0,642.2 232.4,643.5 232.8,642.5 233.2,644.4 233.5,643.2 233.9,644.4 234.3,643.0 234.7,644.8 235.2,644.0 235.5,643.6 235.9,644.6 236.3,642.9 236.7,644.0 237.0,642.8 237.4,643.7 237.9,642.2 238.3,642.8 238.7,641.6 239.1,642.2 239.6,640.9 240.0,641.5 240.4,639.9 240.9,640.9 241.3,639.3 241.7,640.3 242.2,638.8 242.6,639.4 243.0,637.7 243.5,639.2 243.9,637.2 244.3,638.7 244.7,637.2 245.1,637.7 245.5,636.9 245.9,638.3 246.3,637.2 246.7,638.1 247.1,637.4 247.5,638.6 247.9,637.4 248.3,638.6 248.7,637.5 249.1,638.7 249.5,637.7 249.9,639.4 250.3,638.0 250.7,639.7 251.1,638.6 251.5,639.6 251.9,638.6 252.3,639.5 252.7,638.8 253.1,640.4 253.5,639.3 253.9,640.6 254.3,639.4 254.7,641.2 255.0,639.8 255.4,641.5 255.8,640.5 256.2,642.0 256.7,640.6 257.1,642.6 257.5,641.2 257.9,642.9 258.3,641.6 258.7,643.3 259.1,641.7 259.6,643.4 260.0,642.2 260.4,643.5 260.9,642.1 261.3,643.1 261.7,642.2 262.1,643.8 262.4,642.8 262.8,643.7 263.2,642.2 263.6,643.6 264.0,642.3 264.4,643.9 264.8,642.5 265.2,643.9 265.6,642.5 266.1,643.8 266.5,642.6 266.9,644.0 267.3,642.5 267.7,643.3 268.1,642.0 268.5,643.6 269.0,641.8 269.4,643.5 269.8,641.6 270.2,642.9 270.6,642.1 271.0,642.9 271.4,641.5 271.8,642.8 272.2,641.5 272.6,643.1 273.0,642.2 273.4,641.6 273.9,643.0 274.3,641.1 274.8,643.1 275.2,641.5 275.7,643.0 276.2,641.6 276.7,643.4 277.1,641.2 277.6,643.2 278.1,641.6 278.5,643.3 279.0,641.5 279.4,643.3 279.9,641.6 280.3,643.4 280.7,641.3 281.1,643.0 281.4,641.3 281.7,643.1 282.1,641.2 282.3,643.1 282.6,641.4 282.8,642.8 283.0,641.5 283.3,637.0 283.6,646.0 284.0,641.5 284.4,640.1 284.8,642.7 285.2,640.0 285.6,642.3 286.0,640.6 286.4,643.0 286.8,640.1 287.2,642.7 287.6,640.0 288.0,643.0 288.4,641.1 288.8,642.5 289.2,641.1 289.6,643.0 290.0,640.9 290.4,642.7 290.8,640.8 291.2,642.6 291.6,640.3 292.0,643.4 292.4,640.7 292.8,643.0 293.2,641.0 293.6,643.3 294.0,641.0 294.4,643.7 294.8,640.4 295.2,643.5 295.6,640.6 296.0,642.8 296.4,641.4 296.8,643.1 297.2,641.5 297.6,643.3 298.0,640.6 298.4,643.8 298.8,640.6 299.2,643.1 299.6,641.5 300.0,642.9 300.4,641.5 300.8,643.0 301.2,641.2 301.6,643.3 302.0,641.1 302.4,643.7 302.8,641.2 303.2,643.4 303.6,641.1 304.0,643.9 304.4,641.2 304.8,643.7 305.2,641.5 305.6,643.5 306.0,642.0 306.4,643.8 306.8,641.4 307.2,643.5 307.6,641.2 308.0,644.3 308.4,641.2 308.8,644.3 309.2,641.7 309.6,643.6 310.0,642.0 310.4,644.3 310.8,641.2 311.2,643.6 311.6,642.3 312.0,643.9 312.4,642.0 312.8,644.2 313.2,642.3 313.6,644.6 314.0,642.1 314.4,644.7 314.8,643.1 315.2,642.5 315.6,643.7 316.0,642.7 316.4,644.2 316.8,642.5 317.2,644.2 317.6,642.9 318.0,644.0 318.4,642.5 318.8,644.4 319.2,642.4 319.6,643.8 320.0,642.8 320.4,644.5 320.8,642.7 321.2,644.5 321.6,643.0 322.1,643.9 322.5,642.6 322.9,644.1 323.3,642.9 323.7,644.3 324.1,642.9 324.5,644.7 324.9,642.7 325.3,644.7 325.7,643.2 326.1,644.7 326.5,643.4 326.9,644.5 327.3,642.9 327.7,644.4 328.1,643.3 328.5,644.7 328.9,643.5 329.3,644.0 329.7,643.1 330.1,644.7 330.5,643.4 330.9,644.8 331.4,643.3 331.8,644.5 332.2,643.0 332.6,644.0 333.0,643.1 333.4,644.5 333.8,642.5 334.2,644.1 334.6,642.4 335.1,644.3 335.5,642.2 335.9,643.9 336.3,642.6 336.7,643.8 337.1,642.0 337.5,643.8 337.9,642.1 338.4,643.8 338.8,642.2 339.2,643.5 339.6,641.8 340.0,643.2 340.4,641.7 340.8,642.9 341.2,641.8 341.6,643.2 342.1,641.9 342.5,643.3 342.9,641.6 343.3,642.7 343.7,642.2 344.2,641.8 344.7,643.0 345.2,642.1 345.6,643.0 346.0,642.6 346.4,643.7 346.8,643.0 347.2,643.9 347.5,643.1 347.9,644.8 348.3,643.6 348.7,645.0 349.1,644.9 349.5,644.9 349.9,646.2 350.4,645.3 350.8,646.8 351.2,646.4 351.7,647.6 352.1,647.2 352.5,648.6 353.0,647.7 353.4,649.3 353.8,649.1 354.3,650.5 354.7,650.0 355.1,651.2 355.5,650.7 355.9,652.4 356.3,652.1 356.7,652.2 357.2,653.6 357.6,653.1 358.0,654.6 358.4,654.3 358.8,655.9 359.2,655.4 359.6,657.0 360.0,656.4 360.4,657.6 360.8,657.1 361.3,658.6 361.7,658.4 362.1,657.9 362.5,659.2 362.9,658.5 363.3,660.0 363.7,659.1 364.1,660.1 364.5,659.3 364.9,660.7 365.3,659.6 365.7,660.7 366.2,659.6 366.6,660.2 367.0,659.5 367.4,660.5 367.8,659.5 368.2,660.1 368.6,658.8 369.0,659.8 369.4,658.0 369.8,659.0 370.2,657.7 370.6,658.2 371.1,656.9 371.5,657.8 371.9,656.4 372.4,657.1 372.9,655.4 373.3,656.4 373.8,655.7 374.2,654.8 374.5,655.9 374.9,654.7 375.3,655.9 375.7,654.7 376.1,655.4 376.5,654.1 376.9,655.1 377.3,654.2 377.7,655.1 378.1,653.8 378.6,655.0 379.0,653.6 379.4,654.9 379.8,653.9 380.2,654.4 380.7,653.7 381.1,654.4 381.5,653.6 381.9,654.3 382.3,653.1 382.7,653.9 383.1,652.8 383.5,653.8 383.9,652.5 384.2,653.6 384.6,653.0 385.1,652.2 385.5,653.2 386.0,652.0 386.4,652.8 386.8,651.6 387.2,652.1 387.6,651.0 388.0,651.9 388.4,650.4 388.8,651.0 389.2,650.0 389.6,650.8 390.1,649.3 390.5,650.2 390.9,649.0 391.3,650.0 391.8,649.4 392.2,648.8 392.6,649.7 393.0,648.7 393.3,649.9 393.7,648.3 394.1,649.8 394.5,648.4 394.9,649.6 395.4,648.6 395.8,649.3 396.2,648.3 396.6,649.6 397.0,648.4 397.4,649.4 397.8,648.6 398.3,649.8 398.7,648.6 399.1,649.4 399.5,648.8 400.0,649.7 400.4,649.0 400.8,649.4 401.2,648.7 401.6,650.3 402.0,649.0 402.4,650.1 402.8,649.5 403.2,650.5 403.6,649.7 404.0,651.2 404.4,650.0 404.9,651.6 405.3,650.8 405.7,651.6 406.1,651.2 406.5,652.4 407.0,651.2 407.4,652.6 407.8,651.9 408.2,653.1 408.6,652.2 409.0,653.1 409.4,652.5 409.8,653.7 410.1,652.5 410.5,653.7 410.9,652.4 411.2,653.6 411.6,653.0 412.1,652.1 412.5,653.4 412.9,651.8 413.4,653.1 413.8,651.7 414.2,652.3 414.6,651.0 415.0,651.4 415.4,650.2 415.8,651.0 416.2,649.6 416.5,650.0 416.9,648.8 417.3,649.5 417.7,647.9 418.1,648.7 418.5,647.3 418.9,647.6 419.3,646.7 419.7,647.6 420.2,646.5 420.6,647.5 421.0,646.0 421.4,647.2 421.8,645.9 422.2,646.9 422.6,645.4 423.1,646.5 423.5,645.3 423.9,646.2 424.3,645.2 424.8,645.7 425.2,645.3 425.6,644.8 426.0,645.5 426.5,644.8 426.9,645.7 427.4,644.4 427.9,645.6 428.4,644.6 428.8,645.6 429.3,644.3 429.7,645.5 430.2,644.5 430.6,645.4 431.0,644.2 431.3,645.0 431.7,644.1 432.0,645.0 432.2,644.0 432.5,635.0 432.8,652.5 433.2,644.0 433.4,642.5 433.7,645.2 434.0,642.7 434.3,644.2 434.7,642.1 435.0,643.8 435.4,642.2 435.8,644.3 436.3,641.9 436.7,644.6 437.1,641.8 437.6,644.4 438.1,641.8 438.6,644.5 439.0,642.1 439.5,643.7 440.0,641.4 440.5,643.1 440.9,642.1 441.3,643.7 441.7,642.7 442.1,643.8 442.5,642.3 442.9,643.7 443.3,642.8 443.7,644.1 444.1,642.9 444.6,643.9 445.0,642.6 445.4,643.9 445.8,643.0 446.2,644.0 446.6,642.8 447.0,644.1 447.4,642.8 447.8,644.2 448.2,642.9 448.6,644.0 449.0,642.5 449.4,644.6 449.8,642.8 450.2,644.1 450.6,643.1 451.0,644.8 451.4,643.0 451.8,644.3 452.2,642.7 452.6,644.9 453.1,643.3 453.5,644.6 453.9,643.0 454.3,644.4 454.7,643.2 455.1,644.8 455.5,643.0 455.9,644.8 456.3,643.1 456.7,644.0 457.1,643.3 457.5,644.4 457.9,643.5 458.3,644.9 458.7,642.8 459.1,644.9 459.5,643.3 459.9,644.7 460.3,643.2 460.7,644.4 461.1,643.1 461.5,644.7 461.9,642.6 462.3,644.6 462.7,642.8 463.1,644.6 463.5,642.9 463.9,644.3 464.3,642.5 464.7,644.0 465.1,642.6 465.5,643.8 465.9,642.3 466.3,643.8 466.7,642.7 467.1,643.8 467.5,642.3 467.9,644.0 468.4,642.3 468.8,644.1 469.2,642.0 469.6,643.6 470.0,642.1 470.4,643.5 470.8,642.3 471.2,643.4 471.6,642.4 472.0,643.5 472.4,641.7 472.8,643.6 473.2,642.2 473.6,643.2 474.0,641.8 474.4,643.4 474.8,642.1 475.2,643.0 475.6,641.7 476.0,643.4 476.4,642.0 476.8,643.4 477.2,641.8 477.6,643.2 478.0,641.5 478.4,643.0 478.8,641.1 479.2,642.9 479.6,642.2 480.1,641.5 480.6,643.2 481.1,641.4 481.5,643.8 482.0,641.8 482.4,643.7 482.9,642.1 483.3,644.2 483.7,642.3 484.2,644.8 484.6,642.9 485.0,644.6 485.4,643.4 485.8,645.2 486.2,644.1 486.6,645.8 487.0,644.4 487.3,646.1 487.7,644.5 488.1,646.2 488.5,644.6 488.9,646.6 489.3,644.6 489.6,646.9 490.0,644.8 490.4,645.8 490.8,645.1 491.3,646.6 491.7,644.7 492.1,646.5 492.5,644.4 492.9,645.6 493.3,644.2 493.7,645.2 494.1,643.3 494.5,644.5 494.9,643.1 495.3,644.1 495.7,642.6 496.1,643.4 496.5,641.9 496.9,643.1 497.3,641.5 497.7,643.0 498.1,641.5 498.5,642.2 498.9,641.8 499.3,642.8 499.7,641.7 500.1,643.9 500.5,642.4 500.9,644.0 501.3,643.0 501.7,645.0 502.1,643.6 502.5,645.8 502.9,644.8 503.3,646.1 503.7,645.5 504.1,647.2 504.5,646.2 505.0,648.0 505.4,646.6 505.8,648.8 506.2,647.6 506.6,649.9 507.0,648.2 507.4,650.2 507.8,648.5 508.2,650.4 508.6,649.5 509.0,651.1 509.4,650.0 509.8,649.1 510.3,650.7 510.7,649.2 511.1,650.4 511.5,648.4 512.0,649.7 512.4,647.7 512.8,649.1 513.2,646.8 513.6,647.7 514.1,645.5 514.5,646.7 514.9,645.0 515.3,645.9 515.7,643.5 516.1,644.7 516.5,643.2 516.9,644.4 517.3,642.6 517.7,643.5 518.1,641.5 518.5,643.3 518.9,641.2 519.3,642.2 519.7,641.7 520.2,643.5 520.6,641.9 521.0,643.9 521.4,642.5 521.8,644.7 522.3,643.3 522.7,645.1 523.1,644.5 523.5,646.2 523.9,645.4 524.3,646.8 524.6,645.6 525.0,647.9 525.4,646.2 525.8,648.0 526.1,646.8 526.5,647.6 527.0,646.7 527.4,647.7 527.7,646.2 528.1,647.4 528.5,644.7 528.8,645.8 529.2,643.5 529.5,644.8 529.9,641.9 530.3,643.3 530.8,641.5 531.3,642.6 531.9,641.3 532.3,640.9 532.7,642.1 533.1,641.1 533.5,642.5 533.9,640.9 534.3,642.6 534.7,641.2 535.1,642.5 535.5,641.2 536.0,643.0 536.4,641.6 536.8,643.4 537.2,641.3 537.6,643.7 538.0,641.5 538.4,643.2 538.8,642.1 539.2,643.7 539.6,642.4 540.0,644.1 540.4,642.1 540.8,643.8 541.2,642.6 541.6,644.6 542.0,642.5 542.4,644.4 542.8,643.2 543.2,644.6 543.6,643.1 544.0,645.0 544.5,643.5 544.9,644.8 545.3,643.1 545.7,644.8 546.1,643.6 546.5,645.0 546.9,643.6 547.3,645.5 547.7,643.7 548.1,644.9 548.6,644.4 549.1,646.0 549.5,644.4 549.9,645.4 550.3,644.5 550.7,645.4 551.0,644.2 551.4,646.0 551.8,644.1 552.2,645.7 552.6,644.2 553.0,644.6 553.4,643.5 553.7,645.4 554.1,643.7 554.4,645.2 554.8,643.1 555.1,644.7 555.5,642.5 555.8,644.7 556.2,642.8 556.6,643.9 557.0,642.5 557.4,643.7 557.8,641.7 558.2,644.0 558.7,641.1 559.2,643.7 559.7,641.7 560.2,642.2 560.6,641.1 561.0,643.3 561.4,641.4 561.8,643.5 562.2,641.3 562.6,642.8 563.0,641.7 563.4,642.9 563.9,641.3 564.3,643.3 564.7,641.2 565.1,642.8 565.5,641.9 565.9,643.7 566.3,641.7 566.7,643.1 567.1,641.2 567.5,643.0 567.9,641.3 568.3,643.7 568.7,641.5 569.1,643.4 569.5,642.0 569.9,643.5 570.3,641.5 570.7,643.6 571.2,641.7 571.6,643.1 572.0,641.9 572.4,643.6 572.8,642.1 573.2,643.2 573.6,642.0 574.0,643.8 574.4,641.7 574.8,643.4 575.2,641.4 575.6,643.6 576.0,642.0 576.4,643.6 576.8,641.5 577.2,643.5 577.6,641.9 578.0,643.7 578.5,641.5 578.9,643.8 579.3,642.2 579.7,643.8 580.1,642.1 580.5,643.7 580.9,641.8 581.3,643.3 581.7,642.0 582.1,643.6 582.5,641.9 582.9,644.1 583.3,642.1 583.7,643.9 584.1,642.2 584.5,643.6 584.9,642.1 585.3,643.9 585.8,642.4 586.2,644.1 586.6,642.1 587.0,643.8 587.4,642.4 587.8,644.2 588.2,641.9 588.6,644.3 589.0,643.1 589.4,642.4 589.8,643.4 590.2,642.0 590.6,643.3 591.0,641.7 591.4,643.6 591.8,642.0 592.2,643.3 592.6,641.6 593.0,643.0 593.4,641.7 593.8,643.3 594.2,641.3 594.6,643.1 595.0,641.7 595.4,642.7 595.8,641.4 596.2,642.4 596.7,641.0 597.1,642.7 597.5,640.6 597.9,642.5 598.3,640.5 598.7,642.3 599.1,640.7 599.5,642.1 599.9,640.6 600.3,642.4 600.7,640.5 601.1,641.6 601.5,640.4 601.9,641.6 602.3,640.1 602.7,641.7 603.1,640.1 603.5,640.8 603.9,639.7 604.3,641.8 604.7,640.3 605.1,641.2 605.5,639.8 605.9,641.6 606.3,639.8 606.7,641.5 607.1,640.3 607.6,641.5 608.0,639.7 608.4,641.6 608.8,640.3 609.2,641.2 609.6,639.6 610.0,641.5 610.4,640.1 610.8,641.6 611.2,639.6 611.6,641.7 612.0,639.7 612.4,641.7 612.8,640.2 613.2,641.4 613.6,639.6 614.0,641.3 614.4,640.1 614.9,641.7 615.3,639.6 615.7,641.0 616.1,640.1 616.5,641.4 616.9,639.4 617.3,641.4 617.7,639.5 618.1,641.0 618.5,639.7 618.9,641.1 619.3,639.9 619.7,641.0 620.1,639.7 620.5,640.9 620.9,639.6 621.3,641.4 621.7,639.4 622.1,641.5 622.6,640.0 623.0,641.5 623.4,639.6 623.8,641.6 624.2,639.7 624.6,640.9 625.0,639.5 625.4,641.0 625.8,639.2 626.2,640.4 626.5,636.0 626.8,646.0 627.1,641.0 627.4,641.0 627.7,641.1 628.0,641.3 628.4,641.6 628.8,641.9 629.3,642.3 629.9,642.6 630.5,642.8 630.9,642.0 631.3,643.9 631.7,642.0 632.1,643.5 632.5,641.9 632.9,643.8 633.3,642.1 633.7,643.4 634.1,642.1 634.5,643.8 634.9,642.3 635.3,643.4 635.7,642.1 636.2,643.8 636.6,642.4 637.0,643.5 637.4,641.7 637.8,643.5 638.2,641.9 638.6,643.5 639.0,642.4 639.4,643.7 639.8,641.8 640.2,643.9 640.6,642.4 641.0,643.8 641.4,642.0 641.8,643.7 642.2,642.0 642.6,643.7 643.0,642.4 643.4,643.9 643.8,642.4 644.2,643.6 644.6,641.9 645.0,643.8 645.4,642.1 645.8,643.9 646.2,642.2 646.7,643.7 647.1,642.1 647.5,643.4 647.9,642.3 648.3,643.4 648.7,641.8 649.1,644.1 649.5,642.1 649.9,643.5 650.3,641.9 650.7,643.6 651.1,642.0 651.5,643.9 651.9,642.1 652.3,644.0 652.7,642.4 653.1,644.1 653.5,642.2 653.9,644.0 654.3,642.0 654.7,643.6 655.1,642.3 655.5,643.7 655.9,642.6 656.3,644.1 656.7,642.1 657.2,643.8 657.6,642.2 658.0,644.1 658.4,642.6 658.8,643.7 659.2,642.1 659.6,643.9 660.0,642.3 660.4,643.7 660.8,642.5 661.2,644.0 661.6,642.4 662.0,644.2 662.4,643.1 663.0,642.1 663.4,644.5 663.9,642.9 664.2,644.5 664.6,643.3 664.9,644.6 665.2,643.5 665.6,644.8 666.0,644.0 666.4,642.6 666.8,644.9 667.3,642.8 667.7,644.1 668.2,641.9 668.7,643.4 669.1,641.4 669.6,643.4 670.0,641.3 670.4,642.7 670.8,640.0 671.1,641.3 671.4,640.0 671.8,620.6 672.2,653.9 672.6,636.0 673.0,635.4 673.4,634.9 673.8,634.5 674.4,634.3 675.0,634.1 675.3,633.1 675.6,635.2 675.9,633.0 676.3,635.5 676.6,632.7 677.0,635.1 677.4,633.7 677.8,635.7 678.2,633.3 678.7,635.8 679.1,634.1 679.6,635.5 680.0,633.6 680.5,636.1 680.9,634.3 681.4,637.0 681.9,634.9 682.3,637.0 682.8,635.3 683.2,637.2 683.7,634.9 684.1,636.3 684.5,635.7 684.9,637.7 685.3,635.2 685.7,637.9 686.1,635.5 686.4,638.3 686.8,635.8 687.2,638.1 687.6,635.9 688.0,638.5 688.4,636.3 688.8,638.6 689.2,636.9 689.6,638.5 690.0,637.0 690.4,639.2 690.8,636.7 691.2,638.8 691.7,636.7 692.1,638.8 692.5,637.7 693.0,639.2 693.5,637.9 693.9,639.9 694.4,637.7 694.9,638.6 695.3,637.7 695.7,639.9 696.1,637.6 696.5,639.7 696.9,637.6 697.3,639.5 697.7,637.1 698.1,639.3 698.5,637.5 698.9,639.5 699.3,637.9 699.7,639.1 700.1,637.5 700.5,639.7 701.0,637.6 701.4,639.0 701.8,637.1 702.2,639.1 702.6,637.1 703.0,639.0 703.4,637.3 703.8,639.0 704.2,637.7 704.6,639.3 705.0,637.2 705.4,639.3 705.8,637.5 706.2,639.2 706.6,637.4 707.0,639.1 707.4,636.9 707.8,639.0 708.2,637.7 708.6,639.3 709.0,637.5 709.4,639.5 709.8,637.7 710.2,639.4 710.6,637.4 711.0,639.6 711.4,637.5 711.8,639.1 712.2,637.4 712.7,639.2 713.1,637.5 713.5,639.3 713.9,637.3 714.3,639.3 714.7,637.4 715.1,639.1 715.5,637.1 715.9,639.3 716.3,637.0 716.7,639.0 717.1,637.5 717.5,638.7 717.9,637.5 718.3,638.1" fill="none" stroke="#0c1ca8" stroke-width="1.5" stroke-linejoin="round"/>
<polyline points="79.8,666.2 80.2,665.7 80.6,666.7 81.0,665.4 81.4,666.8 81.8,665.2 82.2,666.7 82.6,665.6 83.0,666.7 83.4,665.7 83.8,667.0 84.2,665.4 84.6,666.7 85.0,665.2 85.4,667.0 85.8,665.5 86.2,666.9 86.6,665.3 87.0,666.8 87.4,665.7 87.8,666.7 88.2,665.1 88.6,666.7 89.0,665.3 89.4,666.5 89.8,665.2 90.2,667.0 90.6,665.5 91.0,666.7 91.4,665.4 91.8,666.6 92.2,665.6 92.6,666.5 93.0,665.2 93.4,666.8 93.8,665.0 94.2,667.1 94.6,665.1 95.0,667.0 95.4,665.1 95.8,666.4 96.2,665.6 96.6,667.0 97.0,665.1 97.4,666.8 97.8,665.2 98.2,666.7 98.6,665.4 99.0,666.5 99.4,665.3 99.8,666.5 100.2,665.5 100.6,666.9 101.0,665.2 101.4,666.9 101.8,665.4 102.2,666.7 102.6,665.4 103.0,666.9 103.4,665.4 103.8,666.8 104.2,665.2 104.6,666.5 105.0,665.5 105.4,666.6 105.8,665.2 106.2,666.8 106.6,665.4 107.0,666.4 107.4,665.3 107.8,666.8 108.2,665.4 108.7,666.7 109.1,665.5 109.5,666.3 109.9,665.0 110.3,666.6 110.7,665.4 111.1,666.6 111.5,664.9 111.9,666.5 112.3,665.1 112.7,666.5 113.1,665.1 113.5,666.2 113.9,664.9 114.3,666.6 114.7,665.2 115.1,666.4 115.5,665.3 115.9,666.8 116.3,664.9 116.7,666.4 117.1,665.0 117.5,666.5 117.9,665.3 118.3,666.2 118.7,664.9 119.1,666.3 119.5,665.0 119.9,666.2 120.3,665.4 120.7,666.2 121.1,665.0 121.5,666.5 121.9,664.7 122.3,666.6 122.7,665.0 123.1,666.1 123.5,664.7 123.9,666.4 124.3,664.8 124.7,666.1 125.1,664.8 125.5,666.4 125.9,665.2 126.3,666.4 126.7,665.3 127.1,666.5 127.5,665.2 127.9,666.5 128.3,665.2 128.7,666.5 129.1,664.9 129.5,666.5 129.9,664.7 130.3,666.2 130.7,664.8 131.1,666.3 131.5,664.7 131.9,666.6 132.3,664.8 132.7,666.4 133.1,665.1 133.5,666.6 133.9,664.6 134.3,666.6 134.7,665.0 135.1,666.5 135.5,664.8 135.9,666.5 136.3,664.7 136.7,666.3 137.1,665.0 137.5,665.6 138.1,664.8 138.7,666.6 139.2,665.2 139.8,667.1 140.3,665.9 140.8,666.9 141.3,666.0 141.8,667.3 142.2,666.2 142.7,667.7 143.1,666.5 143.5,668.2 143.9,667.4 144.2,668.8 144.6,667.3 144.9,668.8 145.2,667.5 145.5,669.0 145.7,667.2 146.0,668.8 146.2,668.0 146.5,660.0 146.8,672.0 147.2,666.0 148.5,663.0 148.8,661.9 149.2,662.4 149.6,660.8 150.0,661.3 150.5,659.8 150.9,660.3 151.4,658.7 151.9,659.3 152.3,658.7 152.6,660.1 153.0,659.4 153.4,660.6 153.8,660.4 154.3,661.8 154.7,661.1 155.1,663.1 155.5,662.6 156.0,664.1 156.4,663.3 156.9,664.9 157.3,664.7 157.7,664.2 158.1,665.5 158.5,664.9 158.9,666.1 159.3,665.1 159.7,666.4 160.1,665.6 160.5,666.8 160.9,665.8 161.3,666.8 161.8,666.0 162.2,667.0 162.7,666.5 163.1,665.7 163.5,667.1 163.9,665.7 164.3,667.2 164.7,666.1 165.2,667.5 165.6,665.9 166.1,667.1 166.6,665.3 167.1,666.7 167.5,665.8 168.0,666.6 168.4,665.5 168.9,666.8 169.3,665.0 169.7,666.0 170.1,665.0 170.5,666.1 170.8,664.7 171.2,665.6 171.4,663.9 171.7,664.7 172.4,664.0 172.8,663.1 173.2,662.1 173.5,661.0 174.0,659.5 174.4,657.8 174.8,655.9 175.1,654.0 175.5,652.0 175.9,649.4 176.2,646.5 176.6,643.6 177.0,640.7 177.5,638.0 177.8,636.5 178.2,635.1 178.6,633.7 179.0,632.3 179.4,630.9 179.9,629.6 180.5,628.2 181.1,626.9 181.4,625.9 181.7,626.1 182.1,624.7 182.4,624.8 182.8,623.5 183.2,623.9 183.6,622.5 184.0,622.7 184.4,621.3 184.8,621.6 185.2,620.0 185.7,620.6 186.1,618.9 186.6,619.2 187.0,618.1 187.4,618.4 187.9,616.8 188.3,617.2 188.8,616.1 189.2,616.1 189.6,615.4 190.0,615.8 190.4,614.4 190.8,615.1 191.2,613.7 191.6,614.5 192.0,613.2 192.4,613.7 192.8,612.5 193.2,613.0 193.6,611.9 194.1,612.6 194.5,611.6 194.9,612.3 195.3,611.3 195.6,611.9 196.0,611.0 196.4,611.6 196.9,611.1 197.3,612.4 197.8,611.7 198.3,612.9 198.7,612.6 199.2,614.0 199.6,614.1 200.0,615.5 200.5,615.3 200.9,616.9 201.3,616.8 201.7,618.1 202.1,618.2 202.5,619.6 202.9,619.6 203.2,621.2 203.6,621.5 204.1,622.0 204.6,624.2 205.1,624.3 205.5,626.7 205.9,627.1 206.3,629.3 206.7,629.3 207.1,631.7 207.4,632.1 207.8,634.2 208.2,634.8 208.6,636.8 209.0,637.7 209.4,638.6 209.8,640.7 210.2,641.2 210.6,643.4 210.9,643.7 211.3,646.0 211.7,646.5 212.1,648.6 212.5,648.8 212.9,651.0 213.4,651.3 213.9,653.3 214.4,653.9 214.8,654.2 215.2,655.9 215.6,655.7 216.0,657.2 216.4,657.4 216.9,659.0 217.3,659.0 217.8,660.5 218.3,660.3 218.7,661.9 219.2,661.6 219.6,663.0 220.1,662.6 220.5,663.9 220.9,663.4 221.3,664.2 221.6,663.8 222.1,663.3 222.6,663.6 223.0,662.1 223.4,661.8 223.8,660.2 224.2,659.9 224.5,657.7 224.9,657.5 225.3,655.7 225.7,653.6 226.2,652.8 226.5,650.0 226.9,648.6 227.3,645.5 227.6,644.4 228.0,641.4 228.4,639.9 228.8,636.8 229.2,635.8 229.6,633.1 230.1,632.4 230.7,630.5 231.1,629.3 231.4,629.3 231.8,627.8 232.2,628.3 232.6,626.8 233.1,627.1 233.5,625.5 233.9,626.3 234.3,625.2 234.8,625.8 235.2,625.1 235.6,624.8 236.0,625.8 236.4,624.9 236.8,626.1 237.3,625.4 237.7,626.9 238.1,626.1 238.5,627.9 238.9,627.2 239.3,628.7 239.7,628.7 240.2,628.9 240.6,630.5 241.1,630.5 241.5,632.3 241.9,632.5 242.3,634.2 242.8,634.3 243.1,636.5 243.5,636.5 243.9,638.6 244.3,638.7 244.7,640.7 245.1,641.3 245.5,642.0 246.0,643.9 246.4,644.4 246.8,646.7 247.2,647.0 247.7,648.9 248.1,649.5 248.5,651.4 248.9,651.7 249.3,653.8 249.7,654.3 250.1,656.8 250.5,657.5 250.9,658.4 251.3,660.9 251.7,661.7 252.0,664.4 252.4,665.4 252.7,668.2 253.1,668.8 253.5,671.4 253.9,672.2 254.3,674.2 254.8,674.9 255.3,676.7 255.9,677.4 256.3,677.3 256.6,678.7 257.0,678.1 257.4,679.7 257.9,679.2 258.3,680.4 258.7,679.8 259.2,680.9 259.6,680.4 260.0,681.4 260.5,680.4 260.9,681.5 261.3,681.0 261.7,680.3 262.1,681.2 262.5,680.2 263.0,680.6 263.4,679.2 263.8,680.0 264.2,678.7 264.6,678.9 265.0,677.6 265.4,677.9 265.8,676.9 266.3,677.3 266.7,676.5 267.1,675.9 267.5,676.7 268.0,675.3 268.4,676.0 268.9,674.4 269.3,675.2 269.8,674.0 270.2,675.1 270.7,673.4 271.1,674.3 271.5,672.8 271.9,673.7 272.3,672.4 272.7,673.4 273.0,672.8 273.5,671.9 273.9,673.0 274.3,671.6 274.7,673.2 275.2,672.0 275.5,671.0 275.9,672.2 276.3,670.5 276.7,672.2 277.1,670.4 277.6,671.8 278.1,670.2 278.6,671.2 279.1,669.3 279.5,670.8 280.0,668.8 280.5,669.7 281.0,668.3 281.4,669.2 281.8,667.6 282.2,668.7 282.5,667.0 282.8,668.1 283.0,667.0 283.3,659.0 283.6,675.0 284.0,666.5 284.3,664.7 284.6,667.3 285.0,664.3 285.4,665.9 285.8,663.8 286.3,665.2 286.8,662.5 287.3,665.7 287.8,663.8 288.2,663.0 288.5,664.5 288.9,662.1 289.3,664.9 289.7,661.9 290.1,664.9 290.6,662.5 291.0,664.0 291.4,662.6 291.9,664.4 292.3,662.8 292.8,664.2 293.2,662.5 293.7,664.8 294.1,662.9 294.6,664.4 295.0,663.8 295.4,663.3 295.8,664.5 296.2,663.7 296.6,664.8 297.0,663.6 297.4,665.7 297.8,664.6 298.3,666.1 298.7,664.5 299.1,666.5 299.5,665.3 299.9,667.1 300.3,666.0 300.8,667.0 301.2,665.9 301.6,667.6 302.0,666.4 302.4,668.4 302.8,667.4 303.2,668.4 303.6,667.3 304.0,668.3 304.4,668.0 304.9,669.4 305.3,667.9 305.8,669.3 306.2,668.2 306.7,669.4 307.1,668.0 307.5,669.8 308.0,668.3 308.4,669.9 308.8,668.8 309.2,670.3 309.7,668.5 310.1,670.3 310.4,668.9 310.8,670.6 311.2,670.1 311.7,669.8 312.1,671.4 312.6,670.9 313.0,672.3 313.4,671.9 313.7,673.1 314.1,672.8 314.5,674.6 314.9,673.8 315.3,675.4 315.7,675.0 316.1,676.6 316.6,676.5 317.0,676.3 317.3,677.7 317.7,677.1 318.1,678.6 318.5,677.7 318.9,679.4 319.3,678.6 319.7,680.3 320.1,679.8 320.6,680.9 321.0,680.4 321.4,681.7 321.8,681.0 322.3,682.3 322.7,681.4 323.1,683.0 323.6,682.1 324.0,683.3 324.4,682.0 324.8,682.8 325.2,682.4 325.6,683.3 326.0,681.7 326.4,682.7 326.8,681.3 327.2,682.4 327.6,680.9 328.0,681.3 328.4,679.9 328.8,680.6 329.2,679.3 329.6,679.8 330.0,678.2 330.4,679.2 330.8,677.3 331.3,678.3 331.7,677.0 332.1,677.5 332.5,676.5 332.9,676.5 333.3,675.8 333.7,676.8 334.1,675.6 334.6,676.7 335.0,675.5 335.4,676.7 335.9,675.2 336.3,676.4 336.7,675.0 337.1,676.4 337.6,675.4 338.0,676.6 338.4,674.7 338.8,676.4 339.1,674.8 339.5,675.7 339.8,674.1 340.1,674.6 341.0,673.2 341.7,671.2 342.1,668.8 342.5,666.2 342.7,663.5 343.0,660.7 343.3,658.1 343.7,655.7 344.1,654.0 344.4,652.3 344.8,650.7 345.2,649.1 345.5,647.5 345.9,645.9 346.4,644.4 346.8,642.8 347.3,641.3 347.6,640.0 348.0,639.9 348.4,637.8 348.8,637.8 349.2,636.1 349.6,635.7 350.0,634.0 350.4,634.1 350.9,632.2 351.3,632.0 351.8,630.3 352.2,630.3 352.7,628.7 353.1,627.4 353.5,627.7 353.9,625.8 354.2,625.8 354.7,624.3 355.1,624.1 355.5,622.5 355.9,622.4 356.3,621.0 356.8,620.8 357.2,619.2 357.6,619.6 358.1,618.0 358.5,618.3 359.0,616.8 359.4,616.9 359.9,616.1 360.3,615.4 360.7,616.0 361.2,614.8 361.6,615.4 362.1,614.1 362.5,614.9 363.0,613.7 363.4,614.1 363.8,613.5 364.2,614.1 364.6,613.1 365.0,614.0 365.3,613.4 365.8,613.1 366.2,613.9 366.6,613.4 367.0,614.0 367.3,613.7 367.7,615.1 368.1,614.7 368.4,616.0 368.8,615.7 369.2,616.9 369.7,616.7 370.1,618.1 370.6,617.6 371.0,619.2 371.5,618.9 372.0,619.7 372.3,619.8 372.7,620.8 373.1,620.1 373.5,621.2 373.9,620.7 374.3,622.2 374.7,621.6 375.2,622.7 375.6,622.1 376.1,623.5 376.5,622.7 376.9,624.0 377.4,623.3 377.8,624.6 378.3,624.3 378.7,625.3 379.1,624.8 379.5,625.9 379.9,625.5 380.3,626.5 380.7,626.2 381.0,626.9 381.5,626.9 382.0,628.5 382.5,628.0 382.9,629.5 383.4,629.2 383.8,630.4 384.2,630.0 384.6,631.6 385.0,631.3 385.4,632.5 385.7,632.2 386.1,633.9 386.4,634.1 386.9,634.8 387.4,637.0 387.8,637.8 388.2,640.0 388.5,640.7 388.9,643.2 389.2,643.5 389.6,646.0 390.0,646.7 390.4,647.3 390.7,649.3 391.1,649.5 391.4,651.4 391.8,651.3 392.2,653.1 392.6,653.2 393.1,654.5 393.6,654.8 394.0,654.6 394.3,656.0 394.8,655.2 395.2,656.3 395.6,655.8 396.1,657.0 396.5,656.1 396.9,657.3 397.4,656.5 397.7,657.3 398.1,656.6 398.7,656.0 399.2,656.0 399.7,654.2 400.1,653.8 400.5,652.0 400.9,651.6 401.3,649.2 401.7,648.5 402.1,646.6 402.5,645.5 402.9,642.4 403.3,641.1 403.6,637.9 403.9,636.9 404.3,633.7 404.7,632.3 405.1,629.7 405.6,628.6 406.2,626.9 406.6,625.8 406.9,626.0 407.3,624.2 407.7,624.6 408.1,622.9 408.5,623.4 409.0,622.0 409.4,622.3 409.8,621.4 410.3,621.8 410.7,621.5 411.1,621.2 411.5,622.2 412.0,621.6 412.4,622.5 412.8,622.1 413.3,623.4 413.8,623.2 414.2,624.2 414.6,624.0 415.1,625.5 415.5,625.4 415.8,626.7 416.2,626.9 416.8,627.7 417.3,630.1 417.8,630.7 418.2,632.9 418.5,634.0 418.9,636.5 419.2,637.2 419.6,640.2 419.9,641.1 420.3,643.6 420.7,644.9 421.1,646.1 421.4,648.7 421.8,649.2 422.1,651.9 422.5,652.8 422.8,655.3 423.2,656.1 423.6,658.5 424.0,659.2 424.5,661.4 425.0,662.1 425.5,664.3 426.1,664.7 426.5,664.7 426.9,666.1 427.3,665.3 427.7,666.9 428.2,665.8 428.6,667.2 429.1,666.3 429.6,667.6 430.0,666.8 430.4,668.0 430.8,667.6 431.2,668.7 431.5,668.3 431.8,669.2 432.3,686.4 432.7,660.0 433.2,668.0 433.5,666.3 433.8,668.6 434.2,665.7 434.6,668.0 435.0,664.7 435.4,668.4 435.9,664.4 436.4,667.6 436.9,665.6 437.2,664.0 437.6,666.8 437.9,664.3 438.3,666.6 438.7,664.7 439.1,667.7 439.5,665.2 439.9,667.7 440.3,666.5 440.8,668.7 441.2,666.5 441.6,669.5 442.1,667.6 442.5,669.9 443.0,667.3 443.4,670.1 443.8,668.0 444.3,671.3 444.7,668.5 445.1,671.1 445.5,669.0 445.9,670.1 446.3,669.3 446.7,670.5 447.2,669.4 447.6,670.4 448.0,669.0 448.4,670.5 448.8,668.5 449.2,670.0 449.6,667.8 450.0,669.5 450.4,667.0 450.8,668.8 451.2,666.8 451.6,667.9 452.0,666.3 452.4,667.5 452.7,665.6 453.1,666.5 453.5,665.9 453.9,666.9 454.3,665.3 454.7,666.4 455.1,664.8 455.5,666.4 455.9,664.2 456.3,665.7 456.7,663.9 457.1,665.8 457.5,664.0 458.0,664.7 458.4,663.9 458.7,665.2 459.1,663.9 459.5,665.5 459.9,664.1 460.3,666.0 460.7,664.4 461.1,666.2 461.5,664.7 462.0,666.1 462.4,665.1 462.8,666.3 463.3,665.6 463.7,667.2 464.1,665.7 464.6,666.9 465.0,665.8 465.4,667.0 465.8,665.8 466.2,667.1 466.6,666.1 467.0,666.5 467.4,665.6 467.9,667.1 468.3,665.5 468.7,666.4 469.1,664.4 469.6,665.5 470.0,663.7 470.4,664.3 470.8,662.9 471.2,663.7 471.6,662.0 472.0,663.2 472.4,661.1 472.7,662.3 473.1,660.1 473.5,661.6 473.9,659.8 474.3,661.0 474.7,659.3 475.1,660.2 475.5,659.8 475.9,661.0 476.3,660.3 476.7,661.7 477.0,660.7 477.4,662.9 477.8,661.3 478.1,663.5 478.5,662.7 478.9,664.4 479.3,663.7 479.6,665.8 480.0,665.2 480.4,667.1 480.9,666.3 481.3,667.6 481.7,666.8 482.2,668.9 482.7,667.7 483.2,668.3 483.6,667.5 484.0,669.2 484.4,667.2 484.8,669.1 485.2,667.3 485.6,668.3 486.0,666.8 486.4,668.6 486.8,666.7 487.2,668.2 487.7,665.9 488.1,668.2 488.5,665.7 488.9,667.2 489.3,665.7 489.7,667.1 490.1,665.8 490.5,666.9 490.9,665.1 491.3,667.0 491.7,665.4 492.1,666.5 492.5,665.2 492.9,666.8 493.3,664.4 493.7,666.2 494.1,664.0 494.5,666.4 494.9,664.4 495.3,665.6 495.8,664.2 496.2,665.7 496.6,663.6 497.0,665.4 497.4,663.3 497.8,665.2 498.2,663.4 498.6,665.0 499.0,662.7 499.4,663.8 499.9,663.5 500.3,664.8 500.8,663.8 501.2,665.4 501.6,664.1 502.0,666.0 502.4,664.6 502.7,666.8 503.1,665.3 503.5,667.2 503.8,665.7 504.2,668.0 504.6,666.8 504.9,668.1 505.3,666.9 505.7,668.5 506.2,667.2 506.6,668.3 507.0,667.3 507.3,669.1 507.7,667.3 508.1,669.0 508.4,667.3 508.8,668.8 509.2,667.4 509.6,668.2 510.0,666.7 510.4,668.1 510.8,666.8 511.2,667.8 511.6,666.3 512.0,667.2 512.4,665.5 512.9,667.0 513.3,665.2 513.7,666.8 514.1,665.0 514.5,666.1 515.0,664.6 515.4,665.8 515.8,664.1 516.2,665.9 516.7,664.2 517.1,665.6 517.5,664.7 517.9,664.2 518.3,665.0 518.6,663.9 519.0,665.6 519.4,664.2 519.8,665.8 520.1,664.0 520.5,665.5 520.9,664.1 521.3,666.0 521.6,664.7 522.0,666.2 522.4,664.7 522.8,666.0 523.2,664.9 523.5,666.4 523.9,665.1 524.3,666.4 524.7,665.6 525.1,666.9 525.5,665.4 525.9,667.2 526.4,665.8 526.8,667.5 527.2,666.2 527.7,667.1 528.1,666.4 528.6,667.6 529.0,666.2 529.5,667.5 530.0,667.0 530.4,666.3 530.8,667.3 531.2,666.6 531.6,668.0 532.0,666.0 532.4,667.3 532.8,666.1 533.2,667.6 533.6,666.1 534.0,667.8 534.4,666.0 534.8,667.8 535.2,666.0 535.6,667.8 536.0,666.3 536.4,667.7 536.8,666.2 537.2,667.7 537.7,665.8 538.1,667.7 538.5,665.8 538.9,667.3 539.3,666.0 539.7,667.6 540.1,666.2 540.5,667.4 540.9,665.9 541.3,667.5 541.7,666.0 542.1,667.4 542.5,665.7 542.9,667.2 543.3,665.7 543.7,667.5 544.1,665.9 544.5,667.2 544.9,665.8 545.3,667.4 545.7,665.9 546.1,667.0 546.5,665.8 546.9,667.2 547.3,665.9 547.7,667.4 548.1,665.7 548.5,667.2 548.9,665.7 549.3,666.7 549.7,665.7 550.1,667.1 550.5,665.9 550.9,667.3 551.3,665.5 551.8,666.9 552.2,665.9 552.6,666.8 553.0,665.6 553.4,667.0 553.8,665.7 554.2,666.9 554.6,665.6 555.0,666.9 555.4,665.3 555.8,666.8 556.2,665.2 556.6,666.9 557.0,665.6 557.4,666.9 557.8,665.4 558.2,666.9 558.6,665.0 559.0,666.0 559.3,662.0 559.6,670.0 560.0,666.0 560.4,665.4 560.8,666.9 561.2,665.5 561.6,666.8 562.0,665.6 562.4,666.9 562.8,665.3 563.2,666.7 563.6,665.3 564.0,666.6 564.4,665.5 564.8,666.8 565.2,665.2 565.6,666.4 566.0,665.4 566.4,667.0 566.8,665.4 567.2,666.5 567.6,665.2 568.0,666.6 568.4,664.9 568.8,667.0 569.2,665.5 569.6,666.5 570.0,665.5 570.4,666.6 570.8,665.4 571.2,666.8 571.6,665.0 572.0,666.3 572.4,665.5 572.8,666.4 573.2,665.4 573.6,666.4 574.0,665.3 574.4,666.5 574.8,665.1 575.2,666.9 575.6,664.9 576.0,666.6 576.4,665.1 576.8,666.4 577.2,665.1 577.6,666.9 578.0,664.9 578.4,666.4 578.8,665.4 579.2,666.9 579.6,665.1 580.0,666.8 580.4,665.5 580.8,666.7 581.2,665.5 581.6,666.7 582.0,665.0 582.4,666.5 582.8,665.5 583.2,666.7 583.6,664.8 584.0,666.6 584.4,665.2 584.8,666.4 585.2,664.9 585.6,666.9 586.0,665.2 586.4,666.4 586.8,664.8 587.2,666.5 587.6,665.2 588.0,666.4 588.4,665.0 588.8,666.9 589.2,665.2 589.6,666.8 590.0,665.2 590.4,666.5 590.8,664.9 591.2,666.8 591.6,664.9 592.0,666.7 592.4,664.9 592.8,666.8 593.2,664.8 593.6,666.5 594.0,665.2 594.4,666.2 594.8,665.1 595.2,666.4 595.6,665.4 596.0,666.8 596.4,665.2 596.8,666.8 597.2,665.4 597.6,666.4 598.0,664.9 598.4,666.6 598.8,665.0 599.2,666.5 599.6,665.3 600.0,666.7 600.4,664.9 600.8,666.5 601.2,665.0 601.6,666.7 602.0,665.1 602.4,666.4 602.8,665.1 603.2,666.6 603.6,664.9 604.0,666.3 604.4,664.9 604.8,666.4 605.2,664.9 605.6,666.4 606.0,664.8 606.4,666.7 606.8,664.8 607.2,666.4 607.6,665.1 608.0,666.4 608.4,665.0 608.8,666.1 609.2,665.0 609.6,666.7 610.0,665.3 610.4,666.7 610.8,665.0 611.2,666.7 611.6,664.9 612.0,666.6 612.4,664.8 612.8,666.3 613.2,665.3 613.6,666.6 614.0,664.7 614.4,666.5 614.8,665.2 615.2,666.4 615.6,665.0 616.0,666.3 616.4,665.0 616.8,666.3 617.2,664.6 617.6,666.5 618.0,664.6 618.4,666.6 618.8,665.2 619.2,666.5 619.6,665.0 620.0,666.4 620.4,664.9 620.8,666.5 621.2,665.1 621.6,666.5 622.0,665.0 622.4,666.5 622.8,664.9 623.2,666.4 623.6,664.6 624.0,666.2 624.4,665.3 624.8,666.6 625.2,664.9 625.6,666.4 626.0,664.7 626.4,666.6 626.8,665.0 627.2,666.6 627.6,665.0 628.0,666.5 628.4,664.7 628.8,666.2 629.2,665.0 629.6,666.2 630.0,665.6 630.4,665.0 630.8,666.3 631.2,664.7 631.6,666.0 632.0,664.6 632.4,666.5 632.8,664.9 633.2,666.4 633.6,665.1 634.0,666.5 634.4,664.7 634.8,666.3 635.2,664.9 635.6,666.2 636.0,665.1 636.4,666.6 636.8,664.9 637.2,666.3 637.6,664.9 638.0,666.2 638.4,665.3 638.8,666.3 639.2,664.9 639.6,666.2 640.0,665.0 640.4,666.3 640.8,665.2 641.2,666.6 641.6,665.1 642.0,666.6 642.4,664.8 642.8,666.3 643.2,665.3 643.6,666.7 644.0,665.0 644.4,666.5 644.8,664.9 645.2,666.5 645.6,664.8 646.0,666.1 646.4,664.7 646.8,666.5 647.2,665.1 647.6,666.7 648.0,664.8 648.4,666.5 648.8,665.4 649.2,666.6 649.6,665.1 650.0,666.5 650.4,664.9 650.8,666.3 651.2,664.9 651.6,666.4 652.0,665.3 652.4,666.2 652.8,665.4 653.2,666.4 653.6,665.1 654.0,666.8 654.4,665.4 654.8,666.4 655.2,665.2 655.6,666.6 656.0,665.2 656.4,666.7 656.8,665.4 657.2,666.3 657.6,665.1 658.0,666.7 658.4,665.4 658.8,666.3 659.2,665.1 659.6,666.3 660.0,664.9 660.4,666.7 660.8,665.4 661.2,666.5 661.6,665.5 662.0,666.3 662.4,665.3 662.8,666.9 663.2,664.9 663.6,666.8 664.0,665.1 664.4,666.7 664.8,665.2 665.2,666.7 665.6,665.2 666.0,666.6 666.4,665.0 666.8,666.5 667.2,665.3 667.6,666.8 668.0,664.9 668.4,666.6 668.8,665.3 669.2,666.6 669.6,665.5 670.0,666.6 670.4,665.1 670.8,666.5 671.2,665.3 671.6,666.6 672.0,666.0 672.3,660.2 672.6,671.9 673.0,665.5 673.2,664.3 673.4,666.4 673.7,664.4 674.0,665.9 674.3,664.2 674.7,665.9 675.1,663.6 675.4,665.4 675.9,663.9 676.3,665.4 676.7,663.8 677.2,666.0 677.6,663.3 678.1,665.9 678.6,663.8 679.1,665.7 679.5,664.1 680.0,665.7 680.5,663.4 681.0,665.5 681.4,664.0 681.9,665.6 682.4,663.7 682.8,665.8 683.2,664.0 683.6,665.6 684.0,665.0 684.4,664.0 684.9,665.9 685.3,663.9 685.8,666.2 686.3,664.1 686.7,665.9 687.2,664.6 687.7,666.3 688.1,664.9 688.6,666.7 689.0,664.4 689.4,666.4 689.9,664.8 690.2,666.1 690.6,664.6 690.9,666.6 691.3,664.9 691.5,665.8 691.8,664.1 692.0,665.0 692.2,658.4 692.5,670.1 692.8,665.0 693.0,663.5 693.2,666.5 693.4,663.3 693.7,666.6 694.0,662.6 694.3,665.6 694.6,662.9 695.0,665.9 695.4,663.0 695.8,666.1 696.2,662.6 696.6,666.2 697.1,663.3 697.5,665.8 698.0,662.9 698.5,666.0 698.9,663.7 699.4,666.4 699.9,663.3 700.4,665.6 700.9,662.8 701.4,666.2 701.8,663.1 702.3,666.6 702.8,663.3 703.2,666.9 703.7,664.2 704.1,666.2 704.5,664.1 704.9,666.6 705.3,664.0 705.7,665.8 706.0,665.0 706.5,664.3 707.0,665.6 707.5,663.9 708.0,665.8 708.5,664.0 709.0,665.4 709.5,663.9 709.9,665.6 710.4,664.2 710.8,665.3 711.2,664.1 711.6,665.5 711.9,663.8 712.2,665.3 712.5,663.5 712.7,664.0 712.9,660.0 713.1,668.0 713.4,664.4 713.6,663.2 713.9,665.3 714.3,663.4 714.7,664.6 715.1,662.8 715.5,664.6 716.0,663.2 716.5,665.3 717.0,663.4 717.4,665.6 717.9,663.8 718.3,664.4" fill="none" stroke="#d6003e" stroke-width="1.4" stroke-linejoin="round"/>
<polygon points="80.0,781.9 80.7,782.8 81.4,783.4 82.1,781.2 82.8,782.0 83.5,783.3 84.2,783.3 84.9,782.3 85.6,781.1 86.3,783.0 87.0,784.1 87.7,783.9 88.4,781.5 89.1,782.8 89.8,781.4 90.5,782.0 91.2,782.2 91.9,782.1 92.6,783.2 93.3,782.6 94.0,781.9 94.7,780.9 95.4,783.8 96.1,781.6 96.8,782.5 97.5,783.5 98.2,783.6 98.9,781.3 99.6,781.6 100.3,782.0 101.0,783.0 101.7,782.7 102.4,781.2 103.1,783.6 103.8,783.6 104.5,783.4 105.2,782.1 105.9,782.7 106.6,781.5 107.3,784.0 108.0,782.6 108.7,784.1 109.4,777.3 110.1,782.4 110.8,783.0 111.5,783.6 112.2,783.1 112.9,782.7 113.6,782.3 114.3,782.9 115.0,782.4 115.7,782.0 116.4,783.2 117.1,781.4 117.8,782.3 118.5,783.5 119.2,783.3 119.9,782.9 120.6,783.3 121.3,783.8 122.0,781.4 122.7,782.9 123.4,783.1 124.1,781.3 124.8,783.0 125.5,781.9 126.2,783.6 126.9,784.2 127.6,783.3 128.3,782.9 129.0,783.1 129.7,780.4 130.4,783.5 131.1,780.0 131.8,782.4 132.5,780.6 133.2,782.3 133.9,782.0 134.6,783.1 135.3,781.7 136.0,782.0 136.7,781.9 137.4,784.0 138.1,781.7 138.8,782.7 139.5,781.1 140.2,784.0 140.9,783.3 141.6,783.7 142.3,781.1 143.0,783.0 143.7,782.4 144.4,782.8 145.1,784.0 145.8,780.4 146.5,783.8 147.2,782.5 147.9,783.1 148.6,783.1 149.3,783.0 150.0,783.3 150.7,782.4 151.4,782.0 152.1,783.8 152.8,783.2 153.5,781.0 154.2,782.0 154.9,782.1 155.6,781.5 156.3,784.1 157.0,783.1 157.7,783.8 158.4,782.8 159.1,784.0 159.8,783.5 160.5,783.9 161.2,783.5 161.9,781.8 162.6,781.5 163.3,781.6 164.0,782.7 164.7,782.1 165.4,783.8 166.1,783.1 166.8,782.3 167.5,781.1 168.2,781.9 168.9,782.9 169.6,781.9 170.3,781.4 171.0,783.4 171.7,781.8 172.4,783.9 173.1,781.6 173.8,783.3 174.5,782.2 175.2,783.0 175.9,781.3 176.6,782.6 177.3,783.4 178.0,781.5 178.7,782.9 179.4,781.2 180.1,781.8 180.8,782.0 181.5,781.8 182.2,781.3 182.9,783.5 183.6,781.4 184.3,783.2 185.0,782.2 185.7,781.9 186.4,783.7 187.1,782.5 187.8,781.9 188.5,781.1 189.2,782.8 189.9,781.0 190.6,782.6 191.3,781.0 192.0,782.4 192.7,783.4 193.4,781.7 194.1,783.4 194.8,783.6 195.5,782.9 196.2,782.3 196.9,783.4 197.6,782.4 198.3,781.9 199.0,781.8 199.7,781.3 200.4,783.1 201.1,783.7 201.8,782.9 202.5,783.5 203.2,783.3 203.9,783.8 204.6,781.6 205.3,782.1 206.0,783.5 206.7,781.7 207.4,782.8 208.1,782.0 208.8,783.3 209.5,783.7 210.2,783.7 210.9,782.0 211.6,783.9 212.3,781.3 213.0,782.8 213.7,784.1 214.4,783.4 215.1,781.4 215.8,783.3 216.5,783.3 217.2,783.1 217.9,782.3 218.6,784.1 219.3,782.5 220.0,782.3 220.7,781.2 221.4,782.8 222.1,781.7 222.8,783.0 223.5,778.8 224.2,781.5 224.9,781.7 225.6,782.3 226.3,783.6 227.0,782.9 227.7,782.0 228.4,783.4 229.1,782.0 229.8,783.1 230.5,781.6 231.2,782.8 231.9,781.5 232.6,781.9 233.3,781.3 234.0,783.5 234.7,781.3 235.4,783.3 236.1,781.6 236.8,781.5 237.5,781.2 238.2,781.6 238.9,783.6 239.6,783.2 240.3,784.2 241.0,784.1 241.7,783.5 242.4,781.2 243.1,782.9 243.8,782.8 244.5,784.2 245.2,782.5 245.9,782.3 246.6,783.1 247.3,782.0 248.0,783.5 248.7,783.3 249.4,781.1 250.1,782.4 250.8,783.1 251.5,783.3 252.2,783.8 252.9,782.8 253.6,782.4 254.3,783.5 255.0,781.8 255.7,782.0 256.4,782.9 257.1,781.3 257.8,782.1 258.5,782.2 259.2,784.2 259.9,781.8 260.6,782.2 261.3,782.3 262.0,782.1 262.7,782.6 263.4,783.2 264.1,782.8 264.8,783.9 265.5,783.4 266.2,782.9 266.9,782.6 267.6,783.4 268.3,782.9 269.0,781.7 269.7,784.1 270.4,783.9 271.1,784.1 271.8,784.1 272.5,781.5 273.2,782.3 273.9,782.1 274.6,783.7 275.3,781.6 276.0,783.2 276.7,781.0 277.4,781.3 278.1,783.3 278.8,783.4 279.5,781.0 280.2,782.0 280.9,783.4 281.6,783.4 282.3,781.2 283.0,781.5 283.7,782.3 284.4,782.1 285.1,783.1 285.8,782.8 286.5,777.8 287.2,781.7 287.9,783.9 288.6,783.3 289.3,781.8 290.0,781.7 290.7,782.7 291.4,783.2 292.1,782.0 292.8,782.1 293.5,783.3 294.2,782.9 294.9,783.3 295.6,782.3 296.3,781.1 297.0,782.2 297.7,783.6 298.4,783.5 299.1,782.3 299.8,783.5 300.5,783.0 301.2,782.9 301.9,782.9 302.6,782.2 303.3,782.3 304.0,782.1 304.7,781.6 305.4,783.0 306.1,783.0 306.8,782.4 307.5,783.7 308.2,782.6 308.9,783.5 309.6,783.0 310.3,781.7 311.0,782.7 311.7,781.0 312.4,783.8 313.1,783.3 313.8,782.6 314.5,783.5 315.2,783.2 315.9,783.6 316.6,781.6 317.3,781.2 318.0,782.1 318.7,782.5 319.4,781.1 320.1,783.9 320.8,781.7 321.5,782.5 322.2,783.3 322.9,781.6 323.6,783.0 324.3,783.6 325.0,782.3 325.7,783.1 326.4,784.2 327.1,783.6 327.8,781.7 328.5,782.4 329.2,781.1 329.9,782.3 330.6,782.8 331.3,783.9 332.0,783.5 332.7,782.3 333.4,781.7 334.1,779.8 334.8,782.4 335.5,782.2 336.2,781.4 336.9,782.3 337.6,783.3 338.3,783.0 339.0,779.8 339.7,784.1 340.4,783.3 341.1,782.0 341.8,781.9 342.5,783.0 343.2,783.9 343.9,781.0 344.6,783.5 345.3,781.1 346.0,784.0 346.7,783.8 347.4,783.6 348.1,781.1 348.8,781.8 349.5,782.7 350.2,781.5 350.9,782.9 351.6,781.5 352.3,783.7 353.0,783.7 353.7,784.0 354.4,783.9 355.1,783.9 355.8,782.6 356.5,782.2 357.2,783.6 357.9,783.7 358.6,782.3 359.3,784.0 360.0,783.6 360.7,783.2 361.4,782.4 362.1,781.2 362.8,783.7 363.5,781.4 364.2,782.1 364.9,782.9 365.6,784.0 366.3,782.2 367.0,779.3 367.7,783.0 368.4,781.8 369.1,781.8 369.8,783.6 370.5,784.1 371.2,781.0 371.9,781.3 372.6,782.6 373.3,783.6 374.0,781.5 374.7,781.1 375.4,781.3 376.1,781.4 376.8,782.4 377.5,781.2 378.2,781.5 378.9,783.1 379.6,780.6 380.3,781.1 381.0,782.2 381.7,783.0 382.4,783.1 383.1,784.0 383.8,781.0 384.5,782.1 385.2,781.2 385.9,783.4 386.6,782.5 387.3,783.2 388.0,781.8 388.7,784.1 389.4,781.4 390.1,781.7 390.8,783.8 391.5,781.3 392.2,781.7 392.9,782.2 393.6,782.8 394.3,783.6 395.0,781.9 395.7,784.2 396.4,781.7 397.1,783.5 397.8,782.1 398.5,782.1 399.2,782.5 399.9,783.8 400.6,781.5 401.3,783.6 402.0,780.3 402.7,778.0 403.4,783.1 404.1,783.7 404.8,784.1 405.5,782.6 406.2,782.9 406.9,781.6 407.6,781.7 408.3,782.8 409.0,782.6 409.7,783.6 410.4,782.4 411.1,783.5 411.8,781.8 412.5,782.8 413.2,782.7 413.9,783.1 414.6,781.7 415.3,783.6 416.0,782.3 416.7,784.1 417.4,782.0 418.1,783.4 418.8,781.1 419.5,783.4 420.2,783.8 420.9,781.9 421.6,782.9 422.3,783.8 423.0,782.2 423.7,782.5 424.4,781.1 425.1,782.3 425.8,782.9 426.5,783.7 427.2,782.9 427.9,781.9 428.6,781.8 429.3,781.4 430.0,782.9 430.7,783.6 431.4,782.7 432.1,784.0 432.8,781.2 433.5,782.4 434.2,781.8 434.9,782.4 435.6,784.0 436.3,783.1 437.0,782.2 437.7,784.2 438.4,781.1 439.1,783.0 439.8,782.1 440.5,781.2 441.2,783.5 441.9,783.5 442.6,783.5 443.3,783.4 444.0,781.3 444.7,781.4 445.4,782.2 446.1,783.5 446.8,783.6 447.5,781.8 448.2,784.1 448.9,783.9 449.6,781.5 450.3,781.4 451.0,782.7 451.7,781.2 452.4,781.2 453.1,783.4 453.8,783.3 454.5,782.7 455.2,783.0 455.9,782.2 456.6,781.3 457.3,782.8 458.0,782.5 458.7,783.0 459.4,783.4 460.1,781.9 460.8,782.3 461.5,782.2 462.2,783.5 462.9,782.4 463.6,781.4 464.3,783.9 465.0,781.3 465.7,783.7 466.4,783.6 467.1,782.3 467.8,784.2 468.5,784.0 469.2,782.8 469.9,782.0 470.6,782.0 471.3,781.7 472.0,783.5 472.7,783.3 473.4,781.8 474.1,784.0 474.8,782.8 475.5,783.1 476.2,781.1 476.9,780.7 477.6,781.8 478.3,777.7 479.0,784.0 479.7,782.8 480.4,781.0 481.1,783.7 481.8,782.1 482.5,781.1 483.2,783.6 483.9,783.6 484.6,781.0 485.3,783.7 486.0,782.4 486.7,783.1 487.4,781.4 488.1,783.8 488.8,782.1 489.5,782.9 490.2,781.9 490.9,782.9 491.6,782.3 492.3,783.3 493.0,781.3 493.7,781.2 494.4,782.7 495.1,781.4 495.8,783.9 496.5,781.9 497.2,781.3 497.9,783.5 498.6,781.2 499.3,782.5 500.0,784.2 500.7,782.8 501.4,781.5 502.1,782.3 502.8,782.5 503.5,781.1 504.2,782.7 504.9,781.4 505.6,783.2 506.3,783.2 507.0,781.1 507.7,784.1 508.4,783.9 509.1,781.2 509.8,782.9 510.5,783.0 511.2,782.5 511.9,783.8 512.6,783.4 513.3,784.1 514.0,783.3 514.7,781.4 515.4,781.2 516.1,781.0 516.8,783.3 517.5,781.5 518.2,782.4 518.9,782.7 519.6,783.0 520.3,782.5 521.0,784.1 521.7,782.7 522.4,780.1 523.1,782.4 523.8,782.9 524.5,782.7 525.2,781.0 525.9,783.3 526.6,783.8 527.3,783.7 528.0,781.4 528.7,782.4 529.4,782.3 530.1,782.5 530.8,783.2 531.5,781.1 532.2,783.6 532.9,782.2 533.6,782.6 534.3,782.8 535.0,781.5 535.7,782.5 536.4,781.3 537.1,783.0 537.8,781.1 538.5,782.4 539.2,783.7 539.9,783.5 540.6,779.4 541.3,784.1 542.0,781.2 542.7,784.2 543.4,782.1 544.1,783.8 544.8,782.2 545.5,780.6 546.2,782.0 546.9,783.0 547.6,782.5 548.3,781.7 549.0,782.7 549.7,782.4 550.4,784.1 551.1,783.8 551.8,783.8 552.5,782.5 553.2,782.2 553.9,781.3 554.6,782.7 555.3,781.9 556.0,783.1 556.7,783.0 557.4,783.6 558.1,780.6 558.8,782.2 559.5,783.1 560.2,782.6 560.9,778.6 561.6,783.5 562.3,783.0 563.0,781.1 563.7,781.1 564.4,782.4 565.1,784.2 565.8,783.5 566.5,781.9 567.2,783.4 567.9,781.2 568.6,783.7 569.3,783.7 570.0,783.7 570.7,781.1 571.4,784.0 572.1,783.6 572.8,782.9 573.5,783.2 574.2,783.9 574.9,782.2 575.6,778.2 576.3,784.0 577.0,781.5 577.7,781.8 578.4,783.0 579.1,783.2 579.8,782.6 580.5,782.4 581.2,781.0 581.9,784.0 582.6,781.9 583.3,784.0 584.0,781.3 584.7,782.5 585.4,782.4 586.1,782.4 586.8,781.4 587.5,783.6 588.2,783.8 588.9,781.2 589.6,779.7 590.3,783.6 591.0,782.7 591.7,784.0 592.4,782.9 593.1,782.0 593.8,782.0 594.5,783.6 595.2,781.4 595.9,783.7 596.6,782.5 597.3,781.5 598.0,784.0 598.7,781.3 599.4,782.5 600.1,781.0 600.8,781.0 601.5,781.4 602.2,781.8 602.9,781.5 603.6,781.8 604.3,781.2 605.0,783.4 605.7,783.2 606.4,782.5 607.1,781.7 607.8,781.6 608.5,783.5 609.2,781.7 609.9,784.1 610.6,781.5 611.3,783.6 612.0,782.1 612.7,783.4 613.4,778.4 614.1,781.2 614.8,782.5 615.5,782.8 616.2,781.6 616.9,782.5 617.6,782.0 618.3,778.7 619.0,782.9 619.7,782.1 620.4,782.6 621.1,782.1 621.8,781.7 622.5,782.2 623.2,781.6 623.9,781.4 624.6,784.1 625.3,781.7 626.0,783.7 626.7,781.8 627.4,784.1 628.1,782.5 628.8,782.5 629.5,782.8 630.2,783.3 630.9,779.6 631.6,783.8 632.3,783.7 633.0,781.3 633.7,783.2 634.4,782.2 635.1,783.6 635.8,782.1 636.5,782.1 637.2,781.6 637.9,781.3 638.6,778.3 639.3,780.1 640.0,782.4 640.7,783.3 641.4,783.5 642.1,782.3 642.8,783.9 643.5,782.7 644.2,782.3 644.9,780.7 645.6,783.6 646.3,781.8 647.0,782.5 647.7,782.8 648.4,782.8 649.1,782.0 649.8,782.3 650.5,782.4 651.2,782.7 651.9,783.5 652.6,781.6 653.3,781.4 654.0,781.4 654.7,783.0 655.4,781.6 656.1,782.1 656.8,782.7 657.5,783.5 658.2,781.4 658.9,782.0 659.6,781.8 660.3,782.4 661.0,783.0 661.7,782.0 662.4,782.4 663.1,781.6 663.8,782.7 664.5,782.7 665.2,780.3 665.9,781.5 666.6,783.1 667.3,783.7 668.0,783.8 668.7,784.0 669.4,781.3 670.1,781.5 670.8,778.8 671.5,781.3 672.2,781.7 672.9,784.2 673.6,781.7 674.3,782.2 675.0,781.9 675.7,782.2 676.4,781.8 677.1,783.2 677.8,780.9 678.5,778.4 679.2,781.6 679.9,782.0 680.6,782.4 681.3,783.9 682.0,779.4 682.7,782.3 683.4,783.2 684.1,782.6 684.8,778.7 685.5,783.4 686.2,781.3 686.9,784.0 687.6,782.6 688.3,783.4 689.0,782.5 689.7,783.9 690.4,783.5 691.1,783.6 691.8,783.1 692.5,782.0 693.2,781.5 693.9,782.8 694.6,784.0 695.3,781.6 696.0,781.8 696.7,782.4 697.4,782.3 698.1,782.1 698.8,781.6 699.5,782.5 700.2,783.1 700.9,782.9 701.6,782.9 702.3,782.1 703.0,781.5 703.7,782.9 704.4,781.4 705.1,782.0 705.8,784.2 706.5,783.5 707.2,783.9 707.9,782.2 708.6,784.0 709.3,783.4 710.0,782.8 710.7,783.4 711.4,784.1 712.1,781.6 712.8,783.2 713.5,782.6 714.2,782.6 714.9,783.2 715.6,782.3 716.3,782.6 717.0,781.1 717.7,782.2 718.4,781.6 718.4,795.3 717.7,796.4 717.0,796.6 716.3,800.6 715.6,794.3 714.9,794.7 714.2,796.5 713.5,796.1 712.8,796.1 712.1,797.2 711.4,795.0 710.7,796.9 710.0,794.9 709.3,795.4 708.6,795.1 707.9,797.0 707.2,794.8 706.5,795.8 705.8,796.7 705.1,796.3 704.4,794.8 703.7,794.2 703.0,796.6 702.3,797.5 701.6,796.6 700.9,795.9 700.2,797.4 699.5,797.3 698.8,796.1 698.1,795.2 697.4,796.8 696.7,796.4 696.0,797.0 695.3,796.5 694.6,796.3 693.9,795.8 693.2,796.3 692.5,796.5 691.8,797.0 691.1,794.3 690.4,794.3 689.7,797.3 689.0,794.3 688.3,798.7 687.6,795.2 686.9,795.0 686.2,796.9 685.5,795.2 684.8,795.1 684.1,799.9 683.4,795.0 682.7,797.4 682.0,796.6 681.3,795.9 680.6,794.4 679.9,795.3 679.2,796.3 678.5,795.1 677.8,797.2 677.1,794.7 676.4,795.5 675.7,794.7 675.0,797.1 674.3,794.2 673.6,795.6 672.9,796.4 672.2,796.9 671.5,797.1 670.8,795.2 670.1,794.4 669.4,794.8 668.7,796.9 668.0,796.6 667.3,795.9 666.6,795.6 665.9,797.3 665.2,796.4 664.5,797.1 663.8,795.9 663.1,794.8 662.4,798.9 661.7,796.3 661.0,795.0 660.3,796.1 659.6,797.4 658.9,794.6 658.2,795.8 657.5,796.4 656.8,795.6 656.1,794.5 655.4,795.9 654.7,795.2 654.0,795.8 653.3,798.0 652.6,795.4 651.9,796.3 651.2,795.5 650.5,795.3 649.8,794.3 649.1,795.7 648.4,796.8 647.7,796.9 647.0,797.1 646.3,795.2 645.6,795.4 644.9,797.4 644.2,795.5 643.5,796.0 642.8,794.2 642.1,795.1 641.4,795.5 640.7,796.4 640.0,797.2 639.3,794.7 638.6,795.4 637.9,796.7 637.2,794.4 636.5,796.4 635.8,797.4 635.1,797.4 634.4,794.7 633.7,794.8 633.0,795.9 632.3,794.4 631.6,799.4 630.9,795.0 630.2,797.3 629.5,796.5 628.8,794.5 628.1,799.4 627.4,797.2 626.7,794.5 626.0,796.8 625.3,794.5 624.6,794.6 623.9,795.1 623.2,796.1 622.5,796.9 621.8,796.1 621.1,796.2 620.4,794.7 619.7,795.9 619.0,795.4 618.3,795.8 617.6,795.7 616.9,794.6 616.2,797.2 615.5,794.8 614.8,795.9 614.1,797.4 613.4,794.4 612.7,796.3 612.0,794.3 611.3,796.6 610.6,797.9 609.9,795.8 609.2,795.2 608.5,795.7 607.8,796.2 607.1,794.5 606.4,794.7 605.7,796.1 605.0,796.6 604.3,794.7 603.6,796.7 602.9,794.5 602.2,796.5 601.5,796.0 600.8,796.5 600.1,796.0 599.4,796.1 598.7,797.3 598.0,794.7 597.3,794.5 596.6,797.0 595.9,798.5 595.2,794.7 594.5,795.9 593.8,797.6 593.1,794.5 592.4,795.8 591.7,796.5 591.0,795.6 590.3,796.4 589.6,801.3 588.9,797.5 588.2,795.1 587.5,796.0 586.8,794.8 586.1,795.2 585.4,797.4 584.7,795.6 584.0,795.9 583.3,795.7 582.6,797.1 581.9,794.9 581.2,796.6 580.5,795.5 579.8,796.3 579.1,797.1 578.4,794.7 577.7,794.3 577.0,795.1 576.3,796.1 575.6,797.3 574.9,796.3 574.2,799.3 573.5,795.3 572.8,796.5 572.1,794.8 571.4,794.5 570.7,795.4 570.0,794.9 569.3,797.0 568.6,796.4 567.9,796.8 567.2,795.0 566.5,797.2 565.8,797.0 565.1,796.0 564.4,797.4 563.7,797.0 563.0,796.6 562.3,794.9 561.6,797.4 560.9,794.6 560.2,795.7 559.5,796.7 558.8,797.2 558.1,795.5 557.4,796.3 556.7,795.1 556.0,796.3 555.3,796.1 554.6,796.5 553.9,796.2 553.2,794.8 552.5,798.0 551.8,797.3 551.1,795.1 550.4,797.0 549.7,797.3 549.0,796.1 548.3,797.3 547.6,794.9 546.9,796.9 546.2,796.9 545.5,794.5 544.8,796.5 544.1,795.7 543.4,797.4 542.7,799.6 542.0,796.7 541.3,794.6 540.6,796.4 539.9,797.2 539.2,795.9 538.5,795.9 537.8,794.7 537.1,797.0 536.4,794.3 535.7,796.9 535.0,798.1 534.3,796.8 533.6,795.9 532.9,794.5 532.2,796.0 531.5,794.9 530.8,794.5 530.1,797.0 529.4,797.1 528.7,796.7 528.0,797.2 527.3,794.9 526.6,796.1 525.9,796.5 525.2,797.2 524.5,794.2 523.8,795.9 523.1,794.9 522.4,794.4 521.7,796.2 521.0,795.9 520.3,797.2 519.6,795.9 518.9,795.6 518.2,795.8 517.5,796.0 516.8,796.2 516.1,796.7 515.4,794.8 514.7,796.5 514.0,795.7 513.3,797.3 512.6,795.3 511.9,795.4 511.2,796.4 510.5,796.6 509.8,795.2 509.1,796.0 508.4,796.2 507.7,795.7 507.0,794.6 506.3,797.4 505.6,796.4 504.9,797.1 504.2,796.0 503.5,796.9 502.8,797.2 502.1,796.5 501.4,795.1 500.7,794.6 500.0,794.3 499.3,796.8 498.6,794.4 497.9,796.8 497.2,796.4 496.5,794.2 495.8,796.1 495.1,795.2 494.4,794.2 493.7,796.5 493.0,795.1 492.3,795.5 491.6,795.5 490.9,794.8 490.2,796.8 489.5,796.4 488.8,797.2 488.1,794.6 487.4,794.7 486.7,794.8 486.0,796.4 485.3,796.1 484.6,794.3 483.9,795.8 483.2,796.3 482.5,794.5 481.8,796.1 481.1,795.3 480.4,799.1 479.7,794.7 479.0,794.8 478.3,794.8 477.6,799.3 476.9,794.7 476.2,797.2 475.5,794.4 474.8,796.9 474.1,795.3 473.4,795.4 472.7,795.2 472.0,794.6 471.3,797.3 470.6,797.0 469.9,797.1 469.2,796.3 468.5,794.3 467.8,796.3 467.1,795.2 466.4,795.1 465.7,795.1 465.0,796.1 464.3,794.8 463.6,797.1 462.9,794.9 462.2,796.8 461.5,795.6 460.8,799.0 460.1,794.2 459.4,795.7 458.7,796.4 458.0,796.8 457.3,796.4 456.6,796.0 455.9,797.0 455.2,794.9 454.5,796.8 453.8,797.4 453.1,797.3 452.4,795.9 451.7,796.5 451.0,795.6 450.3,795.0 449.6,796.9 448.9,794.8 448.2,796.4 447.5,796.7 446.8,795.8 446.1,795.3 445.4,795.2 444.7,796.2 444.0,796.4 443.3,795.1 442.6,795.5 441.9,795.0 441.2,794.8 440.5,795.0 439.8,795.2 439.1,794.4 438.4,795.9 437.7,794.6 437.0,794.3 436.3,798.7 435.6,796.9 434.9,796.0 434.2,795.9 433.5,796.9 432.8,797.2 432.1,795.7 431.4,794.3 430.7,795.2 430.0,797.2 429.3,796.9 428.6,797.3 427.9,795.9 427.2,795.0 426.5,796.9 425.8,796.3 425.1,795.1 424.4,795.5 423.7,795.7 423.0,795.8 422.3,796.5 421.6,795.6 420.9,794.9 420.2,795.9 419.5,796.7 418.8,799.7 418.1,794.6 417.4,797.0 416.7,795.0 416.0,799.6 415.3,795.8 414.6,796.7 413.9,796.2 413.2,795.2 412.5,796.8 411.8,797.0 411.1,797.1 410.4,796.8 409.7,795.0 409.0,797.1 408.3,796.9 407.6,797.4 406.9,796.0 406.2,796.8 405.5,795.8 404.8,794.9 404.1,794.6 403.4,796.4 402.7,794.4 402.0,794.2 401.3,797.0 400.6,795.1 399.9,795.5 399.2,794.7 398.5,796.7 397.8,796.8 397.1,796.7 396.4,794.9 395.7,795.3 395.0,796.8 394.3,794.9 393.6,796.5 392.9,795.0 392.2,795.3 391.5,797.3 390.8,796.7 390.1,796.6 389.4,797.0 388.7,797.3 388.0,794.9 387.3,794.3 386.6,794.3 385.9,797.3 385.2,795.9 384.5,796.1 383.8,795.1 383.1,794.8 382.4,795.4 381.7,794.8 381.0,800.1 380.3,799.0 379.6,796.6 378.9,797.3 378.2,794.8 377.5,794.3 376.8,794.8 376.1,796.4 375.4,795.2 374.7,795.0 374.0,795.1 373.3,797.1 372.6,796.5 371.9,796.9 371.2,796.9 370.5,796.4 369.8,795.5 369.1,795.0 368.4,794.6 367.7,794.9 367.0,794.3 366.3,796.3 365.6,797.1 364.9,796.3 364.2,794.6 363.5,796.7 362.8,795.0 362.1,797.3 361.4,796.2 360.7,794.4 360.0,795.7 359.3,796.5 358.6,795.3 357.9,796.4 357.2,795.1 356.5,796.6 355.8,796.9 355.1,795.3 354.4,795.9 353.7,797.0 353.0,794.7 352.3,796.9 351.6,796.8 350.9,795.0 350.2,799.3 349.5,796.8 348.8,796.1 348.1,795.9 347.4,795.8 346.7,797.1 346.0,797.1 345.3,795.4 344.6,794.6 343.9,794.2 343.2,795.0 342.5,795.0 341.8,795.0 341.1,795.5 340.4,796.8 339.7,794.7 339.0,796.8 338.3,796.5 337.6,797.1 336.9,795.5 336.2,794.4 335.5,796.5 334.8,795.1 334.1,795.8 333.4,796.6 332.7,794.5 332.0,797.3 331.3,799.2 330.6,795.6 329.9,795.0 329.2,794.4 328.5,795.3 327.8,796.9 327.1,795.6 326.4,797.2 325.7,796.1 325.0,796.3 324.3,795.5 323.6,799.6 322.9,795.7 322.2,795.1 321.5,794.3 320.8,794.9 320.1,798.3 319.4,798.5 318.7,797.2 318.0,794.3 317.3,796.9 316.6,796.4 315.9,797.0 315.2,794.9 314.5,796.5 313.8,795.6 313.1,796.5 312.4,796.8 311.7,797.1 311.0,794.6 310.3,797.0 309.6,795.5 308.9,794.2 308.2,796.3 307.5,795.9 306.8,794.6 306.1,796.5 305.4,795.9 304.7,794.6 304.0,795.4 303.3,795.3 302.6,794.5 301.9,794.9 301.2,797.3 300.5,795.6 299.8,796.4 299.1,795.5 298.4,795.7 297.7,797.0 297.0,795.3 296.3,795.8 295.6,795.0 294.9,796.6 294.2,794.4 293.5,794.3 292.8,797.2 292.1,795.8 291.4,796.8 290.7,796.1 290.0,796.2 289.3,794.8 288.6,796.8 287.9,796.5 287.2,796.6 286.5,797.3 285.8,796.7 285.1,794.5 284.4,795.6 283.7,794.2 283.0,796.8 282.3,796.7 281.6,795.0 280.9,795.3 280.2,795.6 279.5,796.8 278.8,794.8 278.1,795.4 277.4,795.6 276.7,797.1 276.0,795.3 275.3,797.2 274.6,796.2 273.9,795.2 273.2,799.0 272.5,798.2 271.8,796.0 271.1,797.1 270.4,795.1 269.7,794.9 269.0,795.5 268.3,794.5 267.6,794.6 266.9,797.2 266.2,796.3 265.5,794.3 264.8,796.3 264.1,795.0 263.4,794.8 262.7,797.3 262.0,796.1 261.3,796.3 260.6,795.7 259.9,796.4 259.2,795.1 258.5,794.4 257.8,795.5 257.1,794.5 256.4,794.9 255.7,796.7 255.0,797.2 254.3,794.3 253.6,795.0 252.9,796.7 252.2,796.6 251.5,794.3 250.8,794.8 250.1,796.8 249.4,795.9 248.7,795.2 248.0,794.5 247.3,795.4 246.6,796.3 245.9,797.2 245.2,796.1 244.5,795.4 243.8,795.9 243.1,796.7 242.4,797.3 241.7,796.9 241.0,795.7 240.3,796.5 239.6,794.9 238.9,795.0 238.2,796.4 237.5,795.6 236.8,797.3 236.1,796.5 235.4,797.0 234.7,795.6 234.0,795.5 233.3,795.1 232.6,797.1 231.9,797.1 231.2,796.9 230.5,797.0 229.8,796.1 229.1,795.4 228.4,795.2 227.7,796.0 227.0,795.5 226.3,794.3 225.6,796.4 224.9,795.5 224.2,796.0 223.5,794.9 222.8,794.3 222.1,797.1 221.4,794.7 220.7,796.1 220.0,796.7 219.3,796.1 218.6,794.6 217.9,795.2 217.2,796.1 216.5,795.0 215.8,794.5 215.1,795.5 214.4,796.2 213.7,795.9 213.0,796.9 212.3,796.9 211.6,795.0 210.9,796.9 210.2,799.7 209.5,797.0 208.8,794.7 208.1,795.4 207.4,795.7 206.7,794.8 206.0,796.1 205.3,795.9 204.6,797.6 203.9,795.5 203.2,797.2 202.5,794.3 201.8,796.5 201.1,797.4 200.4,794.8 199.7,795.6 199.0,796.4 198.3,796.2 197.6,797.2 196.9,796.3 196.2,794.7 195.5,796.6 194.8,794.4 194.1,795.2 193.4,794.3 192.7,796.5 192.0,797.2 191.3,796.0 190.6,796.1 189.9,796.6 189.2,796.7 188.5,796.9 187.8,794.3 187.1,796.2 186.4,798.4 185.7,796.0 185.0,795.5 184.3,795.9 183.6,795.2 182.9,796.8 182.2,796.3 181.5,795.2 180.8,796.6 180.1,796.0 179.4,798.9 178.7,795.7 178.0,794.9 177.3,797.3 176.6,795.8 175.9,797.4 175.2,794.6 174.5,795.8 173.8,794.4 173.1,796.3 172.4,796.5 171.7,798.7 171.0,795.6 170.3,794.7 169.6,794.7 168.9,797.2 168.2,795.4 167.5,796.6 166.8,795.9 166.1,794.3 165.4,795.8 164.7,794.2 164.0,794.8 163.3,795.9 162.6,796.2 161.9,799.2 161.2,794.3 160.5,795.1 159.8,796.3 159.1,795.2 158.4,797.9 157.7,794.2 157.0,796.1 156.3,795.5 155.6,796.1 154.9,799.1 154.2,795.4 153.5,796.7 152.8,796.6 152.1,796.9 151.4,796.8 150.7,795.3 150.0,797.1 149.3,796.4 148.6,795.7 147.9,797.2 147.2,795.3 146.5,795.5 145.8,796.2 145.1,795.3 144.4,797.0 143.7,796.2 143.0,795.8 142.3,794.5 141.6,796.3 140.9,795.4 140.2,797.0 139.5,794.2 138.8,797.0 138.1,795.6 137.4,796.8 136.7,796.5 136.0,795.2 135.3,794.6 134.6,796.4 133.9,796.0 133.2,796.6 132.5,795.2 131.8,795.9 131.1,797.0 130.4,795.4 129.7,795.8 129.0,795.8 128.3,795.5 127.6,797.0 126.9,795.6 126.2,796.8 125.5,800.8 124.8,795.5 124.1,796.3 123.4,795.9 122.7,797.4 122.0,796.9 121.3,796.1 120.6,795.3 119.9,796.8 119.2,794.4 118.5,795.9 117.8,796.8 117.1,796.7 116.4,797.3 115.7,796.8 115.0,796.6 114.3,794.7 113.6,795.2 112.9,795.9 112.2,798.9 111.5,795.7 110.8,796.6 110.1,796.1 109.4,794.4 108.7,794.6 108.0,796.9 107.3,795.2 106.6,796.6 105.9,795.5 105.2,795.6 104.5,797.2 103.8,795.7 103.1,796.2 102.4,794.5 101.7,794.5 101.0,794.7 100.3,794.5 99.6,795.7 98.9,797.4 98.2,796.6 97.5,797.1 96.8,797.4 96.1,796.9 95.4,796.3 94.7,795.9 94.0,796.0 93.3,797.2 92.6,797.2 91.9,794.5 91.2,796.8 90.5,796.3 89.8,799.7 89.1,794.8 88.4,795.5 87.7,794.4 87.0,796.4 86.3,796.4 85.6,796.0 84.9,795.1 84.2,797.5 83.5,797.2 82.8,795.6 82.1,795.2 81.4,794.3 80.7,795.8 80.0,797.1" fill="#0a6cf0" stroke="none"/>
<polyline points="83.9,789.2 84.5,765 84.8,814.3 85.4,789.2" fill="none" stroke="#0a6cf0" stroke-width="1"/>
<polyline points="432.0,789.2 432.6,757.5 432.9,800 433.5,789.2" fill="none" stroke="#0a6cf0" stroke-width="1"/>
<polyline points="625.9,789.2 626.5,768.5 626.8,809.5 627.4,789.2" fill="none" stroke="#0a6cf0" stroke-width="1"/>
<polyline points="665.9,789.2 666.5,761 666.8,802.5 667.4,789.2" fill="none" stroke="#0a6cf0" stroke-width="1"/>
<polyline points="671.4,789.2 672.0,760 672.3,821 672.9,789.2" fill="none" stroke="#0a6cf0" stroke-width="1"/>
<polyline points="432.4,782 432.7,757.5 433.3,765 434.2,772 435.5,777 437,780 439,782" fill="none" stroke="#0a6cf0" stroke-width="1.6"/>
<polyline points="432.4,797 432.7,812 433.3,806 434.5,800 436,797" fill="none" stroke="#0a6cf0" stroke-width="1.4"/>
<polygon points="80.0,783.3 80.7,783.8 81.4,782.9 82.1,785.1 82.8,783.3 83.5,784.2 84.2,784.7 84.9,783.5 85.6,783.3 86.3,783.8 87.0,784.8 87.7,783.7 88.4,783.9 89.1,785.0 89.8,783.5 90.5,784.2 91.2,783.3 91.9,783.7 92.6,785.1 93.3,782.5 94.0,783.7 94.7,785.2 95.4,785.2 96.1,785.3 96.8,784.0 97.5,784.8 98.2,784.5 98.9,782.2 99.6,784.6 100.3,784.8 101.0,785.5 101.7,783.7 102.4,784.0 103.1,784.5 103.8,784.0 104.5,785.3 105.2,784.0 105.9,784.9 106.6,783.2 107.3,783.4 108.0,785.2 108.7,785.5 109.4,785.5 110.1,784.6 110.8,783.2 111.5,784.3 112.2,783.2 112.9,784.0 113.6,783.2 114.3,784.1 115.0,784.5 115.7,784.4 116.4,785.5 117.1,783.7 117.8,783.3 118.5,785.2 119.2,785.4 119.9,785.0 120.6,784.8 121.3,784.3 122.0,785.0 122.7,783.9 123.4,784.8 124.1,784.3 124.8,784.6 125.5,784.0 126.2,784.5 126.9,784.2 127.6,783.2 128.3,784.9 129.0,784.2 129.7,783.4 130.4,784.9 131.1,783.8 131.8,783.3 132.5,785.6 133.2,784.3 133.9,785.6 134.6,784.6 135.3,783.9 136.0,783.4 136.7,785.3 137.4,784.8 138.1,783.9 138.8,783.3 139.5,783.4 140.2,783.8 140.9,785.3 141.6,784.3 142.3,784.3 143.0,785.3 143.7,783.9 144.4,783.4 145.1,785.5 145.8,783.5 146.5,783.3 147.2,785.3 147.9,785.4 148.6,784.5 149.3,784.6 150.0,785.1 150.7,784.4 151.4,783.9 152.1,783.6 152.8,785.3 153.5,783.7 154.2,783.2 154.9,785.0 155.6,784.7 156.3,785.6 157.0,784.5 157.7,785.5 158.4,784.8 159.1,784.3 159.8,784.7 160.5,783.8 161.2,784.7 161.9,785.4 162.6,784.5 163.3,784.7 164.0,785.0 164.7,784.1 165.4,784.9 166.1,783.7 166.8,783.9 167.5,784.7 168.2,784.9 168.9,783.7 169.6,783.5 170.3,785.5 171.0,785.5 171.7,784.2 172.4,783.5 173.1,784.9 173.8,784.1 174.5,781.4 175.2,785.6 175.9,784.3 176.6,783.6 177.3,784.5 178.0,783.8 178.7,785.0 179.4,784.6 180.1,784.8 180.8,784.9 181.5,783.8 182.2,785.2 182.9,785.4 183.6,784.3 184.3,785.0 185.0,785.3 185.7,784.4 186.4,783.2 187.1,784.6 187.8,785.5 188.5,784.7 189.2,785.6 189.9,785.0 190.6,784.5 191.3,783.9 192.0,784.5 192.7,784.5 193.4,784.2 194.1,784.2 194.8,783.4 195.5,784.2 196.2,783.3 196.9,784.1 197.6,783.3 198.3,784.6 199.0,784.4 199.7,784.6 200.4,783.7 201.1,783.3 201.8,783.5 202.5,784.9 203.2,783.9 203.9,784.8 204.6,785.3 205.3,784.1 206.0,783.9 206.7,784.9 207.4,785.3 208.1,782.9 208.8,783.3 209.5,785.0 210.2,784.2 210.9,785.0 211.6,784.5 212.3,784.1 213.0,784.9 213.7,784.6 214.4,783.4 215.1,783.3 215.8,783.4 216.5,783.4 217.2,783.3 217.9,784.0 218.6,784.5 219.3,784.5 220.0,784.9 220.7,783.9 221.4,783.7 222.1,785.3 222.8,784.8 223.5,784.7 224.2,784.0 224.9,784.6 225.6,784.3 226.3,783.5 227.0,784.4 227.7,783.6 228.4,785.0 229.1,785.2 229.8,785.5 230.5,783.4 231.2,784.9 231.9,783.9 232.6,784.9 233.3,785.3 234.0,783.7 234.7,784.6 235.4,784.3 236.1,783.7 236.8,783.4 237.5,784.4 238.2,784.5 238.9,784.6 239.6,785.0 240.3,785.0 241.0,783.8 241.7,784.9 242.4,784.1 243.1,785.1 243.8,783.5 244.5,785.6 245.2,784.4 245.9,784.9 246.6,784.5 247.3,783.2 248.0,784.0 248.7,785.4 249.4,783.9 250.1,783.6 250.8,784.7 251.5,785.2 252.2,783.3 252.9,784.2 253.6,783.5 254.3,785.4 255.0,783.6 255.7,784.3 256.4,784.4 257.1,785.0 257.8,785.2 258.5,783.5 259.2,784.0 259.9,784.3 260.6,785.4 261.3,785.5 262.0,784.8 262.7,784.8 263.4,784.9 264.1,785.1 264.8,783.9 265.5,783.5 266.2,785.6 266.9,783.3 267.6,785.3 268.3,785.5 269.0,783.7 269.7,784.1 270.4,785.2 271.1,783.4 271.8,785.3 272.5,785.3 273.2,783.5 273.9,784.3 274.6,785.0 275.3,782.8 276.0,783.2 276.7,783.2 277.4,784.9 278.1,784.7 278.8,783.7 279.5,784.0 280.2,785.1 280.9,785.0 281.6,785.0 282.3,785.1 283.0,784.2 283.7,783.2 284.4,783.3 285.1,784.3 285.8,783.4 286.5,784.5 287.2,784.8 287.9,784.9 288.6,783.8 289.3,783.7 290.0,783.6 290.7,785.3 291.4,783.5 292.1,784.2 292.8,785.1 293.5,785.1 294.2,785.2 294.9,783.5 295.6,785.2 296.3,784.9 297.0,785.4 297.7,783.8 298.4,782.7 299.1,784.5 299.8,785.5 300.5,785.6 301.2,784.2 301.9,785.0 302.6,784.7 303.3,783.8 304.0,785.2 304.7,785.5 305.4,785.1 306.1,783.8 306.8,783.5 307.5,783.9 308.2,785.2 308.9,785.2 309.6,784.1 310.3,785.0 311.0,784.0 311.7,785.5 312.4,785.3 313.1,784.0 313.8,785.5 314.5,783.5 315.2,785.5 315.9,785.4 316.6,784.6 317.3,784.8 318.0,784.2 318.7,784.3 319.4,784.6 320.1,785.2 320.8,785.3 321.5,784.1 322.2,785.6 322.9,783.3 323.6,784.5 324.3,783.8 325.0,785.4 325.7,784.0 326.4,783.6 327.1,784.6 327.8,783.2 328.5,785.0 329.2,783.3 329.9,783.6 330.6,785.3 331.3,784.0 332.0,783.8 332.7,783.9 333.4,784.8 334.1,784.1 334.8,784.5 335.5,784.7 336.2,783.6 336.9,783.9 337.6,784.8 338.3,783.8 339.0,783.4 339.7,785.4 340.4,783.3 341.1,783.5 341.8,785.5 342.5,784.4 343.2,785.2 343.9,783.4 344.6,784.6 345.3,785.2 346.0,783.9 346.7,785.0 347.4,784.1 348.1,783.3 348.8,784.5 349.5,784.4 350.2,783.2 350.9,784.1 351.6,785.0 352.3,784.4 353.0,784.8 353.7,784.3 354.4,785.6 355.1,784.8 355.8,784.1 356.5,784.3 357.2,784.1 357.9,784.0 358.6,784.1 359.3,784.0 360.0,784.3 360.7,784.6 361.4,785.2 362.1,785.2 362.8,784.8 363.5,785.3 364.2,783.8 364.9,784.2 365.6,784.5 366.3,783.4 367.0,783.8 367.7,782.7 368.4,784.4 369.1,785.0 369.8,784.0 370.5,784.7 371.2,785.6 371.9,785.1 372.6,783.9 373.3,783.6 374.0,783.7 374.7,784.6 375.4,785.1 376.1,784.4 376.8,784.1 377.5,783.4 378.2,784.6 378.9,785.3 379.6,783.5 380.3,784.4 381.0,781.2 381.7,785.4 382.4,783.8 383.1,785.1 383.8,785.6 384.5,785.4 385.2,785.0 385.9,785.5 386.6,783.4 387.3,785.5 388.0,784.9 388.7,784.9 389.4,785.3 390.1,783.6 390.8,785.1 391.5,784.2 392.2,783.9 392.9,783.7 393.6,784.1 394.3,784.1 395.0,784.1 395.7,784.0 396.4,785.1 397.1,785.5 397.8,785.0 398.5,785.3 399.2,784.8 399.9,783.2 400.6,783.4 401.3,784.9 402.0,784.4 402.7,784.9 403.4,784.6 404.1,784.8 404.8,783.5 405.5,783.3 406.2,785.6 406.9,784.6 407.6,784.2 408.3,785.2 409.0,784.8 409.7,783.5 410.4,783.7 411.1,783.6 411.8,784.4 412.5,784.3 413.2,784.1 413.9,784.7 414.6,785.3 415.3,784.2 416.0,784.1 416.7,783.2 417.4,785.5 418.1,784.3 418.8,785.0 419.5,784.5 420.2,783.8 420.9,783.8 421.6,783.5 422.3,783.6 423.0,783.7 423.7,784.9 424.4,785.2 425.1,784.3 425.8,783.5 426.5,785.6 427.2,783.7 427.9,783.5 428.6,784.1 429.3,785.3 430.0,784.5 430.7,784.9 431.4,784.2 432.1,783.6 432.8,784.9 433.5,783.8 434.2,785.3 434.9,783.2 435.6,783.7 436.3,784.8 437.0,784.9 437.7,783.4 438.4,784.7 439.1,784.4 439.8,784.4 440.5,783.7 441.2,785.4 441.9,785.5 442.6,783.6 443.3,783.8 444.0,785.5 444.7,784.8 445.4,785.3 446.1,783.9 446.8,783.6 447.5,783.3 448.2,784.2 448.9,784.4 449.6,783.6 450.3,784.0 451.0,783.2 451.7,783.4 452.4,784.8 453.1,783.6 453.8,783.6 454.5,784.5 455.2,783.2 455.9,782.0 456.6,784.1 457.3,785.5 458.0,783.6 458.7,785.4 459.4,784.7 460.1,783.9 460.8,784.6 461.5,784.8 462.2,783.9 462.9,783.8 463.6,783.4 464.3,785.0 465.0,783.7 465.7,785.0 466.4,784.3 467.1,783.4 467.8,784.6 468.5,783.5 469.2,784.5 469.9,784.6 470.6,783.4 471.3,785.0 472.0,784.0 472.7,785.4 473.4,783.8 474.1,784.4 474.8,784.0 475.5,783.5 476.2,783.6 476.9,785.1 477.6,784.6 478.3,784.2 479.0,785.1 479.7,783.8 480.4,785.1 481.1,784.3 481.8,784.5 482.5,784.9 483.2,783.8 483.9,785.2 484.6,785.2 485.3,783.4 486.0,785.0 486.7,783.9 487.4,784.3 488.1,784.9 488.8,785.1 489.5,783.3 490.2,783.8 490.9,784.7 491.6,785.3 492.3,783.9 493.0,785.2 493.7,784.2 494.4,781.3 495.1,784.7 495.8,785.5 496.5,784.8 497.2,785.0 497.9,783.5 498.6,784.8 499.3,784.8 500.0,785.2 500.7,784.3 501.4,784.7 502.1,785.2 502.8,785.6 503.5,785.0 504.2,785.4 504.9,783.3 505.6,784.1 506.3,785.1 507.0,783.9 507.7,783.7 508.4,785.5 509.1,785.3 509.8,783.8 510.5,785.3 511.2,785.5 511.9,784.4 512.6,784.8 513.3,784.1 514.0,783.3 514.7,785.0 515.4,783.3 516.1,785.5 516.8,785.2 517.5,784.8 518.2,784.1 518.9,784.3 519.6,784.6 520.3,785.4 521.0,785.1 521.7,784.6 522.4,784.7 523.1,784.7 523.8,783.6 524.5,785.6 525.2,784.7 525.9,784.9 526.6,785.1 527.3,785.3 528.0,783.8 528.7,783.9 529.4,783.7 530.1,784.4 530.8,783.3 531.5,784.0 532.2,784.7 532.9,783.5 533.6,785.5 534.3,785.3 535.0,784.4 535.7,783.3 536.4,784.5 537.1,783.7 537.8,782.3 538.5,785.2 539.2,783.8 539.9,783.2 540.6,784.5 541.3,785.1 542.0,785.6 542.7,784.1 543.4,782.9 544.1,785.4 544.8,784.3 545.5,784.9 546.2,785.1 546.9,782.3 547.6,784.0 548.3,785.2 549.0,783.3 549.7,785.2 550.4,784.1 551.1,783.5 551.8,783.3 552.5,783.5 553.2,785.1 553.9,785.4 554.6,783.2 555.3,783.3 556.0,783.4 556.7,783.9 557.4,783.6 558.1,785.3 558.8,783.5 559.5,783.7 560.2,783.8 560.9,783.5 561.6,783.9 562.3,783.8 563.0,784.4 563.7,785.1 564.4,785.2 565.1,784.9 565.8,783.3 566.5,784.6 567.2,783.3 567.9,783.2 568.6,784.3 569.3,784.6 570.0,784.1 570.7,784.0 571.4,781.0 572.1,784.3 572.8,785.5 573.5,783.7 574.2,783.8 574.9,783.6 575.6,784.2 576.3,784.3 577.0,784.4 577.7,782.0 578.4,783.8 579.1,784.0 579.8,785.3 580.5,784.7 581.2,784.3 581.9,783.6 582.6,783.6 583.3,783.7 584.0,783.4 584.7,784.8 585.4,784.8 586.1,785.5 586.8,783.7 587.5,783.8 588.2,784.7 588.9,783.7 589.6,785.5 590.3,784.4 591.0,785.5 591.7,784.2 592.4,784.0 593.1,783.3 593.8,785.1 594.5,784.7 595.2,785.0 595.9,784.8 596.6,785.2 597.3,785.4 598.0,784.8 598.7,783.6 599.4,782.6 600.1,784.1 600.8,784.6 601.5,783.3 602.2,785.1 602.9,785.0 603.6,785.4 604.3,783.7 605.0,785.3 605.7,783.5 606.4,784.9 607.1,785.5 607.8,784.7 608.5,784.3 609.2,785.5 609.9,784.6 610.6,785.2 611.3,784.4 612.0,783.3 612.7,782.9 613.4,784.7 614.1,783.7 614.8,784.7 615.5,783.7 616.2,785.5 616.9,785.4 617.6,784.6 618.3,785.2 619.0,784.1 619.7,783.3 620.4,785.0 621.1,784.5 621.8,783.8 622.5,784.6 623.2,783.4 623.9,783.7 624.6,785.0 625.3,784.0 626.0,785.0 626.7,784.0 627.4,783.6 628.1,783.8 628.8,785.2 629.5,783.4 630.2,783.9 630.9,783.9 631.6,784.4 632.3,783.8 633.0,783.3 633.7,785.2 634.4,784.3 635.1,784.4 635.8,783.9 636.5,785.1 637.2,783.6 637.9,783.4 638.6,783.3 639.3,785.4 640.0,783.7 640.7,784.8 641.4,785.1 642.1,783.4 642.8,785.1 643.5,783.8 644.2,784.1 644.9,784.9 645.6,783.4 646.3,785.4 647.0,784.7 647.7,785.1 648.4,785.0 649.1,783.3 649.8,785.4 650.5,784.6 651.2,783.8 651.9,785.5 652.6,784.8 653.3,784.9 654.0,783.5 654.7,783.5 655.4,785.5 656.1,783.8 656.8,785.5 657.5,783.8 658.2,784.0 658.9,784.8 659.6,783.9 660.3,785.5 661.0,783.5 661.7,784.0 662.4,784.0 663.1,783.9 663.8,783.6 664.5,784.8 665.2,784.6 665.9,785.5 666.6,784.0 667.3,783.2 668.0,784.1 668.7,784.8 669.4,783.9 670.1,783.6 670.8,785.6 671.5,783.2 672.2,783.9 672.9,785.2 673.6,783.5 674.3,784.4 675.0,783.8 675.7,783.4 676.4,785.1 677.1,784.0 677.8,785.1 678.5,784.4 679.2,783.3 679.9,783.5 680.6,784.2 681.3,784.4 682.0,783.3 682.7,783.2 683.4,785.0 684.1,783.3 684.8,783.7 685.5,785.4 686.2,785.6 686.9,785.4 687.6,784.5 688.3,785.5 689.0,784.7 689.7,785.0 690.4,783.9 691.1,783.9 691.8,785.2 692.5,783.5 693.2,784.9 693.9,785.0 694.6,785.0 695.3,784.9 696.0,784.8 696.7,785.3 697.4,783.4 698.1,784.9 698.8,784.5 699.5,784.6 700.2,785.2 700.9,783.6 701.6,785.5 702.3,783.8 703.0,784.1 703.7,784.9 704.4,783.7 705.1,784.7 705.8,783.3 706.5,783.7 707.2,783.4 707.9,785.3 708.6,785.6 709.3,783.6 710.0,784.4 710.7,784.4 711.4,783.4 712.1,783.4 712.8,784.3 713.5,783.6 714.2,783.4 714.9,783.4 715.6,783.5 716.3,785.0 717.0,783.6 717.7,781.6 718.4,784.8 718.4,795.1 717.7,792.9 717.0,793.9 716.3,794.3 715.6,795.1 714.9,793.0 714.2,794.0 713.5,795.6 712.8,794.2 712.1,793.6 711.4,797.2 710.7,793.8 710.0,793.7 709.3,793.6 708.6,794.2 707.9,793.7 707.2,794.7 706.5,794.8 705.8,794.9 705.1,795.1 704.4,793.3 703.7,793.5 703.0,793.8 702.3,793.0 701.6,793.3 700.9,793.4 700.2,793.0 699.5,793.7 698.8,793.8 698.1,794.5 697.4,793.3 696.7,793.2 696.0,794.0 695.3,794.9 694.6,793.0 693.9,793.3 693.2,794.1 692.5,794.3 691.8,794.4 691.1,793.7 690.4,794.4 689.7,795.1 689.0,793.5 688.3,793.6 687.6,793.6 686.9,793.8 686.2,793.7 685.5,794.5 684.8,793.4 684.1,794.2 683.4,794.7 682.7,793.9 682.0,793.0 681.3,794.7 680.6,794.2 679.9,793.9 679.2,793.6 678.5,792.9 677.8,794.8 677.1,794.4 676.4,793.2 675.7,796.0 675.0,794.9 674.3,793.4 673.6,793.9 672.9,794.8 672.2,792.8 671.5,793.3 670.8,793.3 670.1,794.8 669.4,793.2 668.7,793.6 668.0,793.7 667.3,792.8 666.6,794.7 665.9,793.4 665.2,793.7 664.5,793.7 663.8,795.0 663.1,793.9 662.4,794.6 661.7,794.7 661.0,793.4 660.3,792.9 659.6,794.1 658.9,794.0 658.2,793.8 657.5,793.1 656.8,794.8 656.1,794.7 655.4,795.1 654.7,794.8 654.0,793.9 653.3,794.4 652.6,793.8 651.9,793.6 651.2,794.7 650.5,794.9 649.8,793.0 649.1,794.5 648.4,795.0 647.7,795.0 647.0,793.4 646.3,792.9 645.6,794.7 644.9,793.1 644.2,793.3 643.5,793.8 642.8,794.2 642.1,792.9 641.4,795.1 640.7,795.0 640.0,794.0 639.3,793.5 638.6,794.8 637.9,794.9 637.2,794.2 636.5,793.2 635.8,795.0 635.1,793.0 634.4,793.8 633.7,793.2 633.0,792.9 632.3,794.2 631.6,794.0 630.9,793.6 630.2,793.3 629.5,793.6 628.8,793.1 628.1,794.1 627.4,793.4 626.7,794.8 626.0,794.9 625.3,796.7 624.6,794.7 623.9,794.8 623.2,794.6 622.5,794.8 621.8,794.3 621.1,793.4 620.4,793.2 619.7,795.9 619.0,794.1 618.3,793.6 617.6,795.0 616.9,794.0 616.2,794.1 615.5,793.8 614.8,792.8 614.1,794.1 613.4,794.3 612.7,793.0 612.0,794.0 611.3,794.6 610.6,794.7 609.9,794.9 609.2,793.5 608.5,793.6 607.8,793.1 607.1,793.3 606.4,794.0 605.7,794.0 605.0,793.5 604.3,794.3 603.6,794.8 602.9,794.1 602.2,795.0 601.5,794.3 600.8,794.1 600.1,794.6 599.4,793.4 598.7,793.4 598.0,794.4 597.3,794.9 596.6,793.5 595.9,794.0 595.2,794.4 594.5,794.0 593.8,795.1 593.1,793.6 592.4,794.1 591.7,793.3 591.0,794.0 590.3,795.0 589.6,794.8 588.9,793.8 588.2,794.0 587.5,793.8 586.8,794.0 586.1,793.7 585.4,794.2 584.7,794.9 584.0,793.7 583.3,794.4 582.6,793.0 581.9,793.3 581.2,793.0 580.5,794.6 579.8,793.5 579.1,795.1 578.4,795.1 577.7,793.7 577.0,793.2 576.3,793.6 575.6,793.5 574.9,794.0 574.2,792.9 573.5,793.2 572.8,794.9 572.1,795.0 571.4,793.1 570.7,796.8 570.0,793.9 569.3,793.3 568.6,794.9 567.9,794.5 567.2,795.1 566.5,793.2 565.8,794.5 565.1,795.1 564.4,793.5 563.7,795.0 563.0,793.1 562.3,794.2 561.6,793.0 560.9,794.6 560.2,794.7 559.5,795.1 558.8,793.4 558.1,794.0 557.4,794.9 556.7,795.2 556.0,794.0 555.3,794.2 554.6,795.2 553.9,793.9 553.2,792.9 552.5,794.0 551.8,794.9 551.1,794.5 550.4,793.5 549.7,792.9 549.0,795.0 548.3,793.1 547.6,793.0 546.9,794.2 546.2,794.5 545.5,793.4 544.8,795.1 544.1,793.9 543.4,794.2 542.7,793.6 542.0,795.1 541.3,794.1 540.6,794.7 539.9,792.9 539.2,793.6 538.5,794.2 537.8,794.0 537.1,793.5 536.4,794.3 535.7,793.6 535.0,794.5 534.3,794.7 533.6,794.7 532.9,793.2 532.2,794.7 531.5,794.7 530.8,793.2 530.1,795.6 529.4,794.3 528.7,793.1 528.0,792.8 527.3,794.9 526.6,797.3 525.9,793.1 525.2,793.8 524.5,793.7 523.8,794.1 523.1,794.2 522.4,793.4 521.7,793.3 521.0,794.4 520.3,795.0 519.6,794.2 518.9,793.7 518.2,793.6 517.5,793.0 516.8,793.7 516.1,793.9 515.4,794.7 514.7,795.7 514.0,795.1 513.3,794.3 512.6,795.2 511.9,794.5 511.2,795.0 510.5,794.1 509.8,793.2 509.1,793.8 508.4,795.0 507.7,794.7 507.0,794.2 506.3,793.3 505.6,794.8 504.9,794.9 504.2,792.9 503.5,794.6 502.8,793.6 502.1,793.9 501.4,793.5 500.7,793.9 500.0,793.9 499.3,794.4 498.6,793.1 497.9,795.2 497.2,794.8 496.5,794.8 495.8,794.0 495.1,795.0 494.4,793.1 493.7,794.6 493.0,794.2 492.3,793.3 491.6,793.0 490.9,793.2 490.2,795.0 489.5,794.4 488.8,794.0 488.1,793.8 487.4,795.3 486.7,792.9 486.0,794.3 485.3,794.7 484.6,795.2 483.9,795.1 483.2,794.8 482.5,794.6 481.8,795.0 481.1,793.1 480.4,796.2 479.7,793.4 479.0,794.0 478.3,794.6 477.6,794.0 476.9,793.3 476.2,794.0 475.5,794.4 474.8,794.3 474.1,793.1 473.4,795.0 472.7,795.2 472.0,793.5 471.3,794.8 470.6,793.5 469.9,794.4 469.2,792.8 468.5,793.4 467.8,795.0 467.1,794.6 466.4,794.5 465.7,795.1 465.0,793.8 464.3,793.0 463.6,794.4 462.9,793.8 462.2,793.3 461.5,794.1 460.8,793.9 460.1,794.2 459.4,794.8 458.7,794.6 458.0,794.1 457.3,793.6 456.6,793.1 455.9,792.9 455.2,793.6 454.5,793.7 453.8,793.9 453.1,793.1 452.4,793.0 451.7,793.8 451.0,793.1 450.3,794.3 449.6,795.0 448.9,796.4 448.2,793.7 447.5,795.1 446.8,793.3 446.1,793.4 445.4,793.8 444.7,794.9 444.0,793.9 443.3,794.1 442.6,794.4 441.9,793.2 441.2,794.0 440.5,793.6 439.8,793.1 439.1,794.4 438.4,794.4 437.7,794.9 437.0,794.7 436.3,794.1 435.6,795.0 434.9,794.6 434.2,794.7 433.5,795.0 432.8,793.2 432.1,794.9 431.4,793.8 430.7,794.0 430.0,793.6 429.3,793.9 428.6,794.9 427.9,793.2 427.2,794.8 426.5,796.5 425.8,794.1 425.1,792.9 424.4,794.7 423.7,794.4 423.0,794.5 422.3,795.0 421.6,794.6 420.9,794.7 420.2,794.7 419.5,793.1 418.8,793.9 418.1,793.4 417.4,793.0 416.7,794.2 416.0,795.1 415.3,793.9 414.6,793.5 413.9,795.5 413.2,794.8 412.5,793.6 411.8,794.2 411.1,794.6 410.4,794.9 409.7,793.5 409.0,794.3 408.3,792.9 407.6,793.3 406.9,795.0 406.2,795.2 405.5,794.2 404.8,793.9 404.1,793.3 403.4,793.1 402.7,793.5 402.0,793.9 401.3,793.4 400.6,793.9 399.9,796.0 399.2,793.4 398.5,794.1 397.8,794.8 397.1,794.0 396.4,794.5 395.7,793.6 395.0,794.1 394.3,794.7 393.6,793.0 392.9,793.4 392.2,793.4 391.5,794.9 390.8,793.7 390.1,794.2 389.4,795.7 388.7,793.9 388.0,793.6 387.3,792.9 386.6,793.2 385.9,794.1 385.2,794.3 384.5,793.7 383.8,793.4 383.1,794.1 382.4,793.6 381.7,793.9 381.0,794.2 380.3,797.9 379.6,794.7 378.9,793.5 378.2,794.8 377.5,793.8 376.8,794.0 376.1,794.0 375.4,792.9 374.7,794.9 374.0,794.6 373.3,794.2 372.6,793.0 371.9,794.1 371.2,795.1 370.5,794.9 369.8,794.5 369.1,793.0 368.4,794.9 367.7,794.8 367.0,793.5 366.3,793.3 365.6,793.9 364.9,792.9 364.2,794.1 363.5,793.7 362.8,794.8 362.1,794.7 361.4,793.4 360.7,795.0 360.0,795.1 359.3,793.5 358.6,794.6 357.9,795.1 357.2,793.2 356.5,792.9 355.8,794.5 355.1,792.9 354.4,794.0 353.7,796.0 353.0,794.2 352.3,793.6 351.6,795.2 350.9,794.2 350.2,794.2 349.5,793.9 348.8,793.6 348.1,794.1 347.4,794.2 346.7,793.3 346.0,795.0 345.3,794.5 344.6,793.6 343.9,794.6 343.2,794.7 342.5,793.9 341.8,795.0 341.1,794.7 340.4,793.6 339.7,793.2 339.0,794.9 338.3,794.5 337.6,794.8 336.9,796.9 336.2,795.2 335.5,794.8 334.8,794.9 334.1,795.0 333.4,793.1 332.7,793.2 332.0,795.3 331.3,794.9 330.6,794.7 329.9,794.7 329.2,793.2 328.5,794.2 327.8,793.1 327.1,795.1 326.4,793.7 325.7,793.1 325.0,793.7 324.3,794.9 323.6,794.8 322.9,792.8 322.2,793.9 321.5,793.5 320.8,793.3 320.1,794.5 319.4,793.8 318.7,794.5 318.0,794.7 317.3,794.8 316.6,794.1 315.9,794.8 315.2,793.2 314.5,794.7 313.8,793.0 313.1,793.1 312.4,793.2 311.7,794.4 311.0,793.9 310.3,793.1 309.6,792.8 308.9,794.7 308.2,794.3 307.5,792.9 306.8,794.2 306.1,794.8 305.4,794.8 304.7,793.5 304.0,793.2 303.3,794.6 302.6,794.0 301.9,794.3 301.2,792.9 300.5,794.8 299.8,793.8 299.1,794.2 298.4,794.3 297.7,795.0 297.0,797.1 296.3,794.2 295.6,793.7 294.9,794.1 294.2,793.2 293.5,794.7 292.8,794.1 292.1,794.0 291.4,793.6 290.7,793.9 290.0,795.2 289.3,794.5 288.6,794.8 287.9,793.9 287.2,794.2 286.5,794.9 285.8,796.1 285.1,795.0 284.4,793.6 283.7,794.5 283.0,793.2 282.3,793.6 281.6,793.0 280.9,794.2 280.2,795.0 279.5,794.9 278.8,794.6 278.1,794.2 277.4,796.0 276.7,793.9 276.0,794.7 275.3,794.7 274.6,794.7 273.9,793.4 273.2,792.9 272.5,794.0 271.8,794.9 271.1,793.0 270.4,795.2 269.7,794.8 269.0,793.5 268.3,794.1 267.6,793.8 266.9,794.6 266.2,794.6 265.5,794.6 264.8,792.9 264.1,793.8 263.4,792.9 262.7,794.2 262.0,793.4 261.3,794.2 260.6,793.7 259.9,794.8 259.2,793.1 258.5,794.6 257.8,795.1 257.1,793.5 256.4,793.4 255.7,793.9 255.0,793.4 254.3,794.6 253.6,794.7 252.9,794.6 252.2,794.4 251.5,793.8 250.8,793.2 250.1,792.9 249.4,793.5 248.7,793.8 248.0,793.1 247.3,793.3 246.6,793.2 245.9,793.0 245.2,794.8 244.5,793.7 243.8,793.3 243.1,794.9 242.4,793.7 241.7,793.5 241.0,794.8 240.3,793.8 239.6,794.7 238.9,794.7 238.2,793.3 237.5,793.8 236.8,792.8 236.1,794.0 235.4,793.8 234.7,795.1 234.0,792.9 233.3,793.6 232.6,794.0 231.9,793.6 231.2,794.6 230.5,794.0 229.8,794.7 229.1,794.1 228.4,793.1 227.7,794.1 227.0,794.8 226.3,793.9 225.6,794.5 224.9,794.0 224.2,794.7 223.5,793.9 222.8,793.2 222.1,794.8 221.4,795.6 220.7,793.8 220.0,793.4 219.3,792.8 218.6,793.4 217.9,794.5 217.2,794.7 216.5,794.6 215.8,793.8 215.1,795.1 214.4,793.6 213.7,794.8 213.0,792.8 212.3,793.9 211.6,794.2 210.9,793.3 210.2,793.3 209.5,794.8 208.8,793.6 208.1,794.8 207.4,793.9 206.7,794.0 206.0,793.3 205.3,794.9 204.6,794.0 203.9,793.4 203.2,794.0 202.5,792.9 201.8,794.8 201.1,793.5 200.4,793.9 199.7,793.7 199.0,794.1 198.3,793.2 197.6,794.7 196.9,795.1 196.2,793.0 195.5,792.9 194.8,794.9 194.1,793.5 193.4,794.0 192.7,793.2 192.0,793.3 191.3,793.1 190.6,795.0 189.9,794.0 189.2,793.6 188.5,794.4 187.8,794.9 187.1,793.8 186.4,794.6 185.7,793.0 185.0,794.1 184.3,793.0 183.6,794.4 182.9,793.9 182.2,793.0 181.5,794.6 180.8,793.1 180.1,794.0 179.4,793.0 178.7,794.0 178.0,794.5 177.3,794.6 176.6,794.7 175.9,794.9 175.2,793.3 174.5,794.7 173.8,793.8 173.1,793.3 172.4,793.3 171.7,793.2 171.0,794.5 170.3,795.2 169.6,795.1 168.9,794.4 168.2,793.2 167.5,794.1 166.8,794.1 166.1,793.0 165.4,794.0 164.7,794.2 164.0,795.1 163.3,794.7 162.6,794.5 161.9,793.3 161.2,794.4 160.5,793.5 159.8,793.9 159.1,795.1 158.4,793.2 157.7,795.0 157.0,793.8 156.3,793.7 155.6,794.4 154.9,793.5 154.2,792.9 153.5,795.1 152.8,793.8 152.1,794.3 151.4,793.4 150.7,794.2 150.0,794.2 149.3,793.8 148.6,794.3 147.9,793.9 147.2,794.3 146.5,794.9 145.8,794.8 145.1,793.3 144.4,793.8 143.7,793.2 143.0,792.8 142.3,793.9 141.6,794.2 140.9,793.9 140.2,793.7 139.5,792.8 138.8,793.6 138.1,794.0 137.4,793.0 136.7,794.3 136.0,794.8 135.3,793.1 134.6,797.1 133.9,793.6 133.2,795.1 132.5,793.9 131.8,794.0 131.1,794.2 130.4,793.1 129.7,793.9 129.0,793.5 128.3,794.7 127.6,793.8 126.9,793.8 126.2,793.3 125.5,792.9 124.8,793.7 124.1,794.3 123.4,795.2 122.7,795.0 122.0,795.1 121.3,793.5 120.6,793.4 119.9,794.5 119.2,794.9 118.5,794.1 117.8,794.1 117.1,793.3 116.4,794.8 115.7,794.2 115.0,794.7 114.3,794.2 113.6,793.2 112.9,793.1 112.2,794.7 111.5,793.7 110.8,793.3 110.1,794.6 109.4,794.5 108.7,793.9 108.0,793.0 107.3,795.0 106.6,794.6 105.9,794.1 105.2,793.8 104.5,793.9 103.8,794.3 103.1,794.5 102.4,793.3 101.7,793.2 101.0,793.1 100.3,793.6 99.6,792.9 98.9,793.8 98.2,793.6 97.5,795.1 96.8,792.8 96.1,794.9 95.4,793.3 94.7,793.3 94.0,793.1 93.3,794.9 92.6,794.8 91.9,795.6 91.2,794.2 90.5,793.1 89.8,794.5 89.1,793.3 88.4,793.5 87.7,793.5 87.0,793.9 86.3,793.7 85.6,793.7 84.9,795.0 84.2,793.3 83.5,795.0 82.8,793.3 82.1,793.5 81.4,794.4 80.7,794.5 80.0,793.6" fill="#ff00ff" stroke="none"/>
<polyline points="145.6,789.2 146.2,767 146.5,795 147.1,789.2" fill="none" stroke="#ff00ff" stroke-width="1"/>
<polyline points="153.1,789.2 153.7,785 154.0,805.5 154.6,789.2" fill="none" stroke="#ff00ff" stroke-width="1"/>
<polyline points="282.9,789.2 283.5,760 283.8,808 284.4,789.2" fill="none" stroke="#ff00ff" stroke-width="1"/>
<polyline points="339.6,789.2 340.2,775.8 340.5,795 341.1,789.2" fill="none" stroke="#ff00ff" stroke-width="1"/>
<polyline points="400.8,789.2 401.4,771.1 401.7,795 402.3,789.2" fill="none" stroke="#ff00ff" stroke-width="1"/>
<polyline points="414.6,789.2 415.2,785 415.5,803.2 416.1,789.2" fill="none" stroke="#ff00ff" stroke-width="1"/>
<polyline points="431.8,789.2 432.4,736.2 432.7,833.6 433.3,789.2" fill="none" stroke="#ff00ff" stroke-width="1"/>
<polyline points="671.4,789.2 672.0,771.3 672.3,806.2 672.9,789.2" fill="none" stroke="#ff00ff" stroke-width="1"/>
<polyline points="690.8,789.2 691.4,772 691.7,803.2 692.3,789.2" fill="none" stroke="#ff00ff" stroke-width="1"/>
<polyline points="695.2,789.2 695.8,776 696.1,803 696.7,789.2" fill="none" stroke="#ff00ff" stroke-width="1"/>
<polyline points="711.6,789.2 712.2,770.5 712.5,806.2 713.1,789.2" fill="none" stroke="#ff00ff" stroke-width="1"/>
</g>
<text x="368" y="470" font-family="Liberation Serif" font-size="23.5" text-anchor="middle" fill="#000" textLength="25" lengthAdjust="spacingAndGlyphs">(<tspan font-weight="bold">c</tspan>)</text>
<text x="368.2" y="942" font-family="Liberation Serif" font-size="23.5" text-anchor="middle" fill="#000" textLength="29.5" lengthAdjust="spacingAndGlyphs">(<tspan font-weight="bold">d</tspan>)</text>
</svg></body></html>
